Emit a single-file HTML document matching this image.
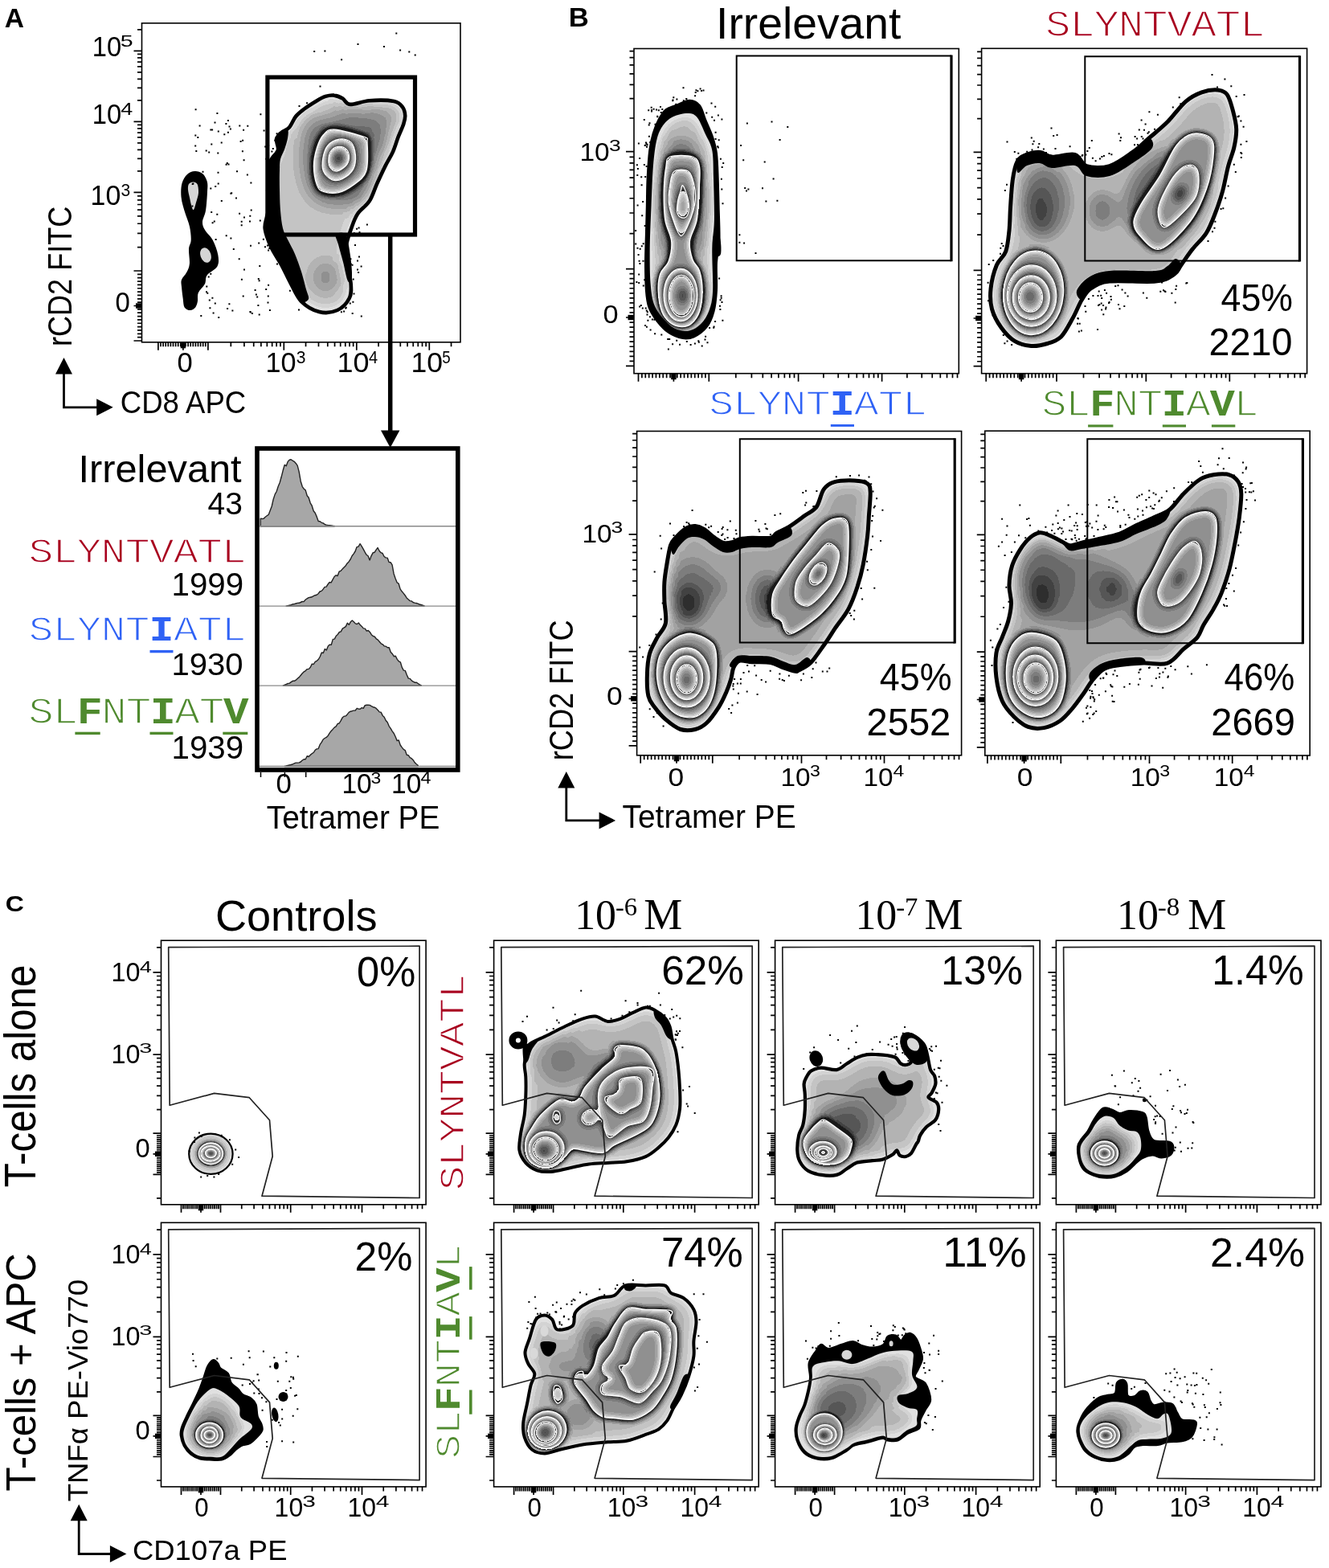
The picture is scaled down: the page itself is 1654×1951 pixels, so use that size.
<!DOCTYPE html>
<html><head><meta charset="utf-8"><title>Figure</title>
<style>html,body{margin:0;padding:0;background:#fff}svg{display:block}</style></head>
<body><svg width="1654" height="1951" viewBox="0 0 1654 1951">
<rect width="1654" height="1951" fill="#fff"/>
<clipPath id="cA1"><rect x="176.5" y="28.8" width="396.5" height="397"/></clipPath>
<filter id="fA1" filterUnits="userSpaceOnUse" x="176.5" y="28.8" width="396.5" height="397" color-interpolation-filters="sRGB">
<feGaussianBlur in="SourceGraphic" stdDeviation="1.0" result="br"/>
<feGaussianBlur in="SourceGraphic" stdDeviation="4.5" result="bg"/>
<feGaussianBlur in="SourceGraphic" stdDeviation="10.0" result="bb"/>
<feGaussianBlur in="SourceGraphic" stdDeviation="9.0" result="bl"/>
<feColorMatrix in="bg" type="matrix" values="0 1 0 0 0 0 0 0 0 0 0 0 0 0 0 0 0 0 0 1" result="g"/>
<feComponentTransfer in="g" result="tg"><feFuncR type="table" tableValues="0 0.06 0.121 0.181 0.241 0.302 0.362 0.422 0.483 0.543 0.603 0.664 0.724 0.784 0.845 0.905 0.965 0.013 0.043 0.073 0.103 0.133 0.164 0.194 0.224 0.254 0.284 0.314 0.345 0.375 0.405 0.435 0.465 0.495 0.526 0.556 0.586 0.616 0.646 0.676 0.707 0.737 0.767 0.797 0.827 0.857 0.888 0.918 0.948 0.978 0.008 0.038 0.069 0.099 0.129 0.159 0.189 0.219 0.25 0.28 0.31 0.34 0.37 0.4 0.431 0.461 0.491 0.521 0.551 0.581 0.612 0.642 0.672 0.702 0.732 0.762 0.793 0.823 0.853 0.883 0.913 0.943 0.974 0.004 0.034 0.064 0.094 0.124 0.155 0.185 0.215 0.245 0.275 0.305 0.336 0.366 0.396 0.426 0.456 0.486 0.517 0.547 0.577 0.607 0.637 0.667 0.698 0.728 0.758 0.788 0.818 0.848 0.879 0.909 0.939 0.969 0.999 0.029 0.06 0.09 0.12 0.15 0.18 0.21 0.241 0.271 0.301 0.331 0.361 0.391 0.422 0.452 0.482 0.512 0.542 0.572 0.603 0.633 0.663 0.693 0.723 0.753 0.784 0.814 0.844 0.874 0.904 0.934 0.965 0.995 0.025 0.055 0.085 0.115 0.146 0.176 0.206 0.236 0.266 0.296 0.327 0.357 0.387 0.417 0.447 0.477 0.508 0.538 0.568 0.598 0.628 0.658 0.689 0.719 0.749 0.779 0.809 0.839 0.87 0.9 0.93 0.96 0.99 0.02 0.051 0.081 0.111 0.141 0.171 0.201 0.232 0.262 0.292 0.322 0.352 0.382 0.413 0.443 0.473 0.503 0.533 0.563 0.594 0.624 0.654 0.684 0.714 0.744 0.775 0.805 0.835 0.865 0.895 0.925 0.956 0.986 0.016 0.046 0.076 0.106 0.137 0.167 0.197 0.227 0.257 0.287 0.317 0.348 0.378 0.408 0.438 0.468 0.498 0.529 0.559 0.589 0.619 0.649 0.679 0.71 0.74 0.77 0.8 0.83 0.86 0.891 0.921 0.951 0.981 0.011 0.041 0.072 0.102 0.132 0.162 0.192"/></feComponentTransfer>
<feColorMatrix in="bb" type="matrix" values="0 0 8.0 0 0 0 0 0 0 0 0 0 0 0 0 0 0 0 0 1" result="b"/>
<feColorMatrix in="bl" type="matrix" values="0.4400 0 0 0 -0.2200 0 0 0 0 0 0 0 0 0 0 0 0 0 0 1" result="l"/>
<feComposite in="b" in2="l" operator="arithmetic" k2="1" k3="1" result="bl2"/>
<feComponentTransfer in="g" result="ib"><feFuncR type="table" tableValues="1 1 1 1 1 1 1 1 1 1 1 1 1 1 1 1 1 0 0 0 0 0 0 0 0 0 0 0 0 0 0 0 0 0 0 0 0 0 0 0 0 0 0 0 0 0 0 0 0 0 0 0 0 0 0 0 0 0 0 0 0 0 0 0 0 0 0 0 0 0 0 0 0 0 0 0 0 0 0 0 0 0 0 0 0 0 0 0 0 0 0 0 0 0 0 0 0 0 0 0 0 0 0 0 0 0 0 0 0 0 0 0 0 0 0 0 0 0 0 0 0 0 0 0 0 0 0 0 0 0 0 0 0 0 0 0 0 0 0 0 0 0 0 0 0 0 0 0 0 0 0 0 0 0 0 0 0 0 0 0 0 0 0 0 0 0 0 0 0 0 0 0 0 0 0 0 0 0 0 0 0 0 0 0 0 0 0 0 0 0 0 0 0 0 0 0 0 0 0 0 0 0 0 0 0 0 0 0 0 0 0 0 0 0 0 0 0 0 0 0 0 0 0 0 0 0 0 0 0 0 0 0 0 0 0 0 0 0 0 0 0 0 0 0 0 0 0 0 0 0 0 0 0 0 0 0"/></feComponentTransfer>
<feComposite in="bl2" in2="ib" operator="arithmetic" k1="1" result="hb"/>
<feComposite in="tg" in2="hb" operator="arithmetic" k2="1" k3="1" result="t"/>
<feComponentTransfer in="t" result="z1"><feFuncR type="table" tableValues="0.88 0.88 0.88 0.88 0.88 0.88 0.88 0.88 0.88 0.88 0.88 0.88 0.88 0.88 0.88 0.88 0.88 0.88 0.88 0.88 0.88 0.88 0.88 0.88 0.831 0.831 0.831 0.831 0.831 0.831 0.831 0.831 0.831 0.831 0.831 0.831 0.831 0.831 0.831 0.831 0.831 0.831 0.831 0.831 0.831 0.831 0.831 0.77 0.77 0.77 0.77 0.77 0.77 0.77 0.77 0.77 0.77 0.77 0.77 0.77 0.77 0.77 0.77 0.77 0.77 0.77 0.77 0.77 0.77 0.77 0.705 0.705 0.705 0.705 0.705 0.705 0.705 0.705 0.705 0.705 0.705 0.705 0.705 0.705 0.705 0.705 0.705 0.705 0.705 0.705 0.705 0.705 0.705 0.636 0.636 0.636 0.636 0.636 0.636 0.636 0.636 0.636 0.636 0.636 0.636 0.636 0.636 0.636 0.636 0.636 0.636 0.636 0.636 0.636 0.636 0.636 0.565 0.565 0.565 0.565 0.565 0.565 0.565 0.565 0.565 0.565 0.565 0.565 0.565 0.565 0.565 0.565 0.565 0.565 0.565 0.565 0.565 0.565 0.565 0.565 0.492 0.492 0.492 0.492 0.492 0.492 0.492 0.492 0.492 0.492 0.492 0.492 0.492 0.492 0.492 0.492 0.492 0.492 0.492 0.492 0.492 0.492 0.492 0.416 0.416 0.416 0.416 0.416 0.416 0.416 0.416 0.416 0.416 0.416 0.416 0.416 0.416 0.416 0.416 0.416 0.416 0.416 0.416 0.416 0.416 0.416 0.339 0.339 0.339 0.339 0.339 0.339 0.339 0.339 0.339 0.339 0.339 0.339 0.339 0.339 0.339 0.339 0.339 0.339 0.339 0.339 0.339 0.339 0.339 0.261 0.261 0.261 0.261 0.261 0.261 0.261 0.261 0.261 0.261 0.261 0.261 0.261 0.261 0.261 0.261 0.261 0.261 0.261 0.261 0.261 0.261 0.261 0.181 0.181 0.181 0.181 0.181 0.181 0.181 0.181 0.181 0.181 0.181 0.181 0.181 0.181 0.181 0.181 0.181 0.181 0.181 0.181 0.181 0.181 0.181 0.1"/></feComponentTransfer>
<feColorMatrix in="z1" type="matrix" values="1 0 0 0 0 1 0 0 0 0 1 0 0 0 0 0 0 0 0 1" result="z"/>
<feColorMatrix in="br" type="matrix" values="0 0 0 0 0 0 0 0 0 0 0 0 0 0 0 3 0 0 0 -1" result="m"/>
<feComposite in="z" in2="m" operator="in"/>
</filter>
<defs><path id="s1" d="M415.8 118.6C419.4 119 423.1 120.7 426.4 122.6C429.7 124.5 430.1 129.5 435.7 129.9C441.2 130.3 450.6 125.9 459.7 125.2C468.8 124.5 483.4 124.6 490.3 125.9C497.2 127.2 498.6 130.2 500.9 133.2C503.2 136.2 504 140.2 504.2 143.8C504.4 147.4 503.6 150.1 502.2 154.5C500.8 158.9 497.8 164.6 495.6 170.4C493.4 176.2 491.6 183.1 488.9 189.1C486.2 195.1 482.9 199.8 479.6 206.4C476.3 213.1 472.3 221.7 469 229C465.7 236.3 463.7 244.1 459.7 250.3C455.7 256.5 448.8 260.4 445 266.2C441.2 271.9 439.3 278.3 437 284.8C434.7 291.3 432 298.1 431 305C430 311.9 430.1 318.1 431 326C431.9 333.9 436 344.8 436.6 352.3C437.2 359.8 437.6 365.4 434.8 371C432 376.6 426.1 383.2 419.8 386C413.6 388.8 404.8 389.9 397.3 388C389.8 386.1 380.7 380.8 374.8 374.8C368.9 368.9 365.8 359.8 361.7 352.3C357.6 344.8 354.5 337.3 350.4 329.8C346.3 322.3 340.7 314.8 337.3 307.3C333.9 299.8 330.7 291.1 329.8 284.9C328.9 278.7 331 275.3 332 270C333 264.7 335.3 260.2 336 252.9C336.7 245.6 336.2 234.1 336 226.3C335.8 218.6 334.2 211.3 334.6 206.4C335 201.5 336.7 200.3 338.6 197C340.5 193.7 345.1 190.4 346 186.4C346.9 182.4 343.3 176.7 344 173.1C344.7 169.5 347.3 167.5 350 165.1C352.7 162.7 357 161.8 360 158.5C363 155.2 365 148.8 368 145C371 141.2 373.6 139.3 378 136C382.4 132.7 390 127.9 394.5 125.2C399 122.5 401.6 121 405.1 119.9C408.7 118.8 412.2 118.1 415.8 118.6Z"/><path id="s2" d="M415.8 161.1C424.2 161.5 446.1 167.7 453 170.4C459.9 173.1 456.6 170 457 177.1C457.4 184.2 458.6 204.1 455.7 213C452.8 221.9 445.5 225.9 439.7 230.3C433.9 234.7 427.3 238.3 421.1 239.6C414.9 240.9 406.9 239.9 402.5 238.3C398.1 236.8 396.5 235.6 394.5 230.3C392.5 225 390.5 214.2 390.5 206.4C390.5 198.7 392.5 190.2 394.5 183.8C396.5 177.4 398.9 171.6 402.5 167.8C406.1 164 407.4 160.7 415.8 161.1Z"/><path id="s3" d="M422.4 173.1C427.3 172.4 433.7 173.8 437 177.1C440.3 180.4 441.9 187.5 442.4 193.1C442.8 198.7 442.4 205.5 439.7 210.4C437 215.3 430.8 220.1 426.4 222.3C422 224.5 417.1 225.2 413.1 223.7C409.1 222.1 404.4 217.4 402.5 213C400.6 208.6 400.9 202.3 401.8 197C402.7 191.7 404.4 185.1 407.8 181.1C411.2 177.1 417.5 173.8 422.4 173.1Z"/><path id="s4" d="M422.4 182.4C425.5 182.4 429.7 184 431.7 186.4C433.7 188.8 434.6 193.7 434.4 197C434.2 200.3 432.9 203.7 430.4 206.4C427.8 209.1 422.4 212.8 419.1 213C415.8 213.2 412.2 210.6 410.5 207.7C408.8 204.8 408.7 199.2 409.1 195.7C409.5 192.1 410.9 188.6 413.1 186.4C415.3 184.2 419.3 182.4 422.4 182.4Z"/><ellipse id="s5" cx="421.1" cy="197" rx="8" ry="9"/><path id="s6" d="M392 150C405.7 145 445.3 148.3 460 150C474.7 151.7 478.3 151.7 480 160C481.7 168.3 474.2 185.8 470 200C465.8 214.2 462.5 235.8 455 245C447.5 254.2 435 254.2 425 255C415 255.8 402.5 255 395 250C387.5 245 382.8 236.7 380 225C377.2 213.3 376 192.5 378 180C380 167.5 378.3 155 392 150Z"/><path id="s7" d="M420 130C430 127.5 477.5 131.7 490 135C502.5 138.3 498.3 145.8 495 150C491.7 154.2 480.8 160 470 160C459.2 160 438.3 155 430 150C421.7 145 410 132.5 420 130Z"/><ellipse id="s8" cx="405" cy="345" rx="16" ry="20"/><path id="s9" d="M329.8 284.9C328.9 278.7 331 275.3 332 270C333 264.7 335.3 260.2 336 252.9C336.7 245.6 336.2 234.1 336 226.3C335.8 218.6 334.2 211.3 334.6 206.4C335 201.5 336.7 200.3 338.6 197C340.5 193.7 345.1 190.4 346 186.4C346.9 182.4 343.3 176.7 344 173.1C344.7 169.5 347.7 167.1 350 165.1C352.3 163.1 356.7 159.8 358 161C359.3 162.2 358.7 167.8 358 172C357.3 176.2 355.5 181.7 354 186C352.5 190.3 350 193.7 349 198C348 202.3 348.2 205.7 348 212C347.8 218.3 347.8 227.7 348 236C348.2 244.3 348.3 254 349 262C349.7 270 350.5 278 352 284C353.5 290 355.5 292.7 358 298C360.5 303.3 364.2 309.3 367 316C369.8 322.7 372.7 330.7 375 338C377.3 345.3 379.5 354.3 381 360C382.5 365.7 385 369.5 384 372C383 374.5 378.5 378.1 374.8 374.8C371.1 371.5 365.8 359.8 361.7 352.3C357.6 344.8 354.5 337.3 350.4 329.8C346.3 322.3 340.7 314.8 337.3 307.3C333.9 299.8 330.7 291.1 329.8 284.9Z"/><path id="s10" d="M418 292C419.5 290 427 287.7 430 292C433 296.3 434.7 309.2 436 318C437.3 326.8 438.5 339.7 438 345C437.5 350.3 434.8 353.2 433 350C431.2 346.8 429 333.7 427 326C425 318.3 422.5 309.7 421 304C419.5 298.3 416.5 294 418 292Z"/><path id="s11" d="M242.4 213.1C245.6 212.9 249.4 213.8 252 216C254.6 218.2 256.8 222.2 257.8 226C258.8 229.8 258.3 233 258 239C257.7 245 257 255.8 256 262C255 268.2 252.2 272 252 276C251.8 280 252.8 282.2 255 286C257.1 289.8 262.2 293.7 264.9 298.9C267.6 304.1 270.4 311.7 271.3 317.1C272.2 322.6 272.7 327.4 270.4 331.6C268.1 335.8 260.3 338.9 257.7 342.5C255.1 346.1 256.8 349.7 255 353.3C253.2 356.9 248.3 360.6 246.8 364.2C245.3 367.8 246.5 372.1 245.9 375.1C245.3 378.1 244.7 380.6 243.2 382.4C241.7 384.2 239.1 386 236.8 386C234.5 386 231.1 384.8 229.6 382.4C228.1 380 228.3 375.7 227.7 371.5C227.1 367.3 226.3 360.9 226 357C225.7 353.1 224.9 350.9 226 347.9C227.1 344.9 230.7 342.1 232.3 338.8C234 335.5 235.5 332.8 235.9 328C236.3 323.2 234.7 314.7 235 309.8C235.3 304.9 237.5 303.5 237.7 298.9C237.9 294.3 237.3 288.1 236 282C234.7 275.9 231.3 268.8 229.6 262.6C227.8 256.4 226 250.8 225.5 245C225 239.2 225.2 232.7 226.5 228C227.8 223.3 230.3 219.5 233 217C235.7 214.5 239.2 213.3 242.4 213.1Z"/><path id="s12" d="M235 229C236 227.4 238.2 226.5 240 226.5C241.8 226.5 244.3 226.8 245.5 229C246.7 231.2 247.2 236.2 247 240C246.8 243.8 245 248.5 244 252C243 255.5 241.9 260.2 241 261C240.1 261.8 239.3 259.5 238.5 257C237.7 254.5 236.8 249.5 236 246C235.2 242.5 234.2 238.8 234 236C233.8 233.2 234 230.6 235 229Z"/><ellipse id="s13" cx="256" cy="317.5" rx="6.5" ry="9.5" transform="rotate(-20 256 317.5)"/></defs>
<g clip-path="url(#cA1)">
<use href="#s1" fill="#000"/>
<g filter="url(#fA1)">
<rect x="136.5" y="-11.2" width="476.5" height="477" fill="#000"/>
<use href="#s1" fill="#f00" style="mix-blend-mode:lighten"/>
<use href="#s2" fill="rgb(0,33,0)" style="mix-blend-mode:lighten"/>
<use href="#s3" fill="rgb(0,66,0)" style="mix-blend-mode:lighten"/>
<use href="#s4" fill="rgb(0,99,0)" style="mix-blend-mode:lighten"/>
<use href="#s5" fill="rgb(0,113,0)" style="mix-blend-mode:lighten"/>
<use href="#s6" fill="rgb(0,0,15)" style="mix-blend-mode:lighten"/>
<use href="#s7" fill="rgb(0,0,8)" style="mix-blend-mode:lighten"/>
<use href="#s8" fill="rgb(0,0,10)" style="mix-blend-mode:lighten"/>
</g>
<use href="#s2" fill="none" stroke="#fff" stroke-width="1.3"/>
<use href="#s3" fill="none" stroke="#fff" stroke-width="1.3"/>
<use href="#s4" fill="none" stroke="#fff" stroke-width="1.3"/>
<use href="#s1" fill="none" stroke="#000" stroke-width="4.6" stroke-linejoin="round"/>
<use href="#s9" fill="#000"/>
<use href="#s10" fill="#000"/>
<use href="#s11" fill="#000"/>
<use href="#s12" fill="#d5d5d5"/>
<use href="#s13" fill="#d5d5d5"/>
<path d="M261.4 160.5h2v2h-2zM302.6 198.3h2v2h-2zM298.6 174.9h2v2h-2zM333.1 310.4h2v2h-2zM266.5 151.5h2v2h-2zM319.2 368.4h2v2h-2zM270.8 162.6h2v2h-2zM332.8 367.5h2v2h-2zM282.9 163.7h2v2h-2zM310.9 387.4h2v2h-2zM267.2 231.1h2v2h-2zM322.3 330.0h2v2h-2zM326.9 296.7h2v2h-2zM260.4 382.2h2v2h-2zM316.6 359.9h2v2h-2zM270.5 213.8h2v2h-2zM332.5 375.5h2v2h-2zM247.6 155.6h2v2h-2zM250.9 306.9h2v2h-2zM262.3 178.6h2v2h-2zM288.4 385.4h2v2h-2zM284.5 156.4h2v2h-2zM251.5 212.8h2v2h-2zM270.3 189.4h2v2h-2zM246.0 223.4h2v2h-2zM259.2 188.6h2v2h-2zM246.2 282.3h2v2h-2zM311.4 226.5h2v2h-2zM248.6 245.0h2v2h-2zM245.3 170.0h2v2h-2zM263.4 369.8h2v2h-2zM243.5 261.6h2v2h-2zM239.4 227.4h2v2h-2zM333.1 353.8h2v2h-2zM283.5 203.6h2v2h-2zM263.6 276.3h2v2h-2zM280.6 203.7h2v2h-2zM241.4 338.2h2v2h-2zM334.9 385.1h2v2h-2zM287.2 239.3h2v2h-2zM249.3 392.1h2v2h-2zM280.4 153.1h2v2h-2zM332.0 304.4h2v2h-2zM310.0 274.6h2v2h-2zM258.7 343.4h2v2h-2zM310.3 267.8h2v2h-2zM329.2 181.5h2v2h-2zM248.8 352.6h2v2h-2zM321.6 348.2h2v2h-2zM280.7 292.2h2v2h-2zM296.7 321.3h2v2h-2zM278.3 166.3h2v2h-2zM270.7 227.5h2v2h-2zM242.2 180.6h2v2h-2zM303.0 269.4h2v2h-2zM256.3 355.5h2v2h-2zM242.6 135.2h2v2h-2zM301.7 367.6h2v2h-2zM321.2 301.5h2v2h-2zM281.8 201.9h2v2h-2zM329.0 306.3h2v2h-2zM257.3 363.7h2v2h-2zM310.4 387.0h2v2h-2zM274.8 248.9h2v2h-2zM294.0 212.2h2v2h-2zM266.8 376.6h2v2h-2zM317.9 365.5h2v2h-2zM311.0 304.7h2v2h-2zM241.9 348.0h2v2h-2zM257.3 299.1h2v2h-2zM300.9 187.2h2v2h-2zM307.3 155.7h2v2h-2zM248.4 333.0h2v2h-2zM269.3 265.7h2v2h-2zM299.7 274.8h2v2h-2zM320.8 346.1h2v2h-2zM263.1 160.4h2v2h-2zM284.4 377.2h2v2h-2zM261.3 339.7h2v2h-2zM282.1 382.9h2v2h-2zM243.3 187.1h2v2h-2zM313.0 389.1h2v2h-2zM330.2 358.9h2v2h-2zM265.8 274.4h2v2h-2zM238.4 255.5h2v2h-2zM285.9 159.6h2v2h-2zM256.0 362.2h2v2h-2zM289.8 309.1h2v2h-2zM320.4 378.9h2v2h-2zM330.3 196.8h2v2h-2zM297.3 155.4h2v2h-2zM261.3 233.4h2v2h-2zM242.3 167.4h2v2h-2zM299.9 346.7h2v2h-2zM274.7 176.6h2v2h-2zM301.1 173.8h2v2h-2zM323.4 141.2h2v2h-2zM259.8 372.4h2v2h-2zM306.9 216.6h2v2h-2zM244.8 302.8h2v2h-2zM283.0 149.0h2v2h-2zM327.6 161.6h2v2h-2zM311.7 260.5h2v2h-2zM302.1 160.7h2v2h-2zM321.7 390.5h2v2h-2zM238.7 228.1h2v2h-2zM299.7 279.3h2v2h-2zM322.8 273.6h2v2h-2zM271.2 394.0h2v2h-2zM267.6 297.1h2v2h-2zM269.4 139.9h2v2h-2zM293.0 245.5h2v2h-2zM239.8 350.7h2v2h-2zM303.0 334.5h2v2h-2zM286.4 295.5h2v2h-2zM262.2 262.9h2v2h-2zM297.1 264.7h2v2h-2zM286.4 239.7h2v2h-2zM255.7 186.6h2v2h-2zM264.6 388.5h2v2h-2zM403.4 62.5h2v2h-2zM390.2 62.9h2v2h-2zM477.0 57.0h2v2h-2zM515.7 67.4h2v2h-2zM397.5 106.6h2v2h-2zM424.1 73.2h2v2h-2zM497.1 61.5h2v2h-2zM492.3 40.4h2v2h-2zM444.5 53.9h2v2h-2zM508.3 63.5h2v2h-2zM444.0 323.5h2v2h-2zM455.9 278.5h2v2h-2zM435.7 327.5h2v2h-2zM438.7 346.6h2v2h-2zM437.5 328.7h2v2h-2zM438.4 374.8h2v2h-2zM445.1 337.9h2v2h-2zM423.9 387.3h2v2h-2zM444.3 290.5h2v2h-2zM446.5 288.1h2v2h-2zM441.0 304.1h2v2h-2zM429.8 381.7h2v2h-2zM435.4 321.3h2v2h-2zM448.8 392.6h2v2h-2zM437.7 388.9h2v2h-2zM444.0 334.6h2v2h-2zM445.6 282.5h2v2h-2zM439.8 288.9h2v2h-2zM448.6 330.5h2v2h-2zM439.5 364.5h2v2h-2zM446.0 318.4h2v2h-2zM443.1 283.8h2v2h-2zM434.8 376.6h2v2h-2zM429.2 382.5h2v2h-2zM427.1 386.6h2v2h-2zM343.6 165.3h2v2h-2zM337.4 187.5h2v2h-2zM332.7 247.6h2v2h-2zM371.5 130.9h2v2h-2zM359.9 360.7h2v2h-2zM333.1 222.6h2v2h-2zM333.1 179.9h2v2h-2zM334.3 307.9h2v2h-2zM338.8 183.9h2v2h-2zM371.0 384.4h2v2h-2zM330.9 236.2h2v2h-2zM346.9 164.1h2v2h-2zM381.1 127.2h2v2h-2zM344.0 327.5h2v2h-2zM341.3 173.7h2v2h-2z" fill="#000"/>
</g>
<clipPath id="cB1"><rect x="789" y="60.5" width="404.3" height="404.2"/></clipPath>
<filter id="fB1" filterUnits="userSpaceOnUse" x="789" y="60.5" width="404.3" height="404.2" color-interpolation-filters="sRGB">
<feGaussianBlur in="SourceGraphic" stdDeviation="1.0" result="br"/>
<feGaussianBlur in="SourceGraphic" stdDeviation="4.5" result="bg"/>
<feGaussianBlur in="SourceGraphic" stdDeviation="10.0" result="bb"/>
<feGaussianBlur in="SourceGraphic" stdDeviation="9.0" result="bl"/>
<feColorMatrix in="bg" type="matrix" values="0 1 0 0 0 0 0 0 0 0 0 0 0 0 0 0 0 0 0 1" result="g"/>
<feComponentTransfer in="g" result="tg"><feFuncR type="table" tableValues="0 0.06 0.121 0.181 0.241 0.302 0.362 0.422 0.483 0.543 0.603 0.664 0.724 0.784 0.845 0.905 0.965 0.013 0.043 0.073 0.103 0.133 0.164 0.194 0.224 0.254 0.284 0.314 0.345 0.375 0.405 0.435 0.465 0.495 0.526 0.556 0.586 0.616 0.646 0.676 0.707 0.737 0.767 0.797 0.827 0.857 0.888 0.918 0.948 0.978 0.008 0.038 0.069 0.099 0.129 0.159 0.189 0.219 0.25 0.28 0.31 0.34 0.37 0.4 0.431 0.461 0.491 0.521 0.551 0.581 0.612 0.642 0.672 0.702 0.732 0.762 0.793 0.823 0.853 0.883 0.913 0.943 0.974 0.004 0.034 0.064 0.094 0.124 0.155 0.185 0.215 0.245 0.275 0.305 0.336 0.366 0.396 0.426 0.456 0.486 0.517 0.547 0.577 0.607 0.637 0.667 0.698 0.728 0.758 0.788 0.818 0.848 0.879 0.909 0.939 0.969 0.999 0.029 0.06 0.09 0.12 0.15 0.18 0.21 0.241 0.271 0.301 0.331 0.361 0.391 0.422 0.452 0.482 0.512 0.542 0.572 0.603 0.633 0.663 0.693 0.723 0.753 0.784 0.814 0.844 0.874 0.904 0.934 0.965 0.995 0.025 0.055 0.085 0.115 0.146 0.176 0.206 0.236 0.266 0.296 0.327 0.357 0.387 0.417 0.447 0.477 0.508 0.538 0.568 0.598 0.628 0.658 0.689 0.719 0.749 0.779 0.809 0.839 0.87 0.9 0.93 0.96 0.99 0.02 0.051 0.081 0.111 0.141 0.171 0.201 0.232 0.262 0.292 0.322 0.352 0.382 0.413 0.443 0.473 0.503 0.533 0.563 0.594 0.624 0.654 0.684 0.714 0.744 0.775 0.805 0.835 0.865 0.895 0.925 0.956 0.986 0.016 0.046 0.076 0.106 0.137 0.167 0.197 0.227 0.257 0.287 0.317 0.348 0.378 0.408 0.438 0.468 0.498 0.529 0.559 0.589 0.619 0.649 0.679 0.71 0.74 0.77 0.8 0.83 0.86 0.891 0.921 0.951 0.981 0.011 0.041 0.072 0.102 0.132 0.162 0.192"/></feComponentTransfer>
<feColorMatrix in="bb" type="matrix" values="0 0 8.0 0 0 0 0 0 0 0 0 0 0 0 0 0 0 0 0 1" result="b"/>
<feColorMatrix in="bl" type="matrix" values="0.6000 0 0 0 -0.3000 0 0 0 0 0 0 0 0 0 0 0 0 0 0 1" result="l"/>
<feComposite in="b" in2="l" operator="arithmetic" k2="1" k3="1" result="bl2"/>
<feComponentTransfer in="g" result="ib"><feFuncR type="table" tableValues="1 1 1 1 1 1 1 1 1 1 1 1 1 1 1 1 1 0 0 0 0 0 0 0 0 0 0 0 0 0 0 0 0 0 0 0 0 0 0 0 0 0 0 0 0 0 0 0 0 0 0 0 0 0 0 0 0 0 0 0 0 0 0 0 0 0 0 0 0 0 0 0 0 0 0 0 0 0 0 0 0 0 0 0 0 0 0 0 0 0 0 0 0 0 0 0 0 0 0 0 0 0 0 0 0 0 0 0 0 0 0 0 0 0 0 0 0 0 0 0 0 0 0 0 0 0 0 0 0 0 0 0 0 0 0 0 0 0 0 0 0 0 0 0 0 0 0 0 0 0 0 0 0 0 0 0 0 0 0 0 0 0 0 0 0 0 0 0 0 0 0 0 0 0 0 0 0 0 0 0 0 0 0 0 0 0 0 0 0 0 0 0 0 0 0 0 0 0 0 0 0 0 0 0 0 0 0 0 0 0 0 0 0 0 0 0 0 0 0 0 0 0 0 0 0 0 0 0 0 0 0 0 0 0 0 0 0 0 0 0 0 0 0 0 0 0 0 0 0 0 0 0 0 0 0 0"/></feComponentTransfer>
<feComposite in="bl2" in2="ib" operator="arithmetic" k1="1" result="hb"/>
<feComposite in="tg" in2="hb" operator="arithmetic" k2="1" k3="1" result="t"/>
<feComponentTransfer in="t" result="z1"><feFuncR type="table" tableValues="0.88 0.88 0.88 0.88 0.88 0.88 0.88 0.88 0.88 0.88 0.88 0.88 0.88 0.88 0.88 0.88 0.88 0.88 0.88 0.88 0.88 0.88 0.88 0.88 0.831 0.831 0.831 0.831 0.831 0.831 0.831 0.831 0.831 0.831 0.831 0.831 0.831 0.831 0.831 0.831 0.831 0.831 0.831 0.831 0.831 0.831 0.831 0.77 0.77 0.77 0.77 0.77 0.77 0.77 0.77 0.77 0.77 0.77 0.77 0.77 0.77 0.77 0.77 0.77 0.77 0.77 0.77 0.77 0.77 0.77 0.705 0.705 0.705 0.705 0.705 0.705 0.705 0.705 0.705 0.705 0.705 0.705 0.705 0.705 0.705 0.705 0.705 0.705 0.705 0.705 0.705 0.705 0.705 0.636 0.636 0.636 0.636 0.636 0.636 0.636 0.636 0.636 0.636 0.636 0.636 0.636 0.636 0.636 0.636 0.636 0.636 0.636 0.636 0.636 0.636 0.636 0.565 0.565 0.565 0.565 0.565 0.565 0.565 0.565 0.565 0.565 0.565 0.565 0.565 0.565 0.565 0.565 0.565 0.565 0.565 0.565 0.565 0.565 0.565 0.565 0.492 0.492 0.492 0.492 0.492 0.492 0.492 0.492 0.492 0.492 0.492 0.492 0.492 0.492 0.492 0.492 0.492 0.492 0.492 0.492 0.492 0.492 0.492 0.416 0.416 0.416 0.416 0.416 0.416 0.416 0.416 0.416 0.416 0.416 0.416 0.416 0.416 0.416 0.416 0.416 0.416 0.416 0.416 0.416 0.416 0.416 0.339 0.339 0.339 0.339 0.339 0.339 0.339 0.339 0.339 0.339 0.339 0.339 0.339 0.339 0.339 0.339 0.339 0.339 0.339 0.339 0.339 0.339 0.339 0.261 0.261 0.261 0.261 0.261 0.261 0.261 0.261 0.261 0.261 0.261 0.261 0.261 0.261 0.261 0.261 0.261 0.261 0.261 0.261 0.261 0.261 0.261 0.181 0.181 0.181 0.181 0.181 0.181 0.181 0.181 0.181 0.181 0.181 0.181 0.181 0.181 0.181 0.181 0.181 0.181 0.181 0.181 0.181 0.181 0.181 0.1"/></feComponentTransfer>
<feColorMatrix in="z1" type="matrix" values="1 0 0 0 0 1 0 0 0 0 1 0 0 0 0 0 0 0 0 1" result="z"/>
<feColorMatrix in="br" type="matrix" values="0 0 0 0 0 0 0 0 0 0 0 0 0 0 0 3 0 0 0 -1" result="m"/>
<feComposite in="z" in2="m" operator="in"/>
</filter>
<defs><path id="s14" d="M858.4 125.3C863.3 125.3 867.4 127.5 870.6 131.4C873.8 135.3 875 142.4 877.6 148.8C880.2 155.2 884 162.7 886.3 169.7C888.6 176.7 890.4 181.9 891.5 190.6C892.6 199.3 892.8 211 893.2 222C893.6 233 893.8 243.8 894.1 256.8C894.4 269.9 895.4 288.7 895 300.3C894.6 311.9 892.1 316.3 891.5 326.5C890.9 336.7 892.1 351.1 891.5 361.3C890.9 371.5 890 379.9 888 387.5C886 395.1 883.4 401.4 879.3 406.6C875.2 411.8 868.5 416.5 863.6 418.8C858.7 421.1 854.9 421.5 849.7 420.6C844.5 419.7 837.5 417.1 832.3 413.6C827.1 410.1 822.4 404.9 818.3 399.7C814.2 394.5 810.2 388.6 807.9 382.2C805.6 375.8 805.1 370.6 804.4 361.3C803.7 352 803.5 338.1 803.5 326.5C803.5 314.9 804.1 303.2 804.4 291.6C804.7 280 805 268.4 805.3 256.8C805.6 245.2 805.5 233.6 806.1 222C806.7 210.4 807.5 196.4 808.7 187.1C809.9 177.8 811.2 172.6 813.1 166.2C815 159.8 817.5 153.7 820.1 148.8C822.7 143.9 825.3 139.5 828.8 136.6C832.3 133.7 836.1 133.3 841 131.4C845.9 129.5 853.5 125.3 858.4 125.3Z"/><path id="s15" d="M855 141C859.9 141 863.2 141.1 867 145.3C870.8 149.5 874.4 159.2 877.6 166.2C880.8 173.2 884.6 177.8 886.3 187.1C888 196.4 887.6 207.5 888 222C888.4 236.5 889.2 259.7 888.9 274.2C888.6 288.7 886.6 294.5 886.3 309C886 323.5 887.7 348.5 887.1 361.3C886.5 374.1 885.3 378.7 882.8 385.7C880.3 392.7 876.6 398.8 872.3 403.1C867.9 407.5 862.2 410.9 856.7 411.8C851.2 412.7 844.4 411 839.2 408.4C834 405.8 829.5 401.1 825.3 396.2C821.1 391.2 816.6 386 814 378.7C811.4 371.4 810.5 364.2 809.6 352.6C808.7 341 808.6 325 808.7 309C808.9 293 809.8 274.2 810.5 256.8C811.2 239.4 811.9 218.4 813.1 204.5C814.3 190.6 815.5 181.3 817.5 173.2C819.5 165.1 822 160.3 825.3 155.7C828.6 151 832.5 147.8 837.5 145.3C842.5 142.9 850.1 141 855 141Z"/><path id="s16" d="M834 195C839.5 192.8 855.8 192.8 861.9 195C868 197.2 869.3 200.6 870.6 208C871.9 215.4 870.3 228.4 869.7 239.4C869.1 250.4 869 264.1 867.1 274.2C865.2 284.3 859.3 292.2 858.4 300.3C857.5 308.4 859.9 316.9 861.9 323C863.9 329.1 868.6 330.5 870.6 336.9C872.6 343.3 874.1 352.9 874.1 361.3C874.1 369.7 872.9 380.5 870.6 387.5C868.3 394.5 863.9 399.9 860.1 403.1C856.3 406.3 852.2 406.9 847.9 406.6C843.5 406.3 838 404.6 834 401.4C830 398.2 826.1 394.2 823.6 387.5C821.1 380.8 819.5 369.2 819.2 361.3C818.9 353.4 819.6 346.5 821.8 340.4C824 334.3 830 331.4 832.3 324.7C834.6 318 836.4 308.7 835.7 300.3C835 291.9 829.5 284.3 827.9 274.2C826.3 264.1 826.1 250.4 826.2 239.4C826.4 228.4 827.5 215.4 828.8 208C830.1 200.6 828.5 197.2 834 195Z"/><path id="s17" d="M839.2 213.2C843 210.6 852.6 210.6 856.7 213.2C860.8 215.8 862.2 223.1 863.6 228.9C865 234.7 866 241.1 865.4 248.1C864.8 255.1 863 263.1 860.1 270.7C857.2 278.2 851.7 293.1 847.9 293.4C844.1 293.7 840.1 279.5 837.5 272.5C834.9 265.5 832.9 258.9 832.3 251.6C831.7 244.3 832.9 235.3 834 228.9C835.1 222.5 835.4 215.8 839.2 213.2Z"/><path id="s18" d="M849.7 230.7C851 231.6 853.6 238.6 854.9 242.9C856.2 247.2 857.5 252.5 857.5 256.8C857.5 261.2 856.5 266.7 854.9 269C853.3 271.3 849.9 271.6 847.9 270.7C845.9 269.8 843.4 267.3 842.7 263.8C842 260.3 842.9 254.2 843.6 249.8C844.3 245.4 846.1 240.8 847.1 237.6C848.1 234.4 848.4 229.8 849.7 230.7Z"/><ellipse id="s19" cx="847" cy="367" rx="21" ry="32.7"/><ellipse id="s20" cx="848" cy="368.3" rx="15.7" ry="26"/><ellipse id="s21" cx="849.5" cy="368" rx="7" ry="10"/><ellipse id="s22" cx="848" cy="250" rx="28" ry="75"/><ellipse id="s23" cx="848" cy="370" rx="30" ry="40"/><ellipse id="s24" cx="848" cy="300" rx="25" ry="20"/><path id="s25" d="M889 292C890.5 290.7 894.7 292 896 296C897.3 300 898 312.3 897 316C896 319.7 891.7 320 890 318C888.3 316 887.2 308.3 887 304C886.8 299.7 887.5 293.3 889 292Z"/></defs>
<g clip-path="url(#cB1)">
<use href="#s14" fill="#000"/>
<g filter="url(#fB1)">
<rect x="749" y="20.5" width="484.3" height="484.2" fill="#000"/>
<use href="#s15" fill="#f00" style="mix-blend-mode:lighten"/>
<use href="#s16" fill="rgb(0,33,0)" style="mix-blend-mode:lighten"/>
<use href="#s17" fill="rgb(0,66,0)" style="mix-blend-mode:lighten"/>
<use href="#s18" fill="rgb(0,99,0)" style="mix-blend-mode:lighten"/>
<use href="#s19" fill="rgb(0,66,0)" style="mix-blend-mode:lighten"/>
<use href="#s20" fill="rgb(0,99,0)" style="mix-blend-mode:lighten"/>
<use href="#s21" fill="rgb(0,113,0)" style="mix-blend-mode:lighten"/>
<use href="#s22" fill="rgb(0,0,15)" style="mix-blend-mode:lighten"/>
<use href="#s23" fill="rgb(0,0,13)" style="mix-blend-mode:lighten"/>
<use href="#s24" fill="rgb(0,0,10)" style="mix-blend-mode:lighten"/>
</g>
<use href="#s16" fill="none" stroke="#fff" stroke-width="1.3"/>
<use href="#s17" fill="none" stroke="#fff" stroke-width="1.3"/>
<use href="#s18" fill="none" stroke="#fff" stroke-width="1.3"/>
<use href="#s19" fill="none" stroke="#fff" stroke-width="1.3"/>
<use href="#s20" fill="none" stroke="#fff" stroke-width="1.3"/>
<use href="#s14" fill="none" stroke="#000" stroke-width="3.0" stroke-linejoin="round"/>
<use href="#s25" fill="#000"/>
<path d="M896.6 367.2h2v2h-2zM823.3 135.0h2v2h-2zM795.4 327.0h2v2h-2zM792.9 209.1h2v2h-2zM878.3 139.4h2v2h-2zM853.4 122.2h2v2h-2zM804.5 390.4h2v2h-2zM897.7 206.9h2v2h-2zM806.2 136.3h2v2h-2zM803.0 176.5h2v2h-2zM804.0 181.7h2v2h-2zM836.3 124.2h2v2h-2zM802.2 179.7h2v2h-2zM832.2 420.9h2v2h-2zM898.5 252.3h2v2h-2zM790.2 302.5h2v2h-2zM806.7 154.6h2v2h-2zM801.7 280.0h2v2h-2zM802.2 218.9h2v2h-2zM896.9 221.7h2v2h-2zM885.2 144.8h2v2h-2zM803.6 177.8h2v2h-2zM836.5 123.4h2v2h-2zM797.2 219.2h2v2h-2zM840.3 128.7h2v2h-2zM895.4 384.1h2v2h-2zM795.1 380.4h2v2h-2zM836.1 427.3h2v2h-2zM797.6 229.2h2v2h-2zM889.6 172.0h2v2h-2zM792.6 254.4h2v2h-2zM807.9 393.2h2v2h-2zM853.2 121.9h2v2h-2zM813.4 396.7h2v2h-2zM845.0 427.8h2v2h-2zM803.7 206.0h2v2h-2zM797.8 305.2h2v2h-2zM799.1 249.9h2v2h-2zM807.5 152.3h2v2h-2zM853.8 423.9h2v2h-2zM810.0 137.4h2v2h-2zM898.4 397.8h2v2h-2zM841.4 122.4h2v2h-2zM868.8 424.7h2v2h-2zM877.1 417.7h2v2h-2zM803.8 385.5h2v2h-2zM800.8 148.1h2v2h-2zM841.2 422.7h2v2h-2zM794.2 340.4h2v2h-2zM895.6 372.3h2v2h-2zM899.2 202.1h2v2h-2zM805.4 397.7h2v2h-2zM896.7 369.8h2v2h-2zM802.1 403.9h2v2h-2zM814.1 414.3h2v2h-2zM864.1 118.2h2v2h-2zM806.9 168.8h2v2h-2zM810.0 135.9h2v2h-2zM821.0 131.9h2v2h-2zM798.2 267.2h2v2h-2zM874.5 111.6h2v2h-2zM793.6 315.9h2v2h-2zM892.8 182.6h2v2h-2zM872.0 112.1h2v2h-2zM887.6 405.4h2v2h-2zM798.8 382.6h2v2h-2zM889.1 399.1h2v2h-2zM894.1 345.6h2v2h-2zM817.2 143.7h2v2h-2zM876.5 421.6h2v2h-2zM818.8 136.3h2v2h-2zM796.8 379.0h2v2h-2zM812.6 134.8h2v2h-2zM808.6 409.5h2v2h-2zM817.3 144.3h2v2h-2zM794.2 351.1h2v2h-2zM887.2 406.7h2v2h-2zM893.7 173.2h2v2h-2zM794.6 323.7h2v2h-2zM790.1 285.9h2v2h-2zM868.3 423.3h2v2h-2zM863.9 426.6h2v2h-2zM801.2 347.2h2v2h-2zM889.2 131.8h2v2h-2zM895.0 379.8h2v2h-2zM795.1 196.0h2v2h-2zM801.7 180.1h2v2h-2zM879.5 425.3h2v2h-2zM864.7 114.0h2v2h-2zM867.4 112.2h2v2h-2zM816.0 135.4h2v2h-2zM865.4 111.3h2v2h-2zM897.4 147.6h2v2h-2zM821.8 139.0h2v2h-2zM849.8 124.2h2v2h-2zM792.3 217.0h2v2h-2zM814.5 153.7h2v2h-2zM809.7 132.8h2v2h-2zM822.3 415.5h2v2h-2zM892.9 142.4h2v2h-2zM872.7 429.5h2v2h-2zM793.9 177.6h2v2h-2zM830.2 421.0h2v2h-2zM792.5 307.7h2v2h-2zM884.5 127.6h2v2h-2zM882.1 407.0h2v2h-2zM830.9 433.5h2v2h-2zM804.8 387.2h2v2h-2zM802.7 382.6h2v2h-2zM870.6 109.4h2v2h-2zM892.2 181.3h2v2h-2zM803.9 405.8h2v2h-2zM791.9 204.3h2v2h-2zM808.2 175.9h2v2h-2zM804.6 179.2h2v2h-2zM858.6 428.1h2v2h-2zM791.4 350.0h2v2h-2zM895.9 196.8h2v2h-2zM800.9 203.9h2v2h-2zM795.7 308.7h2v2h-2zM837.3 120.2h2v2h-2zM810.9 396.4h2v2h-2zM897.3 234.5h2v2h-2zM897.5 374.9h2v2h-2zM888.0 148.7h2v2h-2zM889.6 163.7h2v2h-2zM799.8 354.6h2v2h-2zM849.5 108.3h2v2h-2zM799.7 302.2h2v2h-2zM799.5 323.8h2v2h-2zM979.3 157.1h2v2h-2zM924.2 198.3h2v2h-2zM950.7 200.6h2v2h-2zM930.4 234.6h2v2h-2zM921.0 180.0h2v2h-2zM925.1 301.6h2v2h-2zM959.5 150.6h2v2h-2zM961.6 221.6h2v2h-2zM952.4 249.5h2v2h-2zM928.9 152.6h2v2h-2zM969.6 172.9h2v2h-2zM919.4 291.2h2v2h-2zM939.5 313.9h2v2h-2zM948.0 233.3h2v2h-2zM966.4 248.7h2v2h-2zM926.2 233.1h2v2h-2zM928.0 236.4h2v2h-2zM919.4 300.7h2v2h-2z" fill="#000"/>
</g>
<clipPath id="cB2"><rect x="1221.6" y="60.3" width="405" height="404.4"/></clipPath>
<filter id="fB2" filterUnits="userSpaceOnUse" x="1221.6" y="60.3" width="405" height="404.4" color-interpolation-filters="sRGB">
<feGaussianBlur in="SourceGraphic" stdDeviation="1.0" result="br"/>
<feGaussianBlur in="SourceGraphic" stdDeviation="4.5" result="bg"/>
<feGaussianBlur in="SourceGraphic" stdDeviation="10.0" result="bb"/>
<feGaussianBlur in="SourceGraphic" stdDeviation="9.0" result="bl"/>
<feColorMatrix in="bg" type="matrix" values="0 1 0 0 0 0 0 0 0 0 0 0 0 0 0 0 0 0 0 1" result="g"/>
<feComponentTransfer in="g" result="tg"><feFuncR type="table" tableValues="0 0.06 0.121 0.181 0.241 0.302 0.362 0.422 0.483 0.543 0.603 0.664 0.724 0.784 0.845 0.905 0.965 0.013 0.043 0.073 0.103 0.133 0.164 0.194 0.224 0.254 0.284 0.314 0.345 0.375 0.405 0.435 0.465 0.495 0.526 0.556 0.586 0.616 0.646 0.676 0.707 0.737 0.767 0.797 0.827 0.857 0.888 0.918 0.948 0.978 0.008 0.038 0.069 0.099 0.129 0.159 0.189 0.219 0.25 0.28 0.31 0.34 0.37 0.4 0.431 0.461 0.491 0.521 0.551 0.581 0.612 0.642 0.672 0.702 0.732 0.762 0.793 0.823 0.853 0.883 0.913 0.943 0.974 0.004 0.034 0.064 0.094 0.124 0.155 0.185 0.215 0.245 0.275 0.305 0.336 0.366 0.396 0.426 0.456 0.486 0.517 0.547 0.577 0.607 0.637 0.667 0.698 0.728 0.758 0.788 0.818 0.848 0.879 0.909 0.939 0.969 0.999 0.029 0.06 0.09 0.12 0.15 0.18 0.21 0.241 0.271 0.301 0.331 0.361 0.391 0.422 0.452 0.482 0.512 0.542 0.572 0.603 0.633 0.663 0.693 0.723 0.753 0.784 0.814 0.844 0.874 0.904 0.934 0.965 0.995 0.025 0.055 0.085 0.115 0.146 0.176 0.206 0.236 0.266 0.296 0.327 0.357 0.387 0.417 0.447 0.477 0.508 0.538 0.568 0.598 0.628 0.658 0.689 0.719 0.749 0.779 0.809 0.839 0.87 0.9 0.93 0.96 0.99 0.02 0.051 0.081 0.111 0.141 0.171 0.201 0.232 0.262 0.292 0.322 0.352 0.382 0.413 0.443 0.473 0.503 0.533 0.563 0.594 0.624 0.654 0.684 0.714 0.744 0.775 0.805 0.835 0.865 0.895 0.925 0.956 0.986 0.016 0.046 0.076 0.106 0.137 0.167 0.197 0.227 0.257 0.287 0.317 0.348 0.378 0.408 0.438 0.468 0.498 0.529 0.559 0.589 0.619 0.649 0.679 0.71 0.74 0.77 0.8 0.83 0.86 0.891 0.921 0.951 0.981 0.011 0.041 0.072 0.102 0.132 0.162 0.192"/></feComponentTransfer>
<feColorMatrix in="bb" type="matrix" values="0 0 8.0 0 0 0 0 0 0 0 0 0 0 0 0 0 0 0 0 1" result="b"/>
<feColorMatrix in="bl" type="matrix" values="0.6000 0 0 0 -0.3000 0 0 0 0 0 0 0 0 0 0 0 0 0 0 1" result="l"/>
<feComposite in="b" in2="l" operator="arithmetic" k2="1" k3="1" result="bl2"/>
<feComponentTransfer in="g" result="ib"><feFuncR type="table" tableValues="1 1 1 1 1 1 1 1 1 1 1 1 1 1 1 1 1 0 0 0 0 0 0 0 0 0 0 0 0 0 0 0 0 0 0 0 0 0 0 0 0 0 0 0 0 0 0 0 0 0 0 0 0 0 0 0 0 0 0 0 0 0 0 0 0 0 0 0 0 0 0 0 0 0 0 0 0 0 0 0 0 0 0 0 0 0 0 0 0 0 0 0 0 0 0 0 0 0 0 0 0 0 0 0 0 0 0 0 0 0 0 0 0 0 0 0 0 0 0 0 0 0 0 0 0 0 0 0 0 0 0 0 0 0 0 0 0 0 0 0 0 0 0 0 0 0 0 0 0 0 0 0 0 0 0 0 0 0 0 0 0 0 0 0 0 0 0 0 0 0 0 0 0 0 0 0 0 0 0 0 0 0 0 0 0 0 0 0 0 0 0 0 0 0 0 0 0 0 0 0 0 0 0 0 0 0 0 0 0 0 0 0 0 0 0 0 0 0 0 0 0 0 0 0 0 0 0 0 0 0 0 0 0 0 0 0 0 0 0 0 0 0 0 0 0 0 0 0 0 0 0 0 0 0 0 0"/></feComponentTransfer>
<feComposite in="bl2" in2="ib" operator="arithmetic" k1="1" result="hb"/>
<feComposite in="tg" in2="hb" operator="arithmetic" k2="1" k3="1" result="t"/>
<feComponentTransfer in="t" result="z1"><feFuncR type="table" tableValues="0.88 0.88 0.88 0.88 0.88 0.88 0.88 0.88 0.88 0.88 0.88 0.88 0.88 0.88 0.88 0.88 0.88 0.88 0.88 0.88 0.88 0.88 0.88 0.88 0.831 0.831 0.831 0.831 0.831 0.831 0.831 0.831 0.831 0.831 0.831 0.831 0.831 0.831 0.831 0.831 0.831 0.831 0.831 0.831 0.831 0.831 0.831 0.77 0.77 0.77 0.77 0.77 0.77 0.77 0.77 0.77 0.77 0.77 0.77 0.77 0.77 0.77 0.77 0.77 0.77 0.77 0.77 0.77 0.77 0.77 0.705 0.705 0.705 0.705 0.705 0.705 0.705 0.705 0.705 0.705 0.705 0.705 0.705 0.705 0.705 0.705 0.705 0.705 0.705 0.705 0.705 0.705 0.705 0.636 0.636 0.636 0.636 0.636 0.636 0.636 0.636 0.636 0.636 0.636 0.636 0.636 0.636 0.636 0.636 0.636 0.636 0.636 0.636 0.636 0.636 0.636 0.565 0.565 0.565 0.565 0.565 0.565 0.565 0.565 0.565 0.565 0.565 0.565 0.565 0.565 0.565 0.565 0.565 0.565 0.565 0.565 0.565 0.565 0.565 0.565 0.492 0.492 0.492 0.492 0.492 0.492 0.492 0.492 0.492 0.492 0.492 0.492 0.492 0.492 0.492 0.492 0.492 0.492 0.492 0.492 0.492 0.492 0.492 0.416 0.416 0.416 0.416 0.416 0.416 0.416 0.416 0.416 0.416 0.416 0.416 0.416 0.416 0.416 0.416 0.416 0.416 0.416 0.416 0.416 0.416 0.416 0.339 0.339 0.339 0.339 0.339 0.339 0.339 0.339 0.339 0.339 0.339 0.339 0.339 0.339 0.339 0.339 0.339 0.339 0.339 0.339 0.339 0.339 0.339 0.261 0.261 0.261 0.261 0.261 0.261 0.261 0.261 0.261 0.261 0.261 0.261 0.261 0.261 0.261 0.261 0.261 0.261 0.261 0.261 0.261 0.261 0.261 0.181 0.181 0.181 0.181 0.181 0.181 0.181 0.181 0.181 0.181 0.181 0.181 0.181 0.181 0.181 0.181 0.181 0.181 0.181 0.181 0.181 0.181 0.181 0.1"/></feComponentTransfer>
<feColorMatrix in="z1" type="matrix" values="1 0 0 0 0 1 0 0 0 0 1 0 0 0 0 0 0 0 0 1" result="z"/>
<feColorMatrix in="br" type="matrix" values="0 0 0 0 0 0 0 0 0 0 0 0 0 0 0 3 0 0 0 -1" result="m"/>
<feComposite in="z" in2="m" operator="in"/>
</filter>
<defs><path id="s26" d="M1515.7 111.9C1521 112.4 1524.1 113.3 1527.2 117.6C1530.3 121.9 1532.5 130.5 1534.4 137.7C1536.3 144.9 1538.5 153 1538.7 160.7C1538.9 168.3 1537.5 175.9 1535.8 183.6C1534.1 191.2 1531 197.5 1528.6 206.6C1526.2 215.7 1524.1 228.6 1521.5 238.2C1518.9 247.8 1516.2 255.4 1512.9 264C1509.6 272.6 1506.2 282.2 1501.4 289.8C1496.6 297.4 1489.5 303.2 1484.2 309.9C1478.9 316.6 1473.6 324.7 1469.8 330C1466 335.3 1466.5 338.1 1461.2 341.5C1455.9 344.9 1451.6 348.7 1438.2 350.1C1424.8 351.5 1394.3 348.7 1380.9 350.1C1367.5 351.5 1363.7 354.9 1357.9 358.7C1352.2 362.5 1350.2 366.8 1346.4 373C1342.6 379.2 1339.3 388.4 1335 396C1330.7 403.6 1325.9 413.6 1320.6 418.9C1315.3 424.1 1309.6 425.6 1303.4 427.5C1297.2 429.4 1290 430.9 1283.3 430.4C1276.6 429.9 1269.4 428.5 1263.2 424.7C1257 420.9 1250.8 414.2 1246 407.5C1241.2 400.8 1236.7 392.6 1234.5 384.5C1232.3 376.4 1232.1 367.8 1233.1 358.7C1234.1 349.6 1237.2 337.6 1240.3 330C1243.4 322.4 1249.1 320 1251.7 312.8C1254.3 305.6 1255 296 1256 286.9C1257 277.8 1256.8 268.7 1257.5 258.2C1258.2 247.7 1258.9 233.4 1260.3 223.8C1261.7 214.2 1263.2 206.2 1266.1 200.9C1269 195.7 1272.8 194.2 1277.6 192.3C1282.4 190.4 1289.5 188.9 1294.8 189.4C1300 189.9 1301.9 194.6 1309.1 195.1C1316.3 195.6 1330.6 190.4 1337.8 192.3C1345 194.2 1345 204.2 1352.2 206.6C1359.4 209 1371.3 209.5 1380.9 206.6C1390.5 203.7 1401.5 195.1 1409.6 189.4C1417.7 183.7 1422.4 178.4 1429.6 172.2C1436.8 166 1444.9 159.8 1452.6 152.1C1460.3 144.4 1468.4 132.5 1475.6 126.3C1482.8 120.1 1488.9 117.2 1495.6 114.8C1502.3 112.4 1510.4 111.4 1515.7 111.9Z"/><path id="s27" d="M1484.2 166.4C1491.4 165 1502.8 167.4 1507.1 172.2C1511.4 177 1511 184.6 1510 195.1C1509 205.6 1506.2 221.9 1501.4 235.3C1496.6 248.7 1490.9 263.1 1481.3 275.5C1471.7 287.9 1454.5 307 1444 309.9C1433.5 312.8 1423.7 298.4 1418.2 292.7C1412.7 287 1410.5 282.2 1411 275.5C1411.5 268.8 1415.5 262.1 1421 252.5C1426.5 242.9 1436.8 229.9 1444 218C1451.2 206.1 1457.4 189.4 1464.1 180.8C1470.8 172.2 1477 167.8 1484.2 166.4Z"/><path id="s28" d="M1481.3 205.2C1485.8 205.2 1490.1 208.8 1491.3 215.2C1492.5 221.6 1492.6 234.8 1488.5 243.9C1484.4 253 1473.6 263.2 1466.9 269.7C1460.2 276.1 1452.6 283.6 1448.3 282.6C1444 281.7 1441.3 270.4 1441.1 264C1440.9 257.6 1443.1 252 1446.9 243.9C1450.7 235.8 1458.4 221.6 1464.1 215.2C1469.8 208.8 1476.8 205.2 1481.3 205.2Z"/><ellipse id="s29" cx="1468.4" cy="241" rx="7" ry="11" transform="rotate(30 1468.4 241)"/><ellipse id="s30" cx="1286.2" cy="364.4" rx="37.3" ry="52.4" transform="rotate(5 1286.2 364.4)"/><ellipse id="s31" cx="1284" cy="368" rx="30.8" ry="38"/><ellipse id="s32" cx="1283.3" cy="370.2" rx="23" ry="27.3"/><ellipse id="s33" cx="1282.5" cy="370" rx="15" ry="18"/><ellipse id="s34" cx="1281.9" cy="368.7" rx="5" ry="6"/><ellipse id="s35" cx="1294.8" cy="262" rx="12" ry="30"/><ellipse id="s36" cx="1300" cy="250" rx="30" ry="45"/><ellipse id="s37" cx="1372" cy="262" rx="16" ry="22"/><ellipse id="s38" cx="1450" cy="245" rx="45" ry="60" transform="rotate(30 1450 245)"/><path id="s39" d="M1266.1 200.9C1267.9 197.1 1272.8 194.2 1277.6 192.3C1282.4 190.4 1289.5 188.9 1294.8 189.4C1300 189.9 1301.9 194.6 1309.1 195.1C1316.3 195.6 1330.6 190.4 1337.8 192.3C1345 194.2 1345 204.2 1352.2 206.6C1359.4 209 1371.3 209.5 1380.9 206.6C1390.5 203.7 1401.5 195.1 1409.6 189.4C1417.7 183.7 1425.5 173.1 1429.6 172.2C1433.7 171.3 1437.1 179 1434 184C1430.9 189 1419.8 196.2 1411 202C1402.2 207.8 1390.8 216.2 1381 219C1371.2 221.8 1359.2 221.2 1352 219C1344.8 216.8 1345.2 207.7 1338 206C1330.8 204.3 1316.3 209.5 1309 209C1301.7 208.5 1299.2 203.5 1294 203C1288.8 202.5 1282.5 204 1278 206C1273.5 208 1269 215.8 1267 215C1265 214.2 1264.3 204.7 1266.1 200.9Z"/><path id="s40" d="M1346.4 373C1349.4 372.4 1352.2 362.5 1357.9 358.7C1363.7 354.9 1367.5 351.5 1380.9 350.1C1394.3 348.7 1424.8 351.5 1438.2 350.1C1451.6 348.7 1455.9 344.9 1461.2 341.5C1466.5 338.1 1469.5 333.2 1469.8 330C1470.1 326.8 1465.8 321.8 1463 322C1460.2 322.2 1457.2 328.5 1453 331C1448.8 333.5 1450 336 1438 337C1426 338 1394.8 335.7 1381 337C1367.2 338.3 1361.8 340.8 1355 345C1348.2 349.2 1341.4 357.3 1340 362C1338.6 366.7 1343.4 373.6 1346.4 373Z"/></defs>
<g clip-path="url(#cB2)">
<use href="#s26" fill="#000"/>
<g filter="url(#fB2)">
<rect x="1181.6" y="20.3" width="485" height="484.4" fill="#000"/>
<use href="#s26" fill="#f00" style="mix-blend-mode:lighten"/>
<use href="#s27" fill="rgb(0,33,0)" style="mix-blend-mode:lighten"/>
<use href="#s28" fill="rgb(0,66,0)" style="mix-blend-mode:lighten"/>
<use href="#s29" fill="rgb(0,80,0)" style="mix-blend-mode:lighten"/>
<use href="#s30" fill="rgb(0,33,0)" style="mix-blend-mode:lighten"/>
<use href="#s31" fill="rgb(0,66,0)" style="mix-blend-mode:lighten"/>
<use href="#s32" fill="rgb(0,99,0)" style="mix-blend-mode:lighten"/>
<use href="#s33" fill="rgb(0,133,0)" style="mix-blend-mode:lighten"/>
<use href="#s34" fill="rgb(0,147,0)" style="mix-blend-mode:lighten"/>
<use href="#s35" fill="rgb(0,0,20)" style="mix-blend-mode:lighten"/>
<use href="#s36" fill="rgb(0,0,11)" style="mix-blend-mode:lighten"/>
<use href="#s37" fill="rgb(0,0,11)" style="mix-blend-mode:lighten"/>
<use href="#s38" fill="rgb(0,0,13)" style="mix-blend-mode:lighten"/>
</g>
<use href="#s27" fill="none" stroke="#fff" stroke-width="1.3"/>
<use href="#s28" fill="none" stroke="#fff" stroke-width="1.3"/>
<use href="#s30" fill="none" stroke="#fff" stroke-width="1.3"/>
<use href="#s31" fill="none" stroke="#fff" stroke-width="1.3"/>
<use href="#s32" fill="none" stroke="#fff" stroke-width="1.3"/>
<use href="#s33" fill="none" stroke="#fff" stroke-width="1.3"/>
<use href="#s26" fill="none" stroke="#000" stroke-width="5.0" stroke-linejoin="round"/>
<use href="#s39" fill="#000"/>
<use href="#s40" fill="#000"/>
<path d="M1458.8 132.4h2v2h-2zM1292.3 177.9h2v2h-2zM1436.0 159.8h2v2h-2zM1391.6 165.5h2v2h-2zM1352.4 186.9h2v2h-2zM1362.6 199.2h2v2h-2zM1271.6 193.3h2v2h-2zM1414.9 179.1h2v2h-2zM1416.8 160.5h2v2h-2zM1310.2 168.1h2v2h-2zM1419.8 168.9h2v2h-2zM1368.0 196.5h2v2h-2zM1393.3 174.1h2v2h-2zM1301.0 189.0h2v2h-2zM1427.5 164.7h2v2h-2zM1252.5 175.6h2v2h-2zM1346.2 191.9h2v2h-2zM1314.6 167.0h2v2h-2zM1421.5 171.5h2v2h-2zM1285.7 174.7h2v2h-2zM1264.3 196.8h2v2h-2zM1411.6 168.9h2v2h-2zM1466.7 120.2h2v2h-2zM1428.8 163.3h2v2h-2zM1277.2 187.7h2v2h-2zM1411.0 179.3h2v2h-2zM1354.8 183.1h2v2h-2zM1419.6 148.6h2v2h-2zM1357.8 174.1h2v2h-2zM1358.9 195.8h2v2h-2zM1291.1 182.2h2v2h-2zM1345.8 192.8h2v2h-2zM1312.5 183.9h2v2h-2zM1266.4 189.8h2v2h-2zM1350.3 191.5h2v2h-2zM1439.9 141.8h2v2h-2zM1282.8 170.4h2v2h-2zM1330.6 181.3h2v2h-2zM1297.9 184.4h2v2h-2zM1307.5 158.4h2v2h-2zM1394.0 170.3h2v2h-2zM1414.1 171.5h2v2h-2zM1379.5 190.1h2v2h-2zM1468.3 128.2h2v2h-2zM1343.2 193.9h2v2h-2zM1424.6 153.5h2v2h-2zM1261.8 188.0h2v2h-2zM1382.4 191.3h2v2h-2zM1429.4 138.2h2v2h-2zM1372.9 193.0h2v2h-2zM1370.4 194.0h2v2h-2zM1423.0 160.7h2v2h-2zM1284.4 178.3h2v2h-2zM1283.5 185.5h2v2h-2zM1265.5 196.8h2v2h-2zM1510.5 282.7h2v2h-2zM1524.1 245.5h2v2h-2zM1521.3 258.2h2v2h-2zM1523.4 97.5h2v2h-2zM1544.2 189.9h2v2h-2zM1546.6 156.8h2v2h-2zM1508.0 287.3h2v2h-2zM1550.4 174.9h2v2h-2zM1537.7 119.1h2v2h-2zM1534.8 203.7h2v2h-2zM1543.8 195.1h2v2h-2zM1518.6 259.0h2v2h-2zM1543.4 178.8h2v2h-2zM1531.3 106.3h2v2h-2zM1543.4 149.4h2v2h-2zM1543.4 188.9h2v2h-2zM1536.8 213.0h2v2h-2zM1527.6 230.4h2v2h-2zM1502.5 298.9h2v2h-2zM1507.5 92.1h2v2h-2zM1514.0 107.6h2v2h-2zM1547.5 117.1h2v2h-2zM1539.6 144.3h2v2h-2zM1511.4 274.8h2v2h-2zM1540.8 143.4h2v2h-2zM1398.3 380.1h2v2h-2zM1370.2 369.9h2v2h-2zM1370.1 384.6h2v2h-2zM1445.1 350.6h2v2h-2zM1421.9 363.6h2v2h-2zM1340.4 395.1h2v2h-2zM1392.5 383.3h2v2h-2zM1349.5 380.1h2v2h-2zM1395.6 359.4h2v2h-2zM1461.7 375.5h2v2h-2zM1342.7 401.7h2v2h-2zM1373.9 360.1h2v2h-2zM1366.7 361.5h2v2h-2zM1375.1 383.5h2v2h-2zM1359.4 367.0h2v2h-2zM1379.1 376.1h2v2h-2zM1353.9 370.9h2v2h-2zM1399.4 363.5h2v2h-2zM1387.2 354.9h2v2h-2zM1372.1 379.0h2v2h-2zM1376.1 363.8h2v2h-2zM1375.5 381.4h2v2h-2zM1366.1 379.0h2v2h-2zM1340.9 395.6h2v2h-2zM1443.3 361.8h2v2h-2zM1340.0 401.8h2v2h-2zM1379.6 375.1h2v2h-2zM1457.4 363.8h2v2h-2zM1344.9 410.4h2v2h-2zM1448.5 361.2h2v2h-2zM1350.3 386.8h2v2h-2zM1367.3 378.0h2v2h-2zM1390.5 354.3h2v2h-2zM1391.0 378.1h2v2h-2zM1462.3 358.9h2v2h-2zM1449.4 362.0h2v2h-2zM1447.0 360.3h2v2h-2zM1365.0 409.0h2v2h-2zM1365.5 366.9h2v2h-2zM1426.3 369.7h2v2h-2zM1402.6 367.6h2v2h-2zM1369.7 376.4h2v2h-2zM1381.5 368.0h2v2h-2zM1475.3 351.4h2v2h-2zM1476.3 351.0h2v2h-2zM1463.1 354.8h2v2h-2zM1381.9 371.8h2v2h-2zM1341.9 411.5h2v2h-2zM1369.2 366.7h2v2h-2zM1372.3 390.3h2v2h-2zM1258.1 428.0h2v2h-2zM1247.8 415.9h2v2h-2zM1252.0 228.7h2v2h-2zM1235.2 322.9h2v2h-2zM1244.3 307.8h2v2h-2zM1229.0 373.3h2v2h-2zM1249.9 236.1h2v2h-2zM1245.7 302.1h2v2h-2zM1244.0 314.8h2v2h-2zM1229.7 327.9h2v2h-2zM1234.6 391.6h2v2h-2zM1252.6 423.5h2v2h-2zM1247.5 305.0h2v2h-2zM1228.6 350.7h2v2h-2zM1249.4 426.3h2v2h-2z" fill="#000"/>
</g>
<clipPath id="cB3"><rect x="792.6" y="536.5" width="404" height="403.3"/></clipPath>
<filter id="fB3" filterUnits="userSpaceOnUse" x="792.6" y="536.5" width="404" height="403.3" color-interpolation-filters="sRGB">
<feGaussianBlur in="SourceGraphic" stdDeviation="1.0" result="br"/>
<feGaussianBlur in="SourceGraphic" stdDeviation="4.5" result="bg"/>
<feGaussianBlur in="SourceGraphic" stdDeviation="10.0" result="bb"/>
<feGaussianBlur in="SourceGraphic" stdDeviation="9.0" result="bl"/>
<feColorMatrix in="bg" type="matrix" values="0 1 0 0 0 0 0 0 0 0 0 0 0 0 0 0 0 0 0 1" result="g"/>
<feComponentTransfer in="g" result="tg"><feFuncR type="table" tableValues="0 0.06 0.121 0.181 0.241 0.302 0.362 0.422 0.483 0.543 0.603 0.664 0.724 0.784 0.845 0.905 0.965 0.013 0.043 0.073 0.103 0.133 0.164 0.194 0.224 0.254 0.284 0.314 0.345 0.375 0.405 0.435 0.465 0.495 0.526 0.556 0.586 0.616 0.646 0.676 0.707 0.737 0.767 0.797 0.827 0.857 0.888 0.918 0.948 0.978 0.008 0.038 0.069 0.099 0.129 0.159 0.189 0.219 0.25 0.28 0.31 0.34 0.37 0.4 0.431 0.461 0.491 0.521 0.551 0.581 0.612 0.642 0.672 0.702 0.732 0.762 0.793 0.823 0.853 0.883 0.913 0.943 0.974 0.004 0.034 0.064 0.094 0.124 0.155 0.185 0.215 0.245 0.275 0.305 0.336 0.366 0.396 0.426 0.456 0.486 0.517 0.547 0.577 0.607 0.637 0.667 0.698 0.728 0.758 0.788 0.818 0.848 0.879 0.909 0.939 0.969 0.999 0.029 0.06 0.09 0.12 0.15 0.18 0.21 0.241 0.271 0.301 0.331 0.361 0.391 0.422 0.452 0.482 0.512 0.542 0.572 0.603 0.633 0.663 0.693 0.723 0.753 0.784 0.814 0.844 0.874 0.904 0.934 0.965 0.995 0.025 0.055 0.085 0.115 0.146 0.176 0.206 0.236 0.266 0.296 0.327 0.357 0.387 0.417 0.447 0.477 0.508 0.538 0.568 0.598 0.628 0.658 0.689 0.719 0.749 0.779 0.809 0.839 0.87 0.9 0.93 0.96 0.99 0.02 0.051 0.081 0.111 0.141 0.171 0.201 0.232 0.262 0.292 0.322 0.352 0.382 0.413 0.443 0.473 0.503 0.533 0.563 0.594 0.624 0.654 0.684 0.714 0.744 0.775 0.805 0.835 0.865 0.895 0.925 0.956 0.986 0.016 0.046 0.076 0.106 0.137 0.167 0.197 0.227 0.257 0.287 0.317 0.348 0.378 0.408 0.438 0.468 0.498 0.529 0.559 0.589 0.619 0.649 0.679 0.71 0.74 0.77 0.8 0.83 0.86 0.891 0.921 0.951 0.981 0.011 0.041 0.072 0.102 0.132 0.162 0.192"/></feComponentTransfer>
<feColorMatrix in="bb" type="matrix" values="0 0 8.0 0 0 0 0 0 0 0 0 0 0 0 0 0 0 0 0 1" result="b"/>
<feColorMatrix in="bl" type="matrix" values="0.7600 0 0 0 -0.3800 0 0 0 0 0 0 0 0 0 0 0 0 0 0 1" result="l"/>
<feComposite in="b" in2="l" operator="arithmetic" k2="1" k3="1" result="bl2"/>
<feComponentTransfer in="g" result="ib"><feFuncR type="table" tableValues="1 1 1 1 1 1 1 1 1 1 1 1 1 1 1 1 1 0 0 0 0 0 0 0 0 0 0 0 0 0 0 0 0 0 0 0 0 0 0 0 0 0 0 0 0 0 0 0 0 0 0 0 0 0 0 0 0 0 0 0 0 0 0 0 0 0 0 0 0 0 0 0 0 0 0 0 0 0 0 0 0 0 0 0 0 0 0 0 0 0 0 0 0 0 0 0 0 0 0 0 0 0 0 0 0 0 0 0 0 0 0 0 0 0 0 0 0 0 0 0 0 0 0 0 0 0 0 0 0 0 0 0 0 0 0 0 0 0 0 0 0 0 0 0 0 0 0 0 0 0 0 0 0 0 0 0 0 0 0 0 0 0 0 0 0 0 0 0 0 0 0 0 0 0 0 0 0 0 0 0 0 0 0 0 0 0 0 0 0 0 0 0 0 0 0 0 0 0 0 0 0 0 0 0 0 0 0 0 0 0 0 0 0 0 0 0 0 0 0 0 0 0 0 0 0 0 0 0 0 0 0 0 0 0 0 0 0 0 0 0 0 0 0 0 0 0 0 0 0 0 0 0 0 0 0 0"/></feComponentTransfer>
<feComposite in="bl2" in2="ib" operator="arithmetic" k1="1" result="hb"/>
<feComposite in="tg" in2="hb" operator="arithmetic" k2="1" k3="1" result="t"/>
<feComponentTransfer in="t" result="z1"><feFuncR type="table" tableValues="0.88 0.88 0.88 0.88 0.88 0.88 0.88 0.88 0.88 0.88 0.88 0.88 0.88 0.88 0.88 0.88 0.88 0.88 0.88 0.88 0.88 0.88 0.88 0.88 0.831 0.831 0.831 0.831 0.831 0.831 0.831 0.831 0.831 0.831 0.831 0.831 0.831 0.831 0.831 0.831 0.831 0.831 0.831 0.831 0.831 0.831 0.831 0.77 0.77 0.77 0.77 0.77 0.77 0.77 0.77 0.77 0.77 0.77 0.77 0.77 0.77 0.77 0.77 0.77 0.77 0.77 0.77 0.77 0.77 0.77 0.705 0.705 0.705 0.705 0.705 0.705 0.705 0.705 0.705 0.705 0.705 0.705 0.705 0.705 0.705 0.705 0.705 0.705 0.705 0.705 0.705 0.705 0.705 0.636 0.636 0.636 0.636 0.636 0.636 0.636 0.636 0.636 0.636 0.636 0.636 0.636 0.636 0.636 0.636 0.636 0.636 0.636 0.636 0.636 0.636 0.636 0.565 0.565 0.565 0.565 0.565 0.565 0.565 0.565 0.565 0.565 0.565 0.565 0.565 0.565 0.565 0.565 0.565 0.565 0.565 0.565 0.565 0.565 0.565 0.565 0.492 0.492 0.492 0.492 0.492 0.492 0.492 0.492 0.492 0.492 0.492 0.492 0.492 0.492 0.492 0.492 0.492 0.492 0.492 0.492 0.492 0.492 0.492 0.416 0.416 0.416 0.416 0.416 0.416 0.416 0.416 0.416 0.416 0.416 0.416 0.416 0.416 0.416 0.416 0.416 0.416 0.416 0.416 0.416 0.416 0.416 0.339 0.339 0.339 0.339 0.339 0.339 0.339 0.339 0.339 0.339 0.339 0.339 0.339 0.339 0.339 0.339 0.339 0.339 0.339 0.339 0.339 0.339 0.339 0.261 0.261 0.261 0.261 0.261 0.261 0.261 0.261 0.261 0.261 0.261 0.261 0.261 0.261 0.261 0.261 0.261 0.261 0.261 0.261 0.261 0.261 0.261 0.181 0.181 0.181 0.181 0.181 0.181 0.181 0.181 0.181 0.181 0.181 0.181 0.181 0.181 0.181 0.181 0.181 0.181 0.181 0.181 0.181 0.181 0.181 0.1"/></feComponentTransfer>
<feColorMatrix in="z1" type="matrix" values="1 0 0 0 0 1 0 0 0 0 1 0 0 0 0 0 0 0 0 1" result="z"/>
<feColorMatrix in="br" type="matrix" values="0 0 0 0 0 0 0 0 0 0 0 0 0 0 0 3 0 0 0 -1" result="m"/>
<feComposite in="z" in2="m" operator="in"/>
</filter>
<defs><path id="s41" d="M854.6 656.9C858.7 654.5 861.7 654.4 865.3 654.6C868.9 654.9 872.2 656.1 876.1 658.4C880 660.7 884.3 665.6 888.4 668.4C892.5 671.2 896.9 674.4 900.7 675.4C904.5 676.4 908.1 675.4 911.4 674.6C914.7 673.8 916.6 671.6 920.7 670.7C924.8 669.8 929.6 669.5 936 669.2C942.4 669 954 670.2 959.1 669.2C964.2 668.2 962.9 665.4 966.8 663.1C970.6 660.8 976.4 659 982.2 655.4C988 651.8 996 645.7 1001.6 641.6C1007.2 637.5 1012.2 636.2 1016.1 630.7C1020 625.2 1021.6 614 1025.2 608.9C1028.8 603.8 1031.6 601.7 1037.9 599.9C1044.2 598.1 1056.3 597.7 1063.3 598C1070.2 598.3 1076.3 599.3 1079.6 601.7C1082.9 604.1 1082.9 606 1083.2 612.6C1083.5 619.2 1082 632.5 1081.4 641.6C1080.8 650.7 1080.8 656.7 1079.6 667C1078.4 677.3 1076.2 692.7 1074.1 703.3C1072 713.9 1069.9 721.4 1066.9 730.5C1063.9 739.6 1060.5 749.2 1056 757.7C1051.5 766.2 1044.8 773.7 1039.7 781.2C1034.6 788.8 1030.4 795.7 1025.2 803C1020.1 810.3 1013.9 819.6 1008.8 824.8C1003.6 829.9 997.5 832.2 994.3 833.9C991.1 835.6 993.1 835.8 989.8 835.2C986.5 834.7 979.6 832.4 974.5 830.6C969.4 828.8 965.5 825.6 959.1 824.5C952.7 823.4 942.4 824.1 936 823.7C929.6 823.3 924.5 821.1 920.7 822.2C916.9 823.4 914.8 826.9 913 830.6C911.2 834.3 911.4 839.4 909.9 844.5C908.4 849.6 906.4 855.5 903.8 861.4C901.2 867.3 898.6 873.4 894.5 879.8C890.4 886.2 884.1 895.2 879.2 899.8C874.3 904.4 870.7 906.2 865.3 907.5C859.9 908.8 853 909.5 846.9 907.5C840.8 905.5 833.8 899.8 828.4 895.2C823 890.6 818.2 884.7 814.6 879.8C811 874.9 808.4 872.7 806.9 866C805.4 859.3 805.1 848.5 805.4 839.8C805.6 831.1 806.3 821.4 808.4 813.7C810.5 806 814.4 800.1 817.7 793.7C821 787.3 826.9 783 828.4 775.3C829.9 767.6 827.1 756.1 826.9 747.6C826.6 739.1 826.4 732.2 826.9 724.5C827.4 716.8 828.7 709.2 830 701.5C831.3 693.8 832.8 683.8 834.6 678.4C836.4 673 837.4 672.8 840.7 669.2C844 665.6 850.5 659.3 854.6 656.9Z"/><path id="s42" d="M1039.7 645.2C1044.9 644.3 1051.5 643.3 1054.2 648.8C1056.9 654.2 1056.3 666.4 1056 677.9C1055.7 689.4 1055.4 706.6 1052.4 717.8C1049.4 729 1044 736.5 1037.9 745C1031.9 753.5 1024.9 761.2 1016.1 768.5C1007.3 775.8 991.9 786.1 985.3 788.5C978.6 790.9 978.3 785.8 976.2 783.1C974.1 780.4 975 775.2 972.6 772.2C970.2 769.2 963.5 770.4 961.7 764.9C959.9 759.4 959.9 747 961.7 739.5C963.5 732 968.1 726.9 972.6 719.6C977.1 712.4 983.8 703 988.9 696C994 689 997.7 684.9 1003.4 677.9C1009.1 670.9 1017.2 659.8 1023.3 654.3C1029.3 648.8 1034.5 646.1 1039.7 645.2Z"/><path id="s43" d="M1030.6 676C1035.1 675.1 1041.2 681.2 1043.3 685.1C1045.4 689 1044.8 693 1043.3 699.6C1041.8 706.2 1038.1 717.7 1034.2 725C1030.3 732.3 1024.5 738.4 1019.7 743.2C1014.9 748 1010 753.4 1005.2 754C1000.4 754.6 993.1 751.6 990.7 746.8C988.3 742 988.9 731.6 990.7 725C992.5 718.4 997.4 712.6 1001.6 706.9C1005.8 701.2 1011.3 695.8 1016.1 690.6C1020.9 685.5 1026.1 676.9 1030.6 676Z"/><ellipse id="s44" cx="1018" cy="714" rx="9" ry="15" transform="rotate(30 1018 714)"/><ellipse id="s45" cx="1018.8" cy="714.1" rx="5" ry="8" transform="rotate(30 1018.8 714.1)"/><path id="s46" d="M860.7 788.3C867.6 788.8 877.2 793.3 882.2 796.8C887.2 800.3 889.2 802.4 890.7 809.1C892.2 815.8 891.9 828.1 891.5 836.8C891.1 845.5 890.2 854.2 888.4 861.4C886.6 868.6 884.3 874.8 880.7 879.8C877.1 884.8 871.8 889.2 866.9 891.3C862 893.3 856.6 893.2 851.5 892.1C846.4 891 840.7 888.5 836.1 884.4C831.5 880.3 826.9 874.1 823.8 867.5C820.7 860.9 818.5 852.2 817.7 844.5C816.9 836.8 817.7 827.8 819.2 821.4C820.7 815 823.3 810.6 826.9 806C830.5 801.4 835.1 796.7 840.7 793.7C846.3 790.8 853.8 787.8 860.7 788.3Z"/><ellipse id="s47" cx="854.6" cy="842.9" rx="28.5" ry="36.9"/><ellipse id="s48" cx="854.6" cy="843.3" rx="20" ry="27.3"/><ellipse id="s49" cx="854.6" cy="845" rx="13" ry="18"/><ellipse id="s50" cx="854.6" cy="846" rx="4" ry="6"/><ellipse id="s51" cx="856" cy="752" rx="16" ry="24"/><ellipse id="s52" cx="862" cy="735" rx="28" ry="38"/><ellipse id="s53" cx="891.5" cy="730.7" rx="10" ry="10"/><ellipse id="s54" cx="955" cy="745" rx="18" ry="30"/><path id="s55" d="M834.6 678.4C835.1 674.9 837.4 672.8 840.7 669.2C844 665.6 850.5 659.3 854.6 656.9C858.7 654.5 861.7 654.4 865.3 654.6C868.9 654.9 872.2 656.1 876.1 658.4C880 660.7 884.3 665.6 888.4 668.4C892.5 671.2 896.9 674.4 900.7 675.4C904.5 676.4 908.1 675.4 911.4 674.6C914.7 673.8 916.6 671.6 920.7 670.7C924.8 669.8 929.6 669.5 936 669.2C942.4 669 954 670.2 959.1 669.2C964.2 668.2 962.9 665.4 966.8 663.1C970.6 660.8 979.2 654.9 982.2 655.4C985.2 655.9 987.4 662.7 985 666C982.6 669.3 972.3 672.5 968 675C963.7 677.5 964.3 680 959 681C953.7 682 942.3 680.7 936 681C929.7 681.3 925.2 682 921 683C916.8 684 914.5 686.3 911 687C907.5 687.7 903.8 688.2 900 687C896.2 685.8 892 682.7 888 680C884 677.3 879.8 673 876 671C872.2 669 868.5 668.2 865 668C861.5 667.8 858.3 668 855 670C851.7 672 847.8 676.7 845 680C842.2 683.3 839.7 690.3 838 690C836.3 689.7 834.1 681.9 834.6 678.4Z"/><path id="s56" d="M913 830.6C915.1 829.8 916.9 823.4 920.7 822.2C924.5 821.1 929.6 823.3 936 823.7C942.4 824.1 952.7 823.4 959.1 824.5C965.5 825.6 969.4 828.8 974.5 830.6C979.6 832.4 986.5 834.7 989.8 835.2C993.1 835.8 991.1 835.6 994.3 833.9C997.5 832.2 1007.2 827.4 1008.8 824.8C1010.4 822.1 1007.1 817.6 1004 818C1000.9 818.4 994.8 826.2 990 827C985.2 827.8 980.2 824.7 975 823C969.8 821.3 965.5 818.2 959 817C952.5 815.8 942.8 816.2 936 816C929.2 815.8 922.7 814.2 918 816C913.3 817.8 908.8 824.6 908 827C907.2 829.4 910.9 831.4 913 830.6Z"/></defs>
<g clip-path="url(#cB3)">
<use href="#s41" fill="#000"/>
<g filter="url(#fB3)">
<rect x="752.6" y="496.5" width="484" height="483.3" fill="#000"/>
<use href="#s41" fill="#f00" style="mix-blend-mode:lighten"/>
<use href="#s42" fill="rgb(0,33,0)" style="mix-blend-mode:lighten"/>
<use href="#s43" fill="rgb(0,66,0)" style="mix-blend-mode:lighten"/>
<use href="#s44" fill="rgb(0,99,0)" style="mix-blend-mode:lighten"/>
<use href="#s45" fill="rgb(0,113,0)" style="mix-blend-mode:lighten"/>
<use href="#s46" fill="rgb(0,33,0)" style="mix-blend-mode:lighten"/>
<use href="#s47" fill="rgb(0,66,0)" style="mix-blend-mode:lighten"/>
<use href="#s48" fill="rgb(0,99,0)" style="mix-blend-mode:lighten"/>
<use href="#s49" fill="rgb(0,133,0)" style="mix-blend-mode:lighten"/>
<use href="#s50" fill="rgb(0,147,0)" style="mix-blend-mode:lighten"/>
<use href="#s51" fill="rgb(0,0,20)" style="mix-blend-mode:lighten"/>
<use href="#s52" fill="rgb(0,0,9)" style="mix-blend-mode:lighten"/>
<use href="#s53" fill="rgb(0,0,13)" style="mix-blend-mode:lighten"/>
<use href="#s54" fill="rgb(0,0,15)" style="mix-blend-mode:lighten"/>
</g>
<use href="#s42" fill="none" stroke="#fff" stroke-width="1.3"/>
<use href="#s43" fill="none" stroke="#fff" stroke-width="1.3"/>
<use href="#s44" fill="none" stroke="#fff" stroke-width="1.3"/>
<use href="#s46" fill="none" stroke="#fff" stroke-width="1.3"/>
<use href="#s47" fill="none" stroke="#fff" stroke-width="1.3"/>
<use href="#s48" fill="none" stroke="#fff" stroke-width="1.3"/>
<use href="#s49" fill="none" stroke="#fff" stroke-width="1.3"/>
<use href="#s41" fill="none" stroke="#000" stroke-width="5.0" stroke-linejoin="round"/>
<use href="#s55" fill="#000"/>
<use href="#s56" fill="#000"/>
<path d="M1068.1 590.6h2v2h-2zM952.5 656.5h2v2h-2zM881.2 655.3h2v2h-2zM1002.3 624.6h2v2h-2zM884.1 653.8h2v2h-2zM856.1 650.3h2v2h-2zM897.6 657.0h2v2h-2zM898.5 663.4h2v2h-2zM1085.0 666.5h2v2h-2zM1084.2 647.0h2v2h-2zM944.2 660.3h2v2h-2zM970.2 638.3h2v2h-2zM957.9 663.9h2v2h-2zM914.8 658.8h2v2h-2zM1086.7 630.6h2v2h-2zM904.4 658.3h2v2h-2zM892.7 661.1h2v2h-2zM1083.2 601.2h2v2h-2zM850.0 654.0h2v2h-2zM898.7 654.9h2v2h-2zM837.5 665.1h2v2h-2zM998.3 612.0h2v2h-2zM833.0 650.4h2v2h-2zM904.6 667.9h2v2h-2zM1074.8 596.8h2v2h-2zM907.8 647.4h2v2h-2zM1039.8 592.2h2v2h-2zM939.4 646.9h2v2h-2zM1012.3 628.9h2v2h-2zM1057.0 591.0h2v2h-2zM951.4 650.9h2v2h-2zM1087.8 628.8h2v2h-2zM877.3 651.8h2v2h-2zM1001.1 627.6h2v2h-2zM1080.5 592.5h2v2h-2zM853.6 649.0h2v2h-2zM1002.0 609.8h2v2h-2zM953.8 657.2h2v2h-2zM857.0 651.7h2v2h-2zM943.4 657.7h2v2h-2zM820.7 665.7h2v2h-2zM915.5 663.3h2v2h-2zM901.1 670.0h2v2h-2zM1011.2 629.3h2v2h-2zM963.4 639.9h2v2h-2zM1015.4 610.1h2v2h-2zM897.3 665.0h2v2h-2zM860.6 633.9h2v2h-2zM1076.5 597.6h2v2h-2zM912.5 668.9h2v2h-2zM1070.7 731.1h2v2h-2zM1072.1 744.6h2v2h-2zM1078.1 697.7h2v2h-2zM1056.7 761.9h2v2h-2zM1090.1 619.3h2v2h-2zM1097.4 633.7h2v2h-2zM1087.3 730.8h2v2h-2zM1085.5 610.5h2v2h-2zM1062.3 758.8h2v2h-2zM1061.9 769.4h2v2h-2zM1095.0 672.1h2v2h-2zM1085.1 640.9h2v2h-2zM1078.8 708.2h2v2h-2zM1058.2 765.0h2v2h-2zM1083.3 683.0h2v2h-2zM920.8 849.4h2v2h-2zM929.2 827.1h2v2h-2zM952.1 847.4h2v2h-2zM911.7 850.0h2v2h-2zM946.7 844.9h2v2h-2zM910.4 876.4h2v2h-2zM916.9 849.5h2v2h-2zM911.8 856.4h2v2h-2zM920.9 843.9h2v2h-2zM918.0 861.7h2v2h-2zM996.1 845.2h2v2h-2zM980.9 839.8h2v2h-2zM931.0 834.4h2v2h-2zM969.1 843.8h2v2h-2zM1009.3 842.1h2v2h-2zM938.2 827.3h2v2h-2zM928.7 859.4h2v2h-2zM913.1 844.0h2v2h-2zM941.6 863.1h2v2h-2zM916.9 873.4h2v2h-2zM975.0 845.9h2v2h-2zM1014.5 823.4h2v2h-2zM1010.7 831.3h2v2h-2zM924.5 836.0h2v2h-2zM1031.2 830.5h2v2h-2zM911.3 852.4h2v2h-2zM972.8 844.9h2v2h-2zM940.1 839.5h2v2h-2zM906.2 880.9h2v2h-2zM969.4 837.5h2v2h-2zM1022.8 834.4h2v2h-2zM1028.5 834.5h2v2h-2zM957.7 833.8h2v2h-2zM909.1 885.9h2v2h-2zM998.9 837.4h2v2h-2zM821.7 769.4h2v2h-2zM822.1 681.5h2v2h-2zM795.2 804.5h2v2h-2zM816.8 886.3h2v2h-2zM799.1 816.4h2v2h-2zM813.7 710.6h2v2h-2zM807.3 802.0h2v2h-2zM807.7 881.2h2v2h-2zM824.6 902.6h2v2h-2zM815.5 788.6h2v2h-2zM812.5 890.9h2v2h-2zM823.7 749.6h2v2h-2z" fill="#000"/>
</g>
<clipPath id="cB4"><rect x="1225.8" y="536.2" width="404.4" height="403.8"/></clipPath>
<filter id="fB4" filterUnits="userSpaceOnUse" x="1225.8" y="536.2" width="404.4" height="403.8" color-interpolation-filters="sRGB">
<feGaussianBlur in="SourceGraphic" stdDeviation="1.0" result="br"/>
<feGaussianBlur in="SourceGraphic" stdDeviation="4.5" result="bg"/>
<feGaussianBlur in="SourceGraphic" stdDeviation="10.0" result="bb"/>
<feGaussianBlur in="SourceGraphic" stdDeviation="9.0" result="bl"/>
<feColorMatrix in="bg" type="matrix" values="0 1 0 0 0 0 0 0 0 0 0 0 0 0 0 0 0 0 0 1" result="g"/>
<feComponentTransfer in="g" result="tg"><feFuncR type="table" tableValues="0 0.06 0.121 0.181 0.241 0.302 0.362 0.422 0.483 0.543 0.603 0.664 0.724 0.784 0.845 0.905 0.965 0.013 0.043 0.073 0.103 0.133 0.164 0.194 0.224 0.254 0.284 0.314 0.345 0.375 0.405 0.435 0.465 0.495 0.526 0.556 0.586 0.616 0.646 0.676 0.707 0.737 0.767 0.797 0.827 0.857 0.888 0.918 0.948 0.978 0.008 0.038 0.069 0.099 0.129 0.159 0.189 0.219 0.25 0.28 0.31 0.34 0.37 0.4 0.431 0.461 0.491 0.521 0.551 0.581 0.612 0.642 0.672 0.702 0.732 0.762 0.793 0.823 0.853 0.883 0.913 0.943 0.974 0.004 0.034 0.064 0.094 0.124 0.155 0.185 0.215 0.245 0.275 0.305 0.336 0.366 0.396 0.426 0.456 0.486 0.517 0.547 0.577 0.607 0.637 0.667 0.698 0.728 0.758 0.788 0.818 0.848 0.879 0.909 0.939 0.969 0.999 0.029 0.06 0.09 0.12 0.15 0.18 0.21 0.241 0.271 0.301 0.331 0.361 0.391 0.422 0.452 0.482 0.512 0.542 0.572 0.603 0.633 0.663 0.693 0.723 0.753 0.784 0.814 0.844 0.874 0.904 0.934 0.965 0.995 0.025 0.055 0.085 0.115 0.146 0.176 0.206 0.236 0.266 0.296 0.327 0.357 0.387 0.417 0.447 0.477 0.508 0.538 0.568 0.598 0.628 0.658 0.689 0.719 0.749 0.779 0.809 0.839 0.87 0.9 0.93 0.96 0.99 0.02 0.051 0.081 0.111 0.141 0.171 0.201 0.232 0.262 0.292 0.322 0.352 0.382 0.413 0.443 0.473 0.503 0.533 0.563 0.594 0.624 0.654 0.684 0.714 0.744 0.775 0.805 0.835 0.865 0.895 0.925 0.956 0.986 0.016 0.046 0.076 0.106 0.137 0.167 0.197 0.227 0.257 0.287 0.317 0.348 0.378 0.408 0.438 0.468 0.498 0.529 0.559 0.589 0.619 0.649 0.679 0.71 0.74 0.77 0.8 0.83 0.86 0.891 0.921 0.951 0.981 0.011 0.041 0.072 0.102 0.132 0.162 0.192"/></feComponentTransfer>
<feColorMatrix in="bb" type="matrix" values="0 0 8.0 0 0 0 0 0 0 0 0 0 0 0 0 0 0 0 0 1" result="b"/>
<feColorMatrix in="bl" type="matrix" values="0.7600 0 0 0 -0.3800 0 0 0 0 0 0 0 0 0 0 0 0 0 0 1" result="l"/>
<feComposite in="b" in2="l" operator="arithmetic" k2="1" k3="1" result="bl2"/>
<feComponentTransfer in="g" result="ib"><feFuncR type="table" tableValues="1 1 1 1 1 1 1 1 1 1 1 1 1 1 1 1 1 0 0 0 0 0 0 0 0 0 0 0 0 0 0 0 0 0 0 0 0 0 0 0 0 0 0 0 0 0 0 0 0 0 0 0 0 0 0 0 0 0 0 0 0 0 0 0 0 0 0 0 0 0 0 0 0 0 0 0 0 0 0 0 0 0 0 0 0 0 0 0 0 0 0 0 0 0 0 0 0 0 0 0 0 0 0 0 0 0 0 0 0 0 0 0 0 0 0 0 0 0 0 0 0 0 0 0 0 0 0 0 0 0 0 0 0 0 0 0 0 0 0 0 0 0 0 0 0 0 0 0 0 0 0 0 0 0 0 0 0 0 0 0 0 0 0 0 0 0 0 0 0 0 0 0 0 0 0 0 0 0 0 0 0 0 0 0 0 0 0 0 0 0 0 0 0 0 0 0 0 0 0 0 0 0 0 0 0 0 0 0 0 0 0 0 0 0 0 0 0 0 0 0 0 0 0 0 0 0 0 0 0 0 0 0 0 0 0 0 0 0 0 0 0 0 0 0 0 0 0 0 0 0 0 0 0 0 0 0"/></feComponentTransfer>
<feComposite in="bl2" in2="ib" operator="arithmetic" k1="1" result="hb"/>
<feComposite in="tg" in2="hb" operator="arithmetic" k2="1" k3="1" result="t"/>
<feComponentTransfer in="t" result="z1"><feFuncR type="table" tableValues="0.88 0.88 0.88 0.88 0.88 0.88 0.88 0.88 0.88 0.88 0.88 0.88 0.88 0.88 0.88 0.88 0.88 0.88 0.88 0.88 0.88 0.88 0.88 0.88 0.831 0.831 0.831 0.831 0.831 0.831 0.831 0.831 0.831 0.831 0.831 0.831 0.831 0.831 0.831 0.831 0.831 0.831 0.831 0.831 0.831 0.831 0.831 0.77 0.77 0.77 0.77 0.77 0.77 0.77 0.77 0.77 0.77 0.77 0.77 0.77 0.77 0.77 0.77 0.77 0.77 0.77 0.77 0.77 0.77 0.77 0.705 0.705 0.705 0.705 0.705 0.705 0.705 0.705 0.705 0.705 0.705 0.705 0.705 0.705 0.705 0.705 0.705 0.705 0.705 0.705 0.705 0.705 0.705 0.636 0.636 0.636 0.636 0.636 0.636 0.636 0.636 0.636 0.636 0.636 0.636 0.636 0.636 0.636 0.636 0.636 0.636 0.636 0.636 0.636 0.636 0.636 0.565 0.565 0.565 0.565 0.565 0.565 0.565 0.565 0.565 0.565 0.565 0.565 0.565 0.565 0.565 0.565 0.565 0.565 0.565 0.565 0.565 0.565 0.565 0.565 0.492 0.492 0.492 0.492 0.492 0.492 0.492 0.492 0.492 0.492 0.492 0.492 0.492 0.492 0.492 0.492 0.492 0.492 0.492 0.492 0.492 0.492 0.492 0.416 0.416 0.416 0.416 0.416 0.416 0.416 0.416 0.416 0.416 0.416 0.416 0.416 0.416 0.416 0.416 0.416 0.416 0.416 0.416 0.416 0.416 0.416 0.339 0.339 0.339 0.339 0.339 0.339 0.339 0.339 0.339 0.339 0.339 0.339 0.339 0.339 0.339 0.339 0.339 0.339 0.339 0.339 0.339 0.339 0.339 0.261 0.261 0.261 0.261 0.261 0.261 0.261 0.261 0.261 0.261 0.261 0.261 0.261 0.261 0.261 0.261 0.261 0.261 0.261 0.261 0.261 0.261 0.261 0.181 0.181 0.181 0.181 0.181 0.181 0.181 0.181 0.181 0.181 0.181 0.181 0.181 0.181 0.181 0.181 0.181 0.181 0.181 0.181 0.181 0.181 0.181 0.1"/></feComponentTransfer>
<feColorMatrix in="z1" type="matrix" values="1 0 0 0 0 1 0 0 0 0 1 0 0 0 0 0 0 0 0 1" result="z"/>
<feColorMatrix in="br" type="matrix" values="0 0 0 0 0 0 0 0 0 0 0 0 0 0 0 3 0 0 0 -1" result="m"/>
<feComposite in="z" in2="m" operator="in"/>
</filter>
<defs><path id="s57" d="M1294.4 662.7C1298.5 662.3 1302.2 664.5 1306.8 666.4C1311.3 668.3 1317.6 671.8 1321.7 673.9C1325.8 676 1327.5 678.6 1331.6 678.8C1335.7 679 1341.1 676.3 1346.5 675.1C1351.9 673.9 1356 673.2 1363.8 671.4C1371.6 669.5 1385.3 666.9 1393.6 664C1401.9 661.1 1406.4 657.3 1413.4 654C1420.4 650.7 1428.7 647.4 1435.7 644.1C1442.7 640.8 1449.3 639.2 1455.5 634.2C1461.7 629.2 1466.7 620.6 1472.9 614.4C1479.1 608.2 1486.5 600.9 1492.7 597C1498.9 593.1 1503.9 591.8 1510.1 590.8C1516.3 589.8 1524.7 589.3 1529.9 590.8C1535.1 592.2 1538.6 595.6 1541.1 599.5C1543.6 603.4 1544.6 607 1544.8 614.4C1545 621.8 1543.5 634.2 1542.3 644.1C1541 654 1539.4 663.1 1537.3 673.9C1535.2 684.6 1532.8 697.9 1529.9 708.6C1527 719.3 1523.3 730 1520 738.3C1516.7 746.5 1513.8 751.5 1510.1 758.1C1506.4 764.7 1501 772.2 1497.7 778C1494.4 783.8 1494.3 787.8 1490.2 792.8C1486.1 797.8 1479.1 802.3 1472.9 807.7C1466.7 813.1 1461.4 822.2 1453.1 825.1C1444.8 828 1433.2 824.7 1423.3 825.1C1413.4 825.5 1401.9 826.4 1393.6 827.6C1385.3 828.8 1379.5 829.2 1373.7 832.5C1367.9 835.8 1363 842.4 1358.9 847.4C1354.8 852.4 1353.1 856.5 1349 862.3C1344.9 868.1 1339.1 876.3 1334.1 882.1C1329.1 887.9 1325 893.1 1319.2 897C1313.4 900.9 1306 904.4 1299.4 905.6C1292.8 906.8 1285.7 906.7 1279.5 904.4C1273.3 902.1 1267.6 897.4 1262.2 892C1256.8 886.6 1251 880.5 1247.3 872.2C1243.6 863.9 1241.1 852.3 1239.9 842.4C1238.7 832.5 1238.7 821 1239.9 812.7C1241.1 804.4 1244.8 799.4 1247.3 792.8C1249.8 786.2 1252.8 780 1254.7 773C1256.6 766 1258.3 758.1 1258.5 750.7C1258.7 743.3 1255.8 736.2 1256 728.4C1256.2 720.5 1257.4 711 1259.7 703.6C1262 696.2 1265.9 689.6 1269.6 683.8C1273.3 678 1277.9 672.4 1282 668.9C1286.1 665.4 1290.3 663.1 1294.4 662.7Z"/><path id="s58" d="M1500.2 636.7C1506.4 636.7 1510.3 638.7 1512.6 644.1C1514.9 649.5 1514.6 659 1513.8 668.9C1513 678.8 1510.7 692 1507.6 703.6C1504.5 715.2 1500.2 727.1 1495.2 738.3C1490.2 749.4 1484.4 762.6 1477.8 770.5C1471.2 778.4 1462.9 782.9 1455.5 785.4C1448.1 787.9 1439.4 787 1433.2 785.4C1427 783.8 1421.3 780 1418.4 775.5C1415.5 771 1415.5 764.7 1415.9 758.1C1416.3 751.5 1417.9 743.2 1420.8 735.8C1423.7 728.4 1429.1 721.4 1433.2 713.5C1437.3 705.6 1441.5 697 1445.6 688.7C1449.7 680.4 1453 671.3 1458 663.9C1463 656.5 1468.4 648.6 1475.4 644.1C1482.4 639.6 1494 636.7 1500.2 636.7Z"/><path id="s59" d="M1487.8 673.9C1491.5 675.1 1494.4 682.1 1495.2 688.7C1496 695.3 1495.2 705.6 1492.7 713.5C1490.2 721.4 1484.8 729.6 1480.3 735.8C1475.8 742 1470.8 747.8 1465.4 750.7C1460 753.6 1452.2 755.3 1448.1 753.2C1444 751.1 1441.1 743.3 1440.7 738.3C1440.3 733.3 1442.7 729.6 1445.6 723.4C1448.5 717.2 1453.5 708.1 1458 701.1C1462.5 694.1 1467.9 685.8 1472.9 681.3C1477.9 676.8 1484.1 672.7 1487.8 673.9Z"/><ellipse id="s60" cx="1467" cy="720" rx="5" ry="11" transform="rotate(25 1467 720)"/><path id="s61" d="M1289.5 787.9C1296.5 789.1 1308.4 792 1314.2 797.8C1320 803.6 1322.3 813.5 1324.2 822.6C1326.1 831.7 1326.7 842.8 1325.4 852.3C1324.2 861.8 1321.5 873 1316.7 879.6C1312 886.2 1303.9 890.8 1296.9 892C1289.9 893.2 1281.2 891.1 1274.6 887C1268 882.9 1260.9 875.5 1257.2 867.2C1253.5 859 1252.3 847.4 1252.3 837.5C1252.3 827.6 1253.9 815.6 1257.2 807.7C1260.5 799.9 1266.7 793.7 1272.1 790.4C1277.5 787.1 1282.5 786.7 1289.5 787.9Z"/><ellipse id="s62" cx="1288.8" cy="841.8" rx="27.9" ry="36.6"/><ellipse id="s63" cx="1288.2" cy="843" rx="22.3" ry="27.9"/><ellipse id="s64" cx="1289" cy="844" rx="15" ry="19"/><ellipse id="s65" cx="1289.5" cy="844.9" rx="4" ry="6"/><ellipse id="s66" cx="1296" cy="742" rx="14" ry="26"/><ellipse id="s67" cx="1300" cy="720" rx="30" ry="40"/><ellipse id="s68" cx="1386" cy="733" rx="20" ry="22"/><ellipse id="s69" cx="1420" cy="760" rx="15" ry="20"/><ellipse id="s70" cx="1340" cy="735" rx="60" ry="45"/><path id="s71" d="M1321.7 673.9C1321.8 672.9 1327.5 678.6 1331.6 678.8C1335.7 679 1341.1 676.3 1346.5 675.1C1351.9 673.9 1356 673.2 1363.8 671.4C1371.6 669.5 1385.3 666.9 1393.6 664C1401.9 661.1 1406.4 657.3 1413.4 654C1420.4 650.7 1428.7 647.4 1435.7 644.1C1442.7 640.8 1452.8 633.9 1455.5 634.2C1458.2 634.5 1454.6 642.7 1452 646C1449.4 649.3 1446.2 651 1440 654C1433.8 657 1422.7 660.7 1415 664C1407.3 667.3 1402.5 671.3 1394 674C1385.5 676.7 1372 678.5 1364 680C1356 681.5 1351.5 682.2 1346 683C1340.5 683.8 1335 686.5 1331 685C1327 683.5 1321.6 674.9 1321.7 673.9Z"/><path id="s72" d="M1358.9 847.4C1361.9 846.5 1367.9 835.8 1373.7 832.5C1379.5 829.2 1385.3 828.8 1393.6 827.6C1401.9 826.4 1418.9 826.7 1423.3 825.1C1427.7 823.5 1425.2 818.9 1420 818C1414.8 817.1 1400.3 818.7 1392 820C1383.7 821.3 1376 823 1370 826C1364 829 1357.8 834.4 1356 838C1354.2 841.6 1356 848.3 1358.9 847.4Z"/></defs>
<g clip-path="url(#cB4)">
<use href="#s57" fill="#000"/>
<g filter="url(#fB4)">
<rect x="1185.8" y="496.2" width="484.4" height="483.8" fill="#000"/>
<use href="#s57" fill="#f00" style="mix-blend-mode:lighten"/>
<use href="#s58" fill="rgb(0,33,0)" style="mix-blend-mode:lighten"/>
<use href="#s59" fill="rgb(0,66,0)" style="mix-blend-mode:lighten"/>
<use href="#s60" fill="rgb(0,80,0)" style="mix-blend-mode:lighten"/>
<use href="#s61" fill="rgb(0,33,0)" style="mix-blend-mode:lighten"/>
<use href="#s62" fill="rgb(0,66,0)" style="mix-blend-mode:lighten"/>
<use href="#s63" fill="rgb(0,99,0)" style="mix-blend-mode:lighten"/>
<use href="#s64" fill="rgb(0,133,0)" style="mix-blend-mode:lighten"/>
<use href="#s65" fill="rgb(0,147,0)" style="mix-blend-mode:lighten"/>
<use href="#s66" fill="rgb(0,0,20)" style="mix-blend-mode:lighten"/>
<use href="#s67" fill="rgb(0,0,11)" style="mix-blend-mode:lighten"/>
<use href="#s68" fill="rgb(0,0,15)" style="mix-blend-mode:lighten"/>
<use href="#s69" fill="rgb(0,0,13)" style="mix-blend-mode:lighten"/>
<use href="#s70" fill="rgb(0,0,8)" style="mix-blend-mode:lighten"/>
</g>
<use href="#s58" fill="none" stroke="#fff" stroke-width="1.3"/>
<use href="#s59" fill="none" stroke="#fff" stroke-width="1.3"/>
<use href="#s61" fill="none" stroke="#fff" stroke-width="1.3"/>
<use href="#s62" fill="none" stroke="#fff" stroke-width="1.3"/>
<use href="#s63" fill="none" stroke="#fff" stroke-width="1.3"/>
<use href="#s64" fill="none" stroke="#fff" stroke-width="1.3"/>
<use href="#s57" fill="none" stroke="#000" stroke-width="5.0" stroke-linejoin="round"/>
<use href="#s71" fill="#000"/>
<use href="#s72" fill="#000"/>
<path d="M1317.9 655.6h2v2h-2zM1330.5 641.9h2v2h-2zM1313.4 640.4h2v2h-2zM1352.0 648.0h2v2h-2zM1241.9 678.7h2v2h-2zM1397.9 633.6h2v2h-2zM1416.8 615.8h2v2h-2zM1251.7 664.8h2v2h-2zM1325.5 669.9h2v2h-2zM1311.4 662.7h2v2h-2zM1246.1 644.8h2v2h-2zM1320.3 663.0h2v2h-2zM1351.3 669.0h2v2h-2zM1350.6 670.0h2v2h-2zM1372.6 657.2h2v2h-2zM1279.4 644.0h2v2h-2zM1415.3 641.5h2v2h-2zM1349.9 649.1h2v2h-2zM1300.4 654.8h2v2h-2zM1421.5 639.8h2v2h-2zM1337.2 668.3h2v2h-2zM1425.9 630.3h2v2h-2zM1360.5 666.1h2v2h-2zM1338.7 671.8h2v2h-2zM1330.1 659.1h2v2h-2zM1268.3 627.4h2v2h-2zM1363.7 627.4h2v2h-2zM1291.3 659.6h2v2h-2zM1352.8 627.0h2v2h-2zM1384.0 631.1h2v2h-2zM1425.4 621.1h2v2h-2zM1414.2 617.8h2v2h-2zM1315.6 634.4h2v2h-2zM1393.3 654.9h2v2h-2zM1363.5 647.7h2v2h-2zM1414.9 632.5h2v2h-2zM1339.7 653.2h2v2h-2zM1388.0 623.2h2v2h-2zM1275.3 668.2h2v2h-2zM1267.0 665.2h2v2h-2zM1349.2 665.9h2v2h-2zM1332.7 659.5h2v2h-2zM1346.0 639.0h2v2h-2zM1302.1 661.5h2v2h-2zM1323.3 646.0h2v2h-2zM1341.9 669.7h2v2h-2zM1379.1 629.9h2v2h-2zM1339.7 658.0h2v2h-2zM1358.2 655.4h2v2h-2zM1390.0 635.6h2v2h-2zM1375.3 655.1h2v2h-2zM1353.5 653.5h2v2h-2zM1332.5 669.7h2v2h-2zM1336.2 653.1h2v2h-2zM1328.6 627.4h2v2h-2zM1308.0 659.1h2v2h-2zM1333.3 670.3h2v2h-2zM1280.9 652.7h2v2h-2zM1404.5 642.9h2v2h-2zM1338.1 649.4h2v2h-2zM1384.2 631.1h2v2h-2zM1421.0 634.6h2v2h-2zM1386.1 617.5h2v2h-2zM1336.8 665.1h2v2h-2zM1403.4 639.8h2v2h-2zM1322.0 660.6h2v2h-2zM1309.3 651.6h2v2h-2zM1339.3 638.0h2v2h-2zM1320.4 656.4h2v2h-2zM1393.3 652.9h2v2h-2zM1365.4 658.1h2v2h-2zM1389.4 623.3h2v2h-2zM1379.4 621.0h2v2h-2zM1277.1 644.9h2v2h-2zM1252.5 653.4h2v2h-2zM1351.0 653.7h2v2h-2zM1399.7 651.7h2v2h-2zM1373.8 652.7h2v2h-2zM1365.6 640.4h2v2h-2zM1315.7 649.9h2v2h-2zM1315.9 657.3h2v2h-2zM1261.9 673.5h2v2h-2zM1246.1 673.6h2v2h-2zM1355.4 650.6h2v2h-2zM1411.3 644.8h2v2h-2zM1558.9 610.2h2v2h-2zM1431.0 629.0h2v2h-2zM1550.5 620.9h2v2h-2zM1549.2 611.5h2v2h-2zM1521.8 582.2h2v2h-2zM1491.1 572.9h2v2h-2zM1545.7 587.2h2v2h-2zM1482.2 598.9h2v2h-2zM1556.3 611.5h2v2h-2zM1442.0 621.7h2v2h-2zM1535.0 590.6h2v2h-2zM1516.0 569.2h2v2h-2zM1549.6 582.4h2v2h-2zM1420.2 614.3h2v2h-2zM1556.9 600.0h2v2h-2zM1550.1 580.6h2v2h-2zM1437.5 614.2h2v2h-2zM1434.6 612.5h2v2h-2zM1478.1 599.1h2v2h-2zM1561.0 621.5h2v2h-2zM1514.6 577.2h2v2h-2zM1546.0 574.4h2v2h-2zM1433.1 631.6h2v2h-2zM1555.3 600.3h2v2h-2zM1429.2 618.1h2v2h-2zM1553.9 611.3h2v2h-2zM1492.1 594.5h2v2h-2zM1450.9 610.2h2v2h-2zM1460.0 622.9h2v2h-2zM1436.3 627.3h2v2h-2zM1444.8 618.3h2v2h-2zM1520.5 557.3h2v2h-2zM1528.7 569.0h2v2h-2zM1460.2 606.3h2v2h-2zM1549.4 632.1h2v2h-2zM1493.3 579.0h2v2h-2zM1495.9 586.7h2v2h-2zM1434.9 632.1h2v2h-2zM1441.3 622.8h2v2h-2zM1429.3 609.6h2v2h-2zM1383.7 871.8h2v2h-2zM1356.4 878.8h2v2h-2zM1449.3 830.8h2v2h-2zM1461.6 832.3h2v2h-2zM1417.7 843.8h2v2h-2zM1351.8 887.2h2v2h-2zM1352.6 886.5h2v2h-2zM1481.9 837.6h2v2h-2zM1442.3 837.3h2v2h-2zM1404.9 849.9h2v2h-2zM1416.4 835.7h2v2h-2zM1372.3 842.5h2v2h-2zM1356.1 867.8h2v2h-2zM1358.5 861.9h2v2h-2zM1363.2 884.0h2v2h-2zM1418.5 831.8h2v2h-2zM1446.2 854.7h2v2h-2zM1432.5 852.6h2v2h-2zM1358.0 859.0h2v2h-2zM1372.0 842.8h2v2h-2zM1386.5 833.6h2v2h-2zM1368.7 843.3h2v2h-2zM1355.1 892.7h2v2h-2zM1452.4 841.8h2v2h-2zM1429.0 830.0h2v2h-2zM1398.3 853.7h2v2h-2zM1384.5 838.2h2v2h-2zM1359.4 866.3h2v2h-2zM1385.5 872.0h2v2h-2zM1381.2 851.3h2v2h-2zM1389.3 839.9h2v2h-2zM1429.8 829.6h2v2h-2zM1355.3 857.9h2v2h-2zM1382.1 853.1h2v2h-2zM1477.3 828.3h2v2h-2zM1417.5 832.4h2v2h-2zM1356.4 865.8h2v2h-2zM1362.1 851.1h2v2h-2zM1437.9 843.1h2v2h-2zM1359.8 867.2h2v2h-2zM1440.4 830.0h2v2h-2zM1361.2 869.2h2v2h-2zM1366.8 863.7h2v2h-2zM1415.9 850.8h2v2h-2zM1360.8 871.5h2v2h-2zM1456.3 827.9h2v2h-2zM1374.9 859.2h2v2h-2zM1359.3 888.0h2v2h-2zM1351.0 879.8h2v2h-2zM1452.9 840.6h2v2h-2zM1360.6 886.4h2v2h-2zM1383.1 864.7h2v2h-2zM1500.9 826.2h2v2h-2zM1346.8 896.7h2v2h-2zM1376.2 838.1h2v2h-2zM1441.9 841.6h2v2h-2zM1352.4 877.6h2v2h-2zM1446.4 835.4h2v2h-2zM1375.6 836.8h2v2h-2zM1383.4 853.6h2v2h-2zM1546.0 604.9h2v2h-2zM1526.0 753.0h2v2h-2zM1525.0 744.0h2v2h-2zM1523.2 752.8h2v2h-2zM1533.0 714.8h2v2h-2zM1537.0 706.0h2v2h-2zM1549.0 607.1h2v2h-2zM1522.0 751.5h2v2h-2zM1525.3 731.0h2v2h-2zM1543.1 661.6h2v2h-2zM1544.6 601.0h2v2h-2zM1528.4 724.9h2v2h-2zM1546.9 648.3h2v2h-2zM1540.2 677.5h2v2h-2zM1534.8 734.6h2v2h-2zM1238.3 807.1h2v2h-2zM1257.9 685.9h2v2h-2zM1231.9 795.7h2v2h-2zM1249.6 689.9h2v2h-2zM1233.5 827.0h2v2h-2zM1234.3 804.6h2v2h-2zM1251.4 729.7h2v2h-2zM1254.5 747.7h2v2h-2zM1243.9 775.9h2v2h-2zM1248.0 755.0h2v2h-2zM1259.5 897.9h2v2h-2zM1240.4 781.5h2v2h-2z" fill="#000"/>
</g>
<clipPath id="cC11"><rect x="200.5" y="1170.2" width="329.6" height="328.6"/></clipPath>
<filter id="fC11" filterUnits="userSpaceOnUse" x="200.5" y="1170.2" width="329.6" height="328.6" color-interpolation-filters="sRGB">
<feGaussianBlur in="SourceGraphic" stdDeviation="1.0" result="br"/>
<feGaussianBlur in="SourceGraphic" stdDeviation="2.2" result="bg"/>
<feGaussianBlur in="SourceGraphic" stdDeviation="10.0" result="bb"/>
<feGaussianBlur in="SourceGraphic" stdDeviation="9.0" result="bl"/>
<feColorMatrix in="bg" type="matrix" values="0 1 0 0 0 0 0 0 0 0 0 0 0 0 0 0 0 0 0 1" result="g"/>
<feComponentTransfer in="g" result="tg"><feFuncR type="table" tableValues="0 0.06 0.121 0.181 0.241 0.302 0.362 0.422 0.483 0.543 0.603 0.664 0.724 0.784 0.845 0.905 0.965 0.013 0.043 0.073 0.103 0.133 0.164 0.194 0.224 0.254 0.284 0.314 0.345 0.375 0.405 0.435 0.465 0.495 0.526 0.556 0.586 0.616 0.646 0.676 0.707 0.737 0.767 0.797 0.827 0.857 0.888 0.918 0.948 0.978 0.008 0.038 0.069 0.099 0.129 0.159 0.189 0.219 0.25 0.28 0.31 0.34 0.37 0.4 0.431 0.461 0.491 0.521 0.551 0.581 0.612 0.642 0.672 0.702 0.732 0.762 0.793 0.823 0.853 0.883 0.913 0.943 0.974 0.004 0.034 0.064 0.094 0.124 0.155 0.185 0.215 0.245 0.275 0.305 0.336 0.366 0.396 0.426 0.456 0.486 0.517 0.547 0.577 0.607 0.637 0.667 0.698 0.728 0.758 0.788 0.818 0.848 0.879 0.909 0.939 0.969 0.999 0.029 0.06 0.09 0.12 0.15 0.18 0.21 0.241 0.271 0.301 0.331 0.361 0.391 0.422 0.452 0.482 0.512 0.542 0.572 0.603 0.633 0.663 0.693 0.723 0.753 0.784 0.814 0.844 0.874 0.904 0.934 0.965 0.995 0.025 0.055 0.085 0.115 0.146 0.176 0.206 0.236 0.266 0.296 0.327 0.357 0.387 0.417 0.447 0.477 0.508 0.538 0.568 0.598 0.628 0.658 0.689 0.719 0.749 0.779 0.809 0.839 0.87 0.9 0.93 0.96 0.99 0.02 0.051 0.081 0.111 0.141 0.171 0.201 0.232 0.262 0.292 0.322 0.352 0.382 0.413 0.443 0.473 0.503 0.533 0.563 0.594 0.624 0.654 0.684 0.714 0.744 0.775 0.805 0.835 0.865 0.895 0.925 0.956 0.986 0.016 0.046 0.076 0.106 0.137 0.167 0.197 0.227 0.257 0.287 0.317 0.348 0.378 0.408 0.438 0.468 0.498 0.529 0.559 0.589 0.619 0.649 0.679 0.71 0.74 0.77 0.8 0.83 0.86 0.891 0.921 0.951 0.981 0.011 0.041 0.072 0.102 0.132 0.162 0.192"/></feComponentTransfer>
<feColorMatrix in="bb" type="matrix" values="0 0 8.0 0 0 0 0 0 0 0 0 0 0 0 0 0 0 0 0 1" result="b"/>
<feColorMatrix in="bl" type="matrix" values="0.6000 0 0 0 -0.3000 0 0 0 0 0 0 0 0 0 0 0 0 0 0 1" result="l"/>
<feComposite in="b" in2="l" operator="arithmetic" k2="1" k3="1" result="bl2"/>
<feComponentTransfer in="g" result="ib"><feFuncR type="table" tableValues="1 1 1 1 1 1 1 1 1 1 1 1 1 1 1 1 1 0 0 0 0 0 0 0 0 0 0 0 0 0 0 0 0 0 0 0 0 0 0 0 0 0 0 0 0 0 0 0 0 0 0 0 0 0 0 0 0 0 0 0 0 0 0 0 0 0 0 0 0 0 0 0 0 0 0 0 0 0 0 0 0 0 0 0 0 0 0 0 0 0 0 0 0 0 0 0 0 0 0 0 0 0 0 0 0 0 0 0 0 0 0 0 0 0 0 0 0 0 0 0 0 0 0 0 0 0 0 0 0 0 0 0 0 0 0 0 0 0 0 0 0 0 0 0 0 0 0 0 0 0 0 0 0 0 0 0 0 0 0 0 0 0 0 0 0 0 0 0 0 0 0 0 0 0 0 0 0 0 0 0 0 0 0 0 0 0 0 0 0 0 0 0 0 0 0 0 0 0 0 0 0 0 0 0 0 0 0 0 0 0 0 0 0 0 0 0 0 0 0 0 0 0 0 0 0 0 0 0 0 0 0 0 0 0 0 0 0 0 0 0 0 0 0 0 0 0 0 0 0 0 0 0 0 0 0 0"/></feComponentTransfer>
<feComposite in="bl2" in2="ib" operator="arithmetic" k1="1" result="hb"/>
<feComposite in="tg" in2="hb" operator="arithmetic" k2="1" k3="1" result="t"/>
<feComponentTransfer in="t" result="z1"><feFuncR type="table" tableValues="0.88 0.88 0.88 0.88 0.88 0.88 0.88 0.88 0.88 0.88 0.88 0.88 0.88 0.88 0.88 0.88 0.88 0.88 0.88 0.88 0.88 0.88 0.88 0.88 0.831 0.831 0.831 0.831 0.831 0.831 0.831 0.831 0.831 0.831 0.831 0.831 0.831 0.831 0.831 0.831 0.831 0.831 0.831 0.831 0.831 0.831 0.831 0.77 0.77 0.77 0.77 0.77 0.77 0.77 0.77 0.77 0.77 0.77 0.77 0.77 0.77 0.77 0.77 0.77 0.77 0.77 0.77 0.77 0.77 0.77 0.705 0.705 0.705 0.705 0.705 0.705 0.705 0.705 0.705 0.705 0.705 0.705 0.705 0.705 0.705 0.705 0.705 0.705 0.705 0.705 0.705 0.705 0.705 0.636 0.636 0.636 0.636 0.636 0.636 0.636 0.636 0.636 0.636 0.636 0.636 0.636 0.636 0.636 0.636 0.636 0.636 0.636 0.636 0.636 0.636 0.636 0.565 0.565 0.565 0.565 0.565 0.565 0.565 0.565 0.565 0.565 0.565 0.565 0.565 0.565 0.565 0.565 0.565 0.565 0.565 0.565 0.565 0.565 0.565 0.565 0.492 0.492 0.492 0.492 0.492 0.492 0.492 0.492 0.492 0.492 0.492 0.492 0.492 0.492 0.492 0.492 0.492 0.492 0.492 0.492 0.492 0.492 0.492 0.416 0.416 0.416 0.416 0.416 0.416 0.416 0.416 0.416 0.416 0.416 0.416 0.416 0.416 0.416 0.416 0.416 0.416 0.416 0.416 0.416 0.416 0.416 0.339 0.339 0.339 0.339 0.339 0.339 0.339 0.339 0.339 0.339 0.339 0.339 0.339 0.339 0.339 0.339 0.339 0.339 0.339 0.339 0.339 0.339 0.339 0.261 0.261 0.261 0.261 0.261 0.261 0.261 0.261 0.261 0.261 0.261 0.261 0.261 0.261 0.261 0.261 0.261 0.261 0.261 0.261 0.261 0.261 0.261 0.181 0.181 0.181 0.181 0.181 0.181 0.181 0.181 0.181 0.181 0.181 0.181 0.181 0.181 0.181 0.181 0.181 0.181 0.181 0.181 0.181 0.181 0.181 0.1"/></feComponentTransfer>
<feColorMatrix in="z1" type="matrix" values="1 0 0 0 0 1 0 0 0 0 1 0 0 0 0 0 0 0 0 1" result="z"/>
<feColorMatrix in="br" type="matrix" values="0 0 0 0 0 0 0 0 0 0 0 0 0 0 0 3 0 0 0 -1" result="m"/>
<feComposite in="z" in2="m" operator="in"/>
</filter>
<defs><ellipse id="s73" cx="262.4" cy="1435.7" rx="27.2" ry="25.1"/><ellipse id="s74" cx="262.4" cy="1435.4" rx="15.2" ry="13.4"/><ellipse id="s75" cx="262" cy="1435.4" rx="12" ry="9.7"/><ellipse id="s76" cx="262.4" cy="1435" rx="6.9" ry="5.5"/><ellipse id="s77" cx="262.5" cy="1435.5" rx="5" ry="4"/><ellipse id="s78" cx="262" cy="1435" rx="19" ry="17"/></defs>
<g clip-path="url(#cC11)">
<use href="#s73" fill="#000"/>
<g filter="url(#fC11)">
<rect x="160.5" y="1130.2" width="409.6" height="408.6" fill="#000"/>
<use href="#s73" fill="#f00" style="mix-blend-mode:lighten"/>
<use href="#s74" fill="rgb(0,33,0)" style="mix-blend-mode:lighten"/>
<use href="#s75" fill="rgb(0,66,0)" style="mix-blend-mode:lighten"/>
<use href="#s76" fill="rgb(0,99,0)" style="mix-blend-mode:lighten"/>
<use href="#s77" fill="rgb(0,113,0)" style="mix-blend-mode:lighten"/>
<use href="#s78" fill="rgb(0,0,13)" style="mix-blend-mode:lighten"/>
</g>
<use href="#s74" fill="none" stroke="#fff" stroke-width="1.3"/>
<use href="#s75" fill="none" stroke="#fff" stroke-width="1.3"/>
<use href="#s76" fill="none" stroke="#fff" stroke-width="1.3"/>
<use href="#s73" fill="none" stroke="#000" stroke-width="2.2" stroke-linejoin="round"/>
<path d="M296.1 1439.0h2v2h-2zM288.2 1447.7h2v2h-2zM265.4 1463.5h2v2h-2zM246.9 1408.4h2v2h-2zM249.2 1463.5h2v2h-2zM271.2 1460.0h2v2h-2zM249.7 1413.0h2v2h-2zM274.7 1411.7h2v2h-2zM292.2 1429.6h2v2h-2zM234.5 1431.5h2v2h-2zM241.4 1414.6h2v2h-2zM284.9 1417.2h2v2h-2zM240.9 1420.1h2v2h-2zM257.2 1462.1h2v2h-2z" fill="#000"/>
</g>
<clipPath id="cC21"><rect x="200.5" y="1521.3" width="329.6" height="328.6"/></clipPath>
<filter id="fC21" filterUnits="userSpaceOnUse" x="200.5" y="1521.3" width="329.6" height="328.6" color-interpolation-filters="sRGB">
<feGaussianBlur in="SourceGraphic" stdDeviation="1.0" result="br"/>
<feGaussianBlur in="SourceGraphic" stdDeviation="2.2" result="bg"/>
<feGaussianBlur in="SourceGraphic" stdDeviation="10.0" result="bb"/>
<feGaussianBlur in="SourceGraphic" stdDeviation="9.0" result="bl"/>
<feColorMatrix in="bg" type="matrix" values="0 1 0 0 0 0 0 0 0 0 0 0 0 0 0 0 0 0 0 1" result="g"/>
<feComponentTransfer in="g" result="tg"><feFuncR type="table" tableValues="0 0.06 0.121 0.181 0.241 0.302 0.362 0.422 0.483 0.543 0.603 0.664 0.724 0.784 0.845 0.905 0.965 0.013 0.043 0.073 0.103 0.133 0.164 0.194 0.224 0.254 0.284 0.314 0.345 0.375 0.405 0.435 0.465 0.495 0.526 0.556 0.586 0.616 0.646 0.676 0.707 0.737 0.767 0.797 0.827 0.857 0.888 0.918 0.948 0.978 0.008 0.038 0.069 0.099 0.129 0.159 0.189 0.219 0.25 0.28 0.31 0.34 0.37 0.4 0.431 0.461 0.491 0.521 0.551 0.581 0.612 0.642 0.672 0.702 0.732 0.762 0.793 0.823 0.853 0.883 0.913 0.943 0.974 0.004 0.034 0.064 0.094 0.124 0.155 0.185 0.215 0.245 0.275 0.305 0.336 0.366 0.396 0.426 0.456 0.486 0.517 0.547 0.577 0.607 0.637 0.667 0.698 0.728 0.758 0.788 0.818 0.848 0.879 0.909 0.939 0.969 0.999 0.029 0.06 0.09 0.12 0.15 0.18 0.21 0.241 0.271 0.301 0.331 0.361 0.391 0.422 0.452 0.482 0.512 0.542 0.572 0.603 0.633 0.663 0.693 0.723 0.753 0.784 0.814 0.844 0.874 0.904 0.934 0.965 0.995 0.025 0.055 0.085 0.115 0.146 0.176 0.206 0.236 0.266 0.296 0.327 0.357 0.387 0.417 0.447 0.477 0.508 0.538 0.568 0.598 0.628 0.658 0.689 0.719 0.749 0.779 0.809 0.839 0.87 0.9 0.93 0.96 0.99 0.02 0.051 0.081 0.111 0.141 0.171 0.201 0.232 0.262 0.292 0.322 0.352 0.382 0.413 0.443 0.473 0.503 0.533 0.563 0.594 0.624 0.654 0.684 0.714 0.744 0.775 0.805 0.835 0.865 0.895 0.925 0.956 0.986 0.016 0.046 0.076 0.106 0.137 0.167 0.197 0.227 0.257 0.287 0.317 0.348 0.378 0.408 0.438 0.468 0.498 0.529 0.559 0.589 0.619 0.649 0.679 0.71 0.74 0.77 0.8 0.83 0.86 0.891 0.921 0.951 0.981 0.011 0.041 0.072 0.102 0.132 0.162 0.192"/></feComponentTransfer>
<feColorMatrix in="bb" type="matrix" values="0 0 8.0 0 0 0 0 0 0 0 0 0 0 0 0 0 0 0 0 1" result="b"/>
<feColorMatrix in="bl" type="matrix" values="0.6000 0 0 0 -0.3000 0 0 0 0 0 0 0 0 0 0 0 0 0 0 1" result="l"/>
<feComposite in="b" in2="l" operator="arithmetic" k2="1" k3="1" result="bl2"/>
<feComponentTransfer in="g" result="ib"><feFuncR type="table" tableValues="1 1 1 1 1 1 1 1 1 1 1 1 1 1 1 1 1 0 0 0 0 0 0 0 0 0 0 0 0 0 0 0 0 0 0 0 0 0 0 0 0 0 0 0 0 0 0 0 0 0 0 0 0 0 0 0 0 0 0 0 0 0 0 0 0 0 0 0 0 0 0 0 0 0 0 0 0 0 0 0 0 0 0 0 0 0 0 0 0 0 0 0 0 0 0 0 0 0 0 0 0 0 0 0 0 0 0 0 0 0 0 0 0 0 0 0 0 0 0 0 0 0 0 0 0 0 0 0 0 0 0 0 0 0 0 0 0 0 0 0 0 0 0 0 0 0 0 0 0 0 0 0 0 0 0 0 0 0 0 0 0 0 0 0 0 0 0 0 0 0 0 0 0 0 0 0 0 0 0 0 0 0 0 0 0 0 0 0 0 0 0 0 0 0 0 0 0 0 0 0 0 0 0 0 0 0 0 0 0 0 0 0 0 0 0 0 0 0 0 0 0 0 0 0 0 0 0 0 0 0 0 0 0 0 0 0 0 0 0 0 0 0 0 0 0 0 0 0 0 0 0 0 0 0 0 0"/></feComponentTransfer>
<feComposite in="bl2" in2="ib" operator="arithmetic" k1="1" result="hb"/>
<feComposite in="tg" in2="hb" operator="arithmetic" k2="1" k3="1" result="t"/>
<feComponentTransfer in="t" result="z1"><feFuncR type="table" tableValues="0.88 0.88 0.88 0.88 0.88 0.88 0.88 0.88 0.88 0.88 0.88 0.88 0.88 0.88 0.88 0.88 0.88 0.88 0.88 0.88 0.88 0.88 0.88 0.88 0.831 0.831 0.831 0.831 0.831 0.831 0.831 0.831 0.831 0.831 0.831 0.831 0.831 0.831 0.831 0.831 0.831 0.831 0.831 0.831 0.831 0.831 0.831 0.77 0.77 0.77 0.77 0.77 0.77 0.77 0.77 0.77 0.77 0.77 0.77 0.77 0.77 0.77 0.77 0.77 0.77 0.77 0.77 0.77 0.77 0.77 0.705 0.705 0.705 0.705 0.705 0.705 0.705 0.705 0.705 0.705 0.705 0.705 0.705 0.705 0.705 0.705 0.705 0.705 0.705 0.705 0.705 0.705 0.705 0.636 0.636 0.636 0.636 0.636 0.636 0.636 0.636 0.636 0.636 0.636 0.636 0.636 0.636 0.636 0.636 0.636 0.636 0.636 0.636 0.636 0.636 0.636 0.565 0.565 0.565 0.565 0.565 0.565 0.565 0.565 0.565 0.565 0.565 0.565 0.565 0.565 0.565 0.565 0.565 0.565 0.565 0.565 0.565 0.565 0.565 0.565 0.492 0.492 0.492 0.492 0.492 0.492 0.492 0.492 0.492 0.492 0.492 0.492 0.492 0.492 0.492 0.492 0.492 0.492 0.492 0.492 0.492 0.492 0.492 0.416 0.416 0.416 0.416 0.416 0.416 0.416 0.416 0.416 0.416 0.416 0.416 0.416 0.416 0.416 0.416 0.416 0.416 0.416 0.416 0.416 0.416 0.416 0.339 0.339 0.339 0.339 0.339 0.339 0.339 0.339 0.339 0.339 0.339 0.339 0.339 0.339 0.339 0.339 0.339 0.339 0.339 0.339 0.339 0.339 0.339 0.261 0.261 0.261 0.261 0.261 0.261 0.261 0.261 0.261 0.261 0.261 0.261 0.261 0.261 0.261 0.261 0.261 0.261 0.261 0.261 0.261 0.261 0.261 0.181 0.181 0.181 0.181 0.181 0.181 0.181 0.181 0.181 0.181 0.181 0.181 0.181 0.181 0.181 0.181 0.181 0.181 0.181 0.181 0.181 0.181 0.181 0.1"/></feComponentTransfer>
<feColorMatrix in="z1" type="matrix" values="1 0 0 0 0 1 0 0 0 0 1 0 0 0 0 0 0 0 0 1" result="z"/>
<feColorMatrix in="br" type="matrix" values="0 0 0 0 0 0 0 0 0 0 0 0 0 0 0 3 0 0 0 -1" result="m"/>
<feComposite in="z" in2="m" operator="in"/>
</filter>
<defs><path id="s79" d="M265.5 1692.1C267.6 1691.6 269.9 1694.7 271.3 1696.4C272.8 1698.1 272.1 1700.1 274.2 1702.2C276.3 1704.3 281.6 1705.9 283.8 1709C286.1 1712.1 285.6 1717.4 287.7 1720.6C289.8 1723.8 294 1726 296.4 1728.4C298.8 1730.8 299.5 1733.2 302.2 1735.1C304.9 1737 310.1 1737.9 312.8 1740C315.5 1742.1 317.3 1744 318.6 1747.7C319.9 1751.4 319.5 1758.2 320.6 1762.2C321.7 1766.2 324.4 1769 325.4 1771.9C326.4 1774.8 327.2 1777 326.4 1779.6C325.6 1782.2 323.2 1784.7 320.6 1787.4C318 1790.2 314.3 1794.2 310.9 1796.1C307.5 1798 303.4 1797.5 300.3 1799C297.2 1800.5 294.8 1802.9 292.5 1804.8C290.2 1806.7 289.4 1808.7 286.7 1810.6C284 1812.5 280.5 1815.4 276.1 1816.4C271.8 1817.4 265.1 1816.6 260.6 1816.4C256.1 1816.2 252.9 1816.5 249 1815.4C245.1 1814.3 240.8 1812.3 237.4 1809.6C234 1806.9 230.8 1802.9 228.7 1799C226.6 1795.1 225.3 1790.1 224.8 1786.4C224.3 1782.7 224.7 1780.6 225.8 1776.7C226.9 1772.8 229.3 1768 231.6 1763.2C233.8 1758.4 236.7 1753 239.3 1747.7C241.9 1742.4 245 1736.1 247.1 1731.3C249.2 1726.5 250.6 1722.2 251.9 1718.7C253.2 1715.2 253.7 1713.2 254.8 1710C255.9 1706.8 256.9 1702.3 258.7 1699.3C260.5 1696.3 263.4 1692.6 265.5 1692.1Z"/><path id="s80" d="M251.9 1737.1C255.3 1733.5 260.1 1728.7 263.5 1727.4C266.9 1726.1 269 1727.8 272.2 1729.3C275.4 1730.8 278.7 1732.7 282.9 1736.1C287.1 1739.5 294.7 1745.1 297.4 1749.6C300.1 1754.1 296.9 1759.7 299.3 1763.2C301.7 1766.8 309.5 1768.7 311.9 1770.9C314.3 1773.2 314.6 1774.6 313.8 1776.7C313 1778.8 309.7 1781.1 307 1783.5C304.3 1785.9 300.6 1788.1 297.4 1791.2C294.2 1794.3 291.2 1798.4 287.7 1801.9C284.1 1805.5 280.6 1810.7 276.1 1812.5C271.6 1814.3 265.1 1812.9 260.6 1812.8C256.1 1812.7 252.6 1812.8 249 1811.8C245.4 1810.8 241.9 1808.9 239 1806.5C236.1 1804.1 233.3 1800.8 231.5 1797.5C229.7 1794.2 228.7 1789.7 228.3 1786.4C227.9 1783.1 228.2 1781.4 229.3 1777.7C230.4 1774 232.7 1769.3 235 1764.5C237.3 1759.7 240.2 1753.6 243 1749C245.8 1744.4 248.5 1740.7 251.9 1737.1Z"/><ellipse id="s81" cx="260.6" cy="1785.4" rx="16.9" ry="15.2"/><ellipse id="s82" cx="260.6" cy="1785.4" rx="10.6" ry="10.2"/><ellipse id="s83" cx="260.8" cy="1785.4" rx="6.8" ry="5.8"/><ellipse id="s84" cx="260.6" cy="1785.4" rx="5" ry="4"/><ellipse id="s85" cx="262" cy="1782" rx="24" ry="24"/><ellipse id="s86" cx="343.8" cy="1699.3" rx="3" ry="4.5"/><ellipse id="s87" cx="352.5" cy="1738" rx="6" ry="6"/><ellipse id="s88" cx="342.3" cy="1760.3" rx="4" ry="9" transform="rotate(-10 342.3 1760.3)"/></defs>
<g clip-path="url(#cC21)">
<use href="#s79" fill="#000"/>
<g filter="url(#fC21)">
<rect x="160.5" y="1481.3" width="409.6" height="408.6" fill="#000"/>
<use href="#s80" fill="#f00" style="mix-blend-mode:lighten"/>
<use href="#s81" fill="rgb(0,33,0)" style="mix-blend-mode:lighten"/>
<use href="#s82" fill="rgb(0,66,0)" style="mix-blend-mode:lighten"/>
<use href="#s83" fill="rgb(0,99,0)" style="mix-blend-mode:lighten"/>
<use href="#s84" fill="rgb(0,113,0)" style="mix-blend-mode:lighten"/>
<use href="#s85" fill="rgb(0,0,13)" style="mix-blend-mode:lighten"/>
</g>
<use href="#s81" fill="none" stroke="#fff" stroke-width="1.3"/>
<use href="#s82" fill="none" stroke="#fff" stroke-width="1.3"/>
<use href="#s83" fill="none" stroke="#fff" stroke-width="1.3"/>
<use href="#s79" fill="none" stroke="#000" stroke-width="2.2" stroke-linejoin="round"/>
<use href="#s86" fill="#000"/>
<use href="#s87" fill="#000"/>
<use href="#s88" fill="#000"/>
<path d="M312.8 1719.2h2v2h-2zM364.2 1714.8h2v2h-2zM350.1 1792.2h2v2h-2zM343.5 1739.9h2v2h-2zM308.6 1680.2h2v2h-2zM364.2 1793.5h2v2h-2zM335.3 1699.4h2v2h-2zM350.2 1764.4h2v2h-2zM331.2 1798.9h2v2h-2zM355.2 1692.7h2v2h-2zM319.5 1709.3h2v2h-2zM326.9 1680.5h2v2h-2zM359.3 1717.7h2v2h-2zM363.7 1760.8h2v2h-2zM320.9 1727.4h2v2h-2zM361.3 1712.3h2v2h-2zM369.3 1752.3h2v2h-2zM321.5 1733.1h2v2h-2zM350.1 1752.7h2v2h-2zM310.0 1720.9h2v2h-2zM330.4 1743.3h2v2h-2zM346.0 1768.9h2v2h-2zM355.3 1733.6h2v2h-2zM309.7 1688.2h2v2h-2zM286.7 1688.8h2v2h-2zM301.9 1696.7h2v2h-2zM325.0 1738.3h2v2h-2zM367.8 1735.1h2v2h-2zM355.5 1682.1h2v2h-2zM325.6 1753.8h2v2h-2zM344.8 1717.7h2v2h-2zM355.2 1729.0h2v2h-2zM360.8 1726.1h2v2h-2zM337.8 1765.7h2v2h-2zM319.8 1709.2h2v2h-2zM314.6 1717.3h2v2h-2zM347.8 1772.6h2v2h-2zM363.9 1712.7h2v2h-2zM366.1 1735.8h2v2h-2zM300.7 1722.6h2v2h-2zM340.3 1688.2h2v2h-2zM321.2 1716.5h2v2h-2zM369.8 1686.7h2v2h-2zM331.0 1793.1h2v2h-2zM315.3 1732.5h2v2h-2zM269.3 1689.5h2v2h-2zM239.0 1683.8h2v2h-2zM242.7 1699.2h2v2h-2zM239.6 1692.1h2v2h-2z" fill="#000"/>
</g>
<clipPath id="cC12"><rect x="614.6" y="1170.2" width="329.6" height="328.6"/></clipPath>
<filter id="fC12" filterUnits="userSpaceOnUse" x="614.6" y="1170.2" width="329.6" height="328.6" color-interpolation-filters="sRGB">
<feGaussianBlur in="SourceGraphic" stdDeviation="1.0" result="br"/>
<feGaussianBlur in="SourceGraphic" stdDeviation="4.5" result="bg"/>
<feGaussianBlur in="SourceGraphic" stdDeviation="10.0" result="bb"/>
<feGaussianBlur in="SourceGraphic" stdDeviation="9.0" result="bl"/>
<feColorMatrix in="bg" type="matrix" values="0 1 0 0 0 0 0 0 0 0 0 0 0 0 0 0 0 0 0 1" result="g"/>
<feComponentTransfer in="g" result="tg"><feFuncR type="table" tableValues="0 0.06 0.121 0.181 0.241 0.302 0.362 0.422 0.483 0.543 0.603 0.664 0.724 0.784 0.845 0.905 0.965 0.013 0.043 0.073 0.103 0.133 0.164 0.194 0.224 0.254 0.284 0.314 0.345 0.375 0.405 0.435 0.465 0.495 0.526 0.556 0.586 0.616 0.646 0.676 0.707 0.737 0.767 0.797 0.827 0.857 0.888 0.918 0.948 0.978 0.008 0.038 0.069 0.099 0.129 0.159 0.189 0.219 0.25 0.28 0.31 0.34 0.37 0.4 0.431 0.461 0.491 0.521 0.551 0.581 0.612 0.642 0.672 0.702 0.732 0.762 0.793 0.823 0.853 0.883 0.913 0.943 0.974 0.004 0.034 0.064 0.094 0.124 0.155 0.185 0.215 0.245 0.275 0.305 0.336 0.366 0.396 0.426 0.456 0.486 0.517 0.547 0.577 0.607 0.637 0.667 0.698 0.728 0.758 0.788 0.818 0.848 0.879 0.909 0.939 0.969 0.999 0.029 0.06 0.09 0.12 0.15 0.18 0.21 0.241 0.271 0.301 0.331 0.361 0.391 0.422 0.452 0.482 0.512 0.542 0.572 0.603 0.633 0.663 0.693 0.723 0.753 0.784 0.814 0.844 0.874 0.904 0.934 0.965 0.995 0.025 0.055 0.085 0.115 0.146 0.176 0.206 0.236 0.266 0.296 0.327 0.357 0.387 0.417 0.447 0.477 0.508 0.538 0.568 0.598 0.628 0.658 0.689 0.719 0.749 0.779 0.809 0.839 0.87 0.9 0.93 0.96 0.99 0.02 0.051 0.081 0.111 0.141 0.171 0.201 0.232 0.262 0.292 0.322 0.352 0.382 0.413 0.443 0.473 0.503 0.533 0.563 0.594 0.624 0.654 0.684 0.714 0.744 0.775 0.805 0.835 0.865 0.895 0.925 0.956 0.986 0.016 0.046 0.076 0.106 0.137 0.167 0.197 0.227 0.257 0.287 0.317 0.348 0.378 0.408 0.438 0.468 0.498 0.529 0.559 0.589 0.619 0.649 0.679 0.71 0.74 0.77 0.8 0.83 0.86 0.891 0.921 0.951 0.981 0.011 0.041 0.072 0.102 0.132 0.162 0.192"/></feComponentTransfer>
<feColorMatrix in="bb" type="matrix" values="0 0 8.0 0 0 0 0 0 0 0 0 0 0 0 0 0 0 0 0 1" result="b"/>
<feColorMatrix in="bl" type="matrix" values="0.6000 0 0 0 -0.3000 0 0 0 0 0 0 0 0 0 0 0 0 0 0 1" result="l"/>
<feComposite in="b" in2="l" operator="arithmetic" k2="1" k3="1" result="bl2"/>
<feComponentTransfer in="g" result="ib"><feFuncR type="table" tableValues="1 1 1 1 1 1 1 1 1 1 1 1 1 1 1 1 1 0 0 0 0 0 0 0 0 0 0 0 0 0 0 0 0 0 0 0 0 0 0 0 0 0 0 0 0 0 0 0 0 0 0 0 0 0 0 0 0 0 0 0 0 0 0 0 0 0 0 0 0 0 0 0 0 0 0 0 0 0 0 0 0 0 0 0 0 0 0 0 0 0 0 0 0 0 0 0 0 0 0 0 0 0 0 0 0 0 0 0 0 0 0 0 0 0 0 0 0 0 0 0 0 0 0 0 0 0 0 0 0 0 0 0 0 0 0 0 0 0 0 0 0 0 0 0 0 0 0 0 0 0 0 0 0 0 0 0 0 0 0 0 0 0 0 0 0 0 0 0 0 0 0 0 0 0 0 0 0 0 0 0 0 0 0 0 0 0 0 0 0 0 0 0 0 0 0 0 0 0 0 0 0 0 0 0 0 0 0 0 0 0 0 0 0 0 0 0 0 0 0 0 0 0 0 0 0 0 0 0 0 0 0 0 0 0 0 0 0 0 0 0 0 0 0 0 0 0 0 0 0 0 0 0 0 0 0 0"/></feComponentTransfer>
<feComposite in="bl2" in2="ib" operator="arithmetic" k1="1" result="hb"/>
<feComposite in="tg" in2="hb" operator="arithmetic" k2="1" k3="1" result="t"/>
<feComponentTransfer in="t" result="z1"><feFuncR type="table" tableValues="0.88 0.88 0.88 0.88 0.88 0.88 0.88 0.88 0.88 0.88 0.88 0.88 0.88 0.88 0.88 0.88 0.88 0.88 0.88 0.88 0.88 0.88 0.88 0.88 0.831 0.831 0.831 0.831 0.831 0.831 0.831 0.831 0.831 0.831 0.831 0.831 0.831 0.831 0.831 0.831 0.831 0.831 0.831 0.831 0.831 0.831 0.831 0.77 0.77 0.77 0.77 0.77 0.77 0.77 0.77 0.77 0.77 0.77 0.77 0.77 0.77 0.77 0.77 0.77 0.77 0.77 0.77 0.77 0.77 0.77 0.705 0.705 0.705 0.705 0.705 0.705 0.705 0.705 0.705 0.705 0.705 0.705 0.705 0.705 0.705 0.705 0.705 0.705 0.705 0.705 0.705 0.705 0.705 0.636 0.636 0.636 0.636 0.636 0.636 0.636 0.636 0.636 0.636 0.636 0.636 0.636 0.636 0.636 0.636 0.636 0.636 0.636 0.636 0.636 0.636 0.636 0.565 0.565 0.565 0.565 0.565 0.565 0.565 0.565 0.565 0.565 0.565 0.565 0.565 0.565 0.565 0.565 0.565 0.565 0.565 0.565 0.565 0.565 0.565 0.565 0.492 0.492 0.492 0.492 0.492 0.492 0.492 0.492 0.492 0.492 0.492 0.492 0.492 0.492 0.492 0.492 0.492 0.492 0.492 0.492 0.492 0.492 0.492 0.416 0.416 0.416 0.416 0.416 0.416 0.416 0.416 0.416 0.416 0.416 0.416 0.416 0.416 0.416 0.416 0.416 0.416 0.416 0.416 0.416 0.416 0.416 0.339 0.339 0.339 0.339 0.339 0.339 0.339 0.339 0.339 0.339 0.339 0.339 0.339 0.339 0.339 0.339 0.339 0.339 0.339 0.339 0.339 0.339 0.339 0.261 0.261 0.261 0.261 0.261 0.261 0.261 0.261 0.261 0.261 0.261 0.261 0.261 0.261 0.261 0.261 0.261 0.261 0.261 0.261 0.261 0.261 0.261 0.181 0.181 0.181 0.181 0.181 0.181 0.181 0.181 0.181 0.181 0.181 0.181 0.181 0.181 0.181 0.181 0.181 0.181 0.181 0.181 0.181 0.181 0.181 0.1"/></feComponentTransfer>
<feColorMatrix in="z1" type="matrix" values="1 0 0 0 0 1 0 0 0 0 1 0 0 0 0 0 0 0 0 1" result="z"/>
<feColorMatrix in="br" type="matrix" values="0 0 0 0 0 0 0 0 0 0 0 0 0 0 0 3 0 0 0 -1" result="m"/>
<feComposite in="z" in2="m" operator="in"/>
</filter>
<defs><path id="s89" d="M659 1299.2C663.2 1295.8 673.7 1291.9 681 1288.2C688.3 1284.5 695.7 1280.6 703 1277.2C710.3 1273.8 718.7 1269.8 725 1267.7C731.3 1265.6 735.5 1264.1 740.7 1264.6C746 1265.1 751.2 1270.4 756.5 1270.9C761.8 1271.4 767 1269.5 772.2 1267.7C777.4 1265.9 782.7 1262.2 787.9 1259.9C793.1 1257.6 799.1 1254.1 803.6 1253.6C808.1 1253.1 810.7 1254.6 814.6 1256.7C818.5 1258.8 824.1 1262.8 827.2 1266.2C830.4 1269.6 831.9 1272.8 833.5 1277.2C835.1 1281.7 835.3 1287.7 836.6 1292.9C837.9 1298.1 840 1302 841.3 1308.6C842.6 1315.1 843.7 1324.3 844.5 1332.2C845.3 1340.1 845.8 1347.9 846.1 1355.7C846.4 1363.5 846.9 1372 846.1 1379.3C845.3 1386.6 843.7 1393.8 841.3 1399.8C838.9 1405.8 835.6 1410.8 831.9 1415.5C828.2 1420.2 824 1424.2 819.3 1428.1C814.6 1432 810.1 1436.2 803.6 1439.1C797.1 1442 787.9 1444 780 1445.3C772.1 1446.6 764.4 1446.4 756.5 1446.9C748.6 1447.4 740.8 1447.5 732.9 1448.5C725 1449.5 717.2 1451.6 709.3 1453.2C701.4 1454.8 692.5 1457.4 685.7 1457.9C678.9 1458.4 673.6 1458.1 668.4 1456.3C663.2 1454.5 658 1451.1 654.3 1446.9C650.6 1442.7 647.4 1437.2 646.4 1431.2C645.4 1425.2 647 1418.1 648 1410.8C649 1403.5 651.7 1395.1 652.7 1387.2C653.8 1379.3 654 1371.5 654.3 1363.6C654.6 1355.7 654.6 1346.5 654.3 1340C654 1333.5 652.4 1329.5 652.7 1324.3C653 1319.1 654.9 1312.8 655.9 1308.6C656.9 1304.4 654.8 1302.6 659 1299.2Z"/><ellipse id="s90" cx="644.9" cy="1294.4" rx="9.5" ry="9"/><path id="s91" d="M659 1299.2C663.2 1295.8 673.7 1291.9 681 1288.2C688.3 1284.5 695.7 1280.6 703 1277.2C710.3 1273.8 718.7 1269.8 725 1267.7C731.3 1265.6 735.5 1264.1 740.7 1264.6C746 1265.1 751.2 1270.4 756.5 1270.9C761.8 1271.4 767 1269.5 772.2 1267.7C777.4 1265.9 782.7 1262.2 787.9 1259.9C793.1 1257.6 799.1 1254.1 803.6 1253.6C808.1 1253.1 810.7 1254.6 814.6 1256.7C818.5 1258.8 824.1 1262.8 827.2 1266.2C830.4 1269.6 831.9 1272.8 833.5 1277.2C835.1 1281.7 835.3 1287.7 836.6 1292.9C837.9 1298.1 840 1302 841.3 1308.6C842.6 1315.1 843.7 1324.3 844.5 1332.2C845.3 1340.1 845.8 1347.9 846.1 1355.7C846.4 1363.5 846.9 1372 846.1 1379.3C845.3 1386.6 843.7 1393.8 841.3 1399.8C838.9 1405.8 835.6 1410.8 831.9 1415.5C828.2 1420.2 824 1424.2 819.3 1428.1C814.6 1432 810.1 1436.2 803.6 1439.1C797.1 1442 787.9 1444 780 1445.3C772.1 1446.6 764.4 1446.4 756.5 1446.9C748.6 1447.4 740.8 1447.5 732.9 1448.5C725 1449.5 717.2 1451.6 709.3 1453.2C701.4 1454.8 692.5 1457.4 685.7 1457.9C678.9 1458.4 673.6 1458.1 668.4 1456.3C663.2 1454.5 658 1451.1 654.3 1446.9C650.6 1442.7 647.4 1437.2 646.4 1431.2C645.4 1425.2 647 1418.1 648 1410.8C649 1403.5 651.7 1395.1 652.7 1387.2C653.8 1379.3 654 1371.5 654.3 1363.6C654.6 1355.7 654.6 1346.5 654.3 1340C654 1333.5 652.4 1329.5 652.7 1324.3C653 1319.1 654.9 1312.8 655.9 1308.6C656.9 1304.4 654.8 1302.6 659 1299.2Z"/><path id="s92" d="M673.2 1387.2C679 1381.4 690.2 1370.9 696.7 1368.3C703.2 1365.7 708.3 1372 712.5 1371.5C716.7 1371 719.3 1368.4 721.9 1365.2C724.5 1362 723.8 1358.4 728.2 1352.6C732.7 1346.8 742.3 1336.9 748.6 1330.6C754.9 1324.3 763.3 1319.1 765.9 1314.9C768.5 1310.7 763.2 1307.8 764.3 1305.4C765.3 1303 767 1301 772.2 1300.7C777.5 1300.5 789.8 1301.5 795.8 1303.9C801.8 1306.3 804.6 1309.4 808.3 1314.9C812 1320.4 815.7 1328.8 817.8 1336.9C819.9 1345 821.2 1355.2 820.9 1363.6C820.6 1372 818.6 1380.7 816.2 1387.2C813.9 1393.8 811.5 1398.5 806.8 1402.9C802.1 1407.4 795 1410.2 787.9 1413.9C780.8 1417.6 770.6 1421.5 764.3 1424.9C758 1428.3 756.8 1433.2 750.2 1434.3C743.7 1435.3 731.3 1432 725 1431.2C718.7 1430.4 716.2 1428.3 712.5 1429.6C708.8 1430.9 707.5 1435.4 703 1439.1C698.5 1442.8 691.7 1449.8 685.7 1451.6C679.7 1453.4 671.9 1452.1 666.9 1450C661.9 1447.9 658 1444.3 655.9 1439.1C653.8 1433.9 653.2 1424.6 654.3 1418.6C655.3 1412.6 659.1 1408.1 662.2 1402.9C665.4 1397.7 667.5 1393 673.2 1387.2Z"/><path id="s93" d="M745.5 1355.7C747.3 1349.2 750.8 1344.5 756.5 1340C762.2 1335.5 770.8 1330.6 780 1329C789.2 1327.4 806.2 1326.1 811.5 1330.6C816.8 1335 812 1347.6 811.5 1355.7C811 1363.8 810.1 1372.8 808.3 1379.3C806.5 1385.8 805.2 1391.3 800.5 1395C795.8 1398.7 786.8 1397.9 780 1401.3C773.2 1404.7 764.3 1415.2 759.6 1415.5C754.9 1415.8 754.1 1408.9 751.7 1402.9C749.4 1396.9 746.5 1387.2 745.5 1379.3C744.5 1371.4 743.7 1362.2 745.5 1355.7Z"/><path id="s94" d="M772.2 1343.2C775.9 1340.6 788.2 1339.2 792.6 1340C797 1340.8 798.1 1342.7 798.9 1347.9C799.7 1353.2 799.6 1366.3 797.3 1371.5C794.9 1376.7 789 1377 784.8 1379.3C780.6 1381.6 776.9 1386.4 772.2 1385.6C767.5 1384.8 759.6 1378 756.5 1374.6C753.4 1371.2 752 1367.3 753.3 1365.2C754.6 1363.1 761.4 1363.6 764.3 1362C767.2 1360.4 769.3 1358.8 770.6 1355.7C771.9 1352.6 768.5 1345.8 772.2 1343.2Z"/><ellipse id="s95" cx="734.5" cy="1390" rx="11" ry="9" transform="rotate(-30 734.5 1390)"/><ellipse id="s96" cx="680" cy="1429" rx="22" ry="21"/><ellipse id="s97" cx="679" cy="1430" rx="16" ry="15"/><ellipse id="s98" cx="677" cy="1432" rx="8" ry="8"/><path id="s99" d="M690 1383C691.3 1381.7 694.8 1382 696 1384C697.2 1386 697.7 1392.7 697 1395C696.3 1397.3 693.5 1398.5 692 1398C690.5 1397.5 688.3 1394.5 688 1392C687.7 1389.5 688.7 1384.3 690 1383Z"/><ellipse id="s100" cx="700" cy="1320" rx="30" ry="30"/><ellipse id="s101" cx="745" cy="1395" rx="15" ry="15"/><ellipse id="s102" cx="760" cy="1330" rx="30" ry="20"/><path id="s103" d="M651 1300C652.2 1296.2 655.8 1300.2 659 1299.2C662.2 1298.2 669.5 1292.9 670 1294C670.5 1295.1 664.2 1301.7 662 1306C659.8 1310.3 658.7 1317.3 657 1320C655.3 1322.7 653 1325.3 652 1322C651 1318.7 649.8 1303.8 651 1300Z"/><path id="s104" d="M814.6 1256.7C816.6 1256.7 824.1 1262.8 827.2 1266.2C830.4 1269.6 831.9 1272.8 833.5 1277.2C835.1 1281.7 837.2 1290.8 836.6 1292.9C836 1295 832.3 1292.8 830 1290C827.7 1287.2 825.5 1280 823 1276C820.5 1272 816.4 1269.2 815 1266C813.6 1262.8 812.6 1256.7 814.6 1256.7Z"/><ellipse id="s105" cx="644.9" cy="1294.4" rx="3" ry="3"/></defs>
<g clip-path="url(#cC12)">
<use href="#s89" fill="#000"/>
<use href="#s90" fill="#000"/>
<g filter="url(#fC12)">
<rect x="574.6" y="1130.2" width="409.6" height="408.6" fill="#000"/>
<use href="#s91" fill="#f00" style="mix-blend-mode:lighten"/>
<use href="#s92" fill="rgb(0,33,0)" style="mix-blend-mode:lighten"/>
<use href="#s93" fill="rgb(0,66,0)" style="mix-blend-mode:lighten"/>
<use href="#s94" fill="rgb(0,99,0)" style="mix-blend-mode:lighten"/>
<use href="#s95" fill="rgb(0,66,0)" style="mix-blend-mode:lighten"/>
<use href="#s96" fill="rgb(0,66,0)" style="mix-blend-mode:lighten"/>
<use href="#s97" fill="rgb(0,99,0)" style="mix-blend-mode:lighten"/>
<use href="#s98" fill="rgb(0,113,0)" style="mix-blend-mode:lighten"/>
<use href="#s99" fill="rgb(0,66,0)" style="mix-blend-mode:lighten"/>
<use href="#s100" fill="rgb(0,0,8)" style="mix-blend-mode:lighten"/>
<use href="#s101" fill="rgb(0,0,13)" style="mix-blend-mode:lighten"/>
<use href="#s102" fill="rgb(0,0,10)" style="mix-blend-mode:lighten"/>
</g>
<use href="#s92" fill="none" stroke="#fff" stroke-width="1.3"/>
<use href="#s93" fill="none" stroke="#fff" stroke-width="1.3"/>
<use href="#s94" fill="none" stroke="#fff" stroke-width="1.3"/>
<use href="#s95" fill="none" stroke="#fff" stroke-width="1.3"/>
<use href="#s96" fill="none" stroke="#fff" stroke-width="1.3"/>
<use href="#s97" fill="none" stroke="#fff" stroke-width="1.3"/>
<use href="#s99" fill="none" stroke="#fff" stroke-width="1.3"/>
<use href="#s89" fill="none" stroke="#000" stroke-width="4.0" stroke-linejoin="round"/>
<use href="#s90" fill="none" stroke="#000" stroke-width="4.0" stroke-linejoin="round"/>
<use href="#s103" fill="#000"/>
<use href="#s104" fill="#000"/>
<use href="#s105" fill="#fff"/>
<path d="M839.7 1286.3h2v2h-2zM712.3 1269.2h2v2h-2zM655.0 1263.7h2v2h-2zM773.5 1262.8h2v2h-2zM837.2 1264.4h2v2h-2zM832.8 1266.5h2v2h-2zM722.2 1231.7h2v2h-2zM845.3 1266.2h2v2h-2zM782.3 1258.2h2v2h-2zM759.6 1266.5h2v2h-2zM694.6 1271.4h2v2h-2zM819.1 1234.8h2v2h-2zM792.6 1249.5h2v2h-2zM841.0 1282.3h2v2h-2zM692.2 1268.5h2v2h-2zM714.7 1261.2h2v2h-2zM654.6 1298.4h2v2h-2zM805.1 1250.8h2v2h-2zM835.2 1254.9h2v2h-2zM820.9 1249.4h2v2h-2zM687.5 1252.8h2v2h-2zM807.8 1250.8h2v2h-2zM839.7 1292.2h2v2h-2zM649.5 1269.9h2v2h-2zM792.5 1247.0h2v2h-2zM687.8 1278.9h2v2h-2zM826.2 1262.0h2v2h-2zM840.0 1292.7h2v2h-2zM777.6 1244.3h2v2h-2zM679.6 1280.6h2v2h-2zM841.2 1262.8h2v2h-2zM849.1 1355.5h2v2h-2zM845.0 1282.1h2v2h-2zM853.7 1372.5h2v2h-2zM842.5 1407.3h2v2h-2zM857.0 1351.0h2v2h-2zM841.9 1286.9h2v2h-2zM840.3 1286.7h2v2h-2zM863.7 1383.9h2v2h-2zM848.4 1302.2h2v2h-2zM855.1 1375.6h2v2h-2zM842.8 1284.8h2v2h-2z" fill="#000"/>
</g>
<clipPath id="cC13"><rect x="964.6" y="1170.2" width="329.6" height="328.6"/></clipPath>
<filter id="fC13" filterUnits="userSpaceOnUse" x="964.6" y="1170.2" width="329.6" height="328.6" color-interpolation-filters="sRGB">
<feGaussianBlur in="SourceGraphic" stdDeviation="1.0" result="br"/>
<feGaussianBlur in="SourceGraphic" stdDeviation="4.5" result="bg"/>
<feGaussianBlur in="SourceGraphic" stdDeviation="10.0" result="bb"/>
<feGaussianBlur in="SourceGraphic" stdDeviation="9.0" result="bl"/>
<feColorMatrix in="bg" type="matrix" values="0 1 0 0 0 0 0 0 0 0 0 0 0 0 0 0 0 0 0 1" result="g"/>
<feComponentTransfer in="g" result="tg"><feFuncR type="table" tableValues="0 0.06 0.121 0.181 0.241 0.302 0.362 0.422 0.483 0.543 0.603 0.664 0.724 0.784 0.845 0.905 0.965 0.013 0.043 0.073 0.103 0.133 0.164 0.194 0.224 0.254 0.284 0.314 0.345 0.375 0.405 0.435 0.465 0.495 0.526 0.556 0.586 0.616 0.646 0.676 0.707 0.737 0.767 0.797 0.827 0.857 0.888 0.918 0.948 0.978 0.008 0.038 0.069 0.099 0.129 0.159 0.189 0.219 0.25 0.28 0.31 0.34 0.37 0.4 0.431 0.461 0.491 0.521 0.551 0.581 0.612 0.642 0.672 0.702 0.732 0.762 0.793 0.823 0.853 0.883 0.913 0.943 0.974 0.004 0.034 0.064 0.094 0.124 0.155 0.185 0.215 0.245 0.275 0.305 0.336 0.366 0.396 0.426 0.456 0.486 0.517 0.547 0.577 0.607 0.637 0.667 0.698 0.728 0.758 0.788 0.818 0.848 0.879 0.909 0.939 0.969 0.999 0.029 0.06 0.09 0.12 0.15 0.18 0.21 0.241 0.271 0.301 0.331 0.361 0.391 0.422 0.452 0.482 0.512 0.542 0.572 0.603 0.633 0.663 0.693 0.723 0.753 0.784 0.814 0.844 0.874 0.904 0.934 0.965 0.995 0.025 0.055 0.085 0.115 0.146 0.176 0.206 0.236 0.266 0.296 0.327 0.357 0.387 0.417 0.447 0.477 0.508 0.538 0.568 0.598 0.628 0.658 0.689 0.719 0.749 0.779 0.809 0.839 0.87 0.9 0.93 0.96 0.99 0.02 0.051 0.081 0.111 0.141 0.171 0.201 0.232 0.262 0.292 0.322 0.352 0.382 0.413 0.443 0.473 0.503 0.533 0.563 0.594 0.624 0.654 0.684 0.714 0.744 0.775 0.805 0.835 0.865 0.895 0.925 0.956 0.986 0.016 0.046 0.076 0.106 0.137 0.167 0.197 0.227 0.257 0.287 0.317 0.348 0.378 0.408 0.438 0.468 0.498 0.529 0.559 0.589 0.619 0.649 0.679 0.71 0.74 0.77 0.8 0.83 0.86 0.891 0.921 0.951 0.981 0.011 0.041 0.072 0.102 0.132 0.162 0.192"/></feComponentTransfer>
<feColorMatrix in="bb" type="matrix" values="0 0 8.0 0 0 0 0 0 0 0 0 0 0 0 0 0 0 0 0 1" result="b"/>
<feColorMatrix in="bl" type="matrix" values="0.6000 0 0 0 -0.3000 0 0 0 0 0 0 0 0 0 0 0 0 0 0 1" result="l"/>
<feComposite in="b" in2="l" operator="arithmetic" k2="1" k3="1" result="bl2"/>
<feComponentTransfer in="g" result="ib"><feFuncR type="table" tableValues="1 1 1 1 1 1 1 1 1 1 1 1 1 1 1 1 1 0 0 0 0 0 0 0 0 0 0 0 0 0 0 0 0 0 0 0 0 0 0 0 0 0 0 0 0 0 0 0 0 0 0 0 0 0 0 0 0 0 0 0 0 0 0 0 0 0 0 0 0 0 0 0 0 0 0 0 0 0 0 0 0 0 0 0 0 0 0 0 0 0 0 0 0 0 0 0 0 0 0 0 0 0 0 0 0 0 0 0 0 0 0 0 0 0 0 0 0 0 0 0 0 0 0 0 0 0 0 0 0 0 0 0 0 0 0 0 0 0 0 0 0 0 0 0 0 0 0 0 0 0 0 0 0 0 0 0 0 0 0 0 0 0 0 0 0 0 0 0 0 0 0 0 0 0 0 0 0 0 0 0 0 0 0 0 0 0 0 0 0 0 0 0 0 0 0 0 0 0 0 0 0 0 0 0 0 0 0 0 0 0 0 0 0 0 0 0 0 0 0 0 0 0 0 0 0 0 0 0 0 0 0 0 0 0 0 0 0 0 0 0 0 0 0 0 0 0 0 0 0 0 0 0 0 0 0 0"/></feComponentTransfer>
<feComposite in="bl2" in2="ib" operator="arithmetic" k1="1" result="hb"/>
<feComposite in="tg" in2="hb" operator="arithmetic" k2="1" k3="1" result="t"/>
<feComponentTransfer in="t" result="z1"><feFuncR type="table" tableValues="0.88 0.88 0.88 0.88 0.88 0.88 0.88 0.88 0.88 0.88 0.88 0.88 0.88 0.88 0.88 0.88 0.88 0.88 0.88 0.88 0.88 0.88 0.88 0.88 0.831 0.831 0.831 0.831 0.831 0.831 0.831 0.831 0.831 0.831 0.831 0.831 0.831 0.831 0.831 0.831 0.831 0.831 0.831 0.831 0.831 0.831 0.831 0.77 0.77 0.77 0.77 0.77 0.77 0.77 0.77 0.77 0.77 0.77 0.77 0.77 0.77 0.77 0.77 0.77 0.77 0.77 0.77 0.77 0.77 0.77 0.705 0.705 0.705 0.705 0.705 0.705 0.705 0.705 0.705 0.705 0.705 0.705 0.705 0.705 0.705 0.705 0.705 0.705 0.705 0.705 0.705 0.705 0.705 0.636 0.636 0.636 0.636 0.636 0.636 0.636 0.636 0.636 0.636 0.636 0.636 0.636 0.636 0.636 0.636 0.636 0.636 0.636 0.636 0.636 0.636 0.636 0.565 0.565 0.565 0.565 0.565 0.565 0.565 0.565 0.565 0.565 0.565 0.565 0.565 0.565 0.565 0.565 0.565 0.565 0.565 0.565 0.565 0.565 0.565 0.565 0.492 0.492 0.492 0.492 0.492 0.492 0.492 0.492 0.492 0.492 0.492 0.492 0.492 0.492 0.492 0.492 0.492 0.492 0.492 0.492 0.492 0.492 0.492 0.416 0.416 0.416 0.416 0.416 0.416 0.416 0.416 0.416 0.416 0.416 0.416 0.416 0.416 0.416 0.416 0.416 0.416 0.416 0.416 0.416 0.416 0.416 0.339 0.339 0.339 0.339 0.339 0.339 0.339 0.339 0.339 0.339 0.339 0.339 0.339 0.339 0.339 0.339 0.339 0.339 0.339 0.339 0.339 0.339 0.339 0.261 0.261 0.261 0.261 0.261 0.261 0.261 0.261 0.261 0.261 0.261 0.261 0.261 0.261 0.261 0.261 0.261 0.261 0.261 0.261 0.261 0.261 0.261 0.181 0.181 0.181 0.181 0.181 0.181 0.181 0.181 0.181 0.181 0.181 0.181 0.181 0.181 0.181 0.181 0.181 0.181 0.181 0.181 0.181 0.181 0.181 0.1"/></feComponentTransfer>
<feColorMatrix in="z1" type="matrix" values="1 0 0 0 0 1 0 0 0 0 1 0 0 0 0 0 0 0 0 1" result="z"/>
<feColorMatrix in="br" type="matrix" values="0 0 0 0 0 0 0 0 0 0 0 0 0 0 0 3 0 0 0 -1" result="m"/>
<feComposite in="z" in2="m" operator="in"/>
</filter>
<defs><path id="s106" d="M1003.1 1341.3C1004.6 1338.5 1006.2 1334.5 1009.4 1332.4C1012.6 1330.3 1016.8 1328.8 1022.1 1328.6C1027.4 1328.4 1035.9 1331.9 1041.2 1331.1C1046.5 1330.2 1049.7 1326 1053.9 1323.5C1058.1 1321 1062.4 1317.8 1066.6 1315.9C1070.8 1314 1075.1 1312.7 1079.3 1312.1C1083.5 1311.5 1087.8 1311.9 1092 1312.1C1096.2 1312.3 1100.9 1312.7 1104.7 1313.3C1108.5 1313.9 1112 1314.2 1114.8 1315.9C1117.5 1317.6 1118.9 1322 1121.2 1323.5C1123.5 1325 1126.7 1325.4 1128.8 1324.8C1130.9 1324.2 1134.4 1322.8 1133.9 1319.7C1133.4 1316.6 1127.9 1309.6 1126 1306C1124.1 1302.4 1122.7 1300.9 1122.4 1298.1C1122.1 1295.3 1122.7 1290.9 1124 1289C1125.3 1287.1 1127.4 1286.5 1130.1 1286.7C1132.8 1287 1136.8 1288.2 1140.2 1290.5C1143.6 1292.8 1148.1 1296.8 1150.4 1300.6C1152.7 1304.4 1152.9 1308.2 1154.2 1313.3C1155.5 1318.4 1156.5 1326.9 1158 1331.1C1159.5 1335.3 1162 1335.7 1163.1 1338.7C1164.1 1341.7 1164.9 1345.3 1164.3 1348.9C1163.7 1352.5 1160.8 1357.5 1159.3 1360.3C1157.8 1363 1154.5 1363.5 1155.5 1365.4C1156.5 1367.3 1163.5 1369.2 1165.6 1371.7C1167.7 1374.2 1168.4 1377 1168.2 1380.6C1168 1384.2 1166.8 1389.7 1164.3 1393.3C1161.8 1396.9 1156.1 1399 1152.9 1402.2C1149.7 1405.4 1147 1409.4 1145.3 1412.4C1143.6 1415.4 1143.6 1418.1 1142.8 1420C1142 1421.9 1141.7 1421.3 1140.2 1423.8C1138.7 1426.3 1136 1432.7 1133.9 1435.2C1131.8 1437.7 1129.8 1438.6 1127.5 1439C1125.2 1439.4 1121.8 1439.1 1119.9 1437.8C1118 1436.5 1117.6 1431.6 1116.1 1431.4C1114.6 1431.2 1114 1434.6 1111 1436.5C1108 1438.4 1102.5 1441.5 1098.3 1442.8C1094.1 1444.1 1090.9 1443.5 1085.6 1444.1C1080.3 1444.7 1071.9 1444.9 1066.6 1446.6C1061.3 1448.3 1058.1 1451.8 1053.9 1454.3C1049.7 1456.8 1046.5 1460.6 1041.2 1461.9C1035.9 1463.2 1028 1462.8 1022.1 1461.9C1016.2 1461.1 1010 1459.5 1005.6 1456.8C1001.2 1454 997.7 1449.6 995.5 1445.4C993.3 1441.2 992.5 1436.9 992.3 1431.4C992.1 1425.9 993 1417.7 994.2 1412.4C995.4 1407.1 998 1405 999.3 1399.7C1000.6 1394.4 1001.4 1386.9 1001.8 1380.6C1002.2 1374.2 1002 1366.9 1001.8 1361.6C1001.6 1356.3 1000.4 1352.3 1000.6 1348.9C1000.8 1345.5 1001.6 1344 1003.1 1341.3Z"/><ellipse id="s107" cx="1015.8" cy="1317.1" rx="6" ry="8" transform="rotate(-20 1015.8 1317.1)"/><path id="s108" d="M1003.1 1341.3C1004.6 1338.5 1006.2 1334.5 1009.4 1332.4C1012.6 1330.3 1016.8 1328.8 1022.1 1328.6C1027.4 1328.4 1035.9 1331.9 1041.2 1331.1C1046.5 1330.2 1049.7 1326 1053.9 1323.5C1058.1 1321 1062.4 1317.8 1066.6 1315.9C1070.8 1314 1075.1 1312.7 1079.3 1312.1C1083.5 1311.5 1087.8 1311.9 1092 1312.1C1096.2 1312.3 1100.9 1312.7 1104.7 1313.3C1108.5 1313.9 1112 1314.2 1114.8 1315.9C1117.5 1317.6 1118.9 1322 1121.2 1323.5C1123.5 1325 1126.7 1325.4 1128.8 1324.8C1130.9 1324.2 1134.4 1322.8 1133.9 1319.7C1133.4 1316.6 1127.9 1309.6 1126 1306C1124.1 1302.4 1122.7 1300.9 1122.4 1298.1C1122.1 1295.3 1122.7 1290.9 1124 1289C1125.3 1287.1 1127.4 1286.5 1130.1 1286.7C1132.8 1287 1136.8 1288.2 1140.2 1290.5C1143.6 1292.8 1148.1 1296.8 1150.4 1300.6C1152.7 1304.4 1152.9 1308.2 1154.2 1313.3C1155.5 1318.4 1156.5 1326.9 1158 1331.1C1159.5 1335.3 1162 1335.7 1163.1 1338.7C1164.1 1341.7 1164.9 1345.3 1164.3 1348.9C1163.7 1352.5 1160.8 1357.5 1159.3 1360.3C1157.8 1363 1154.5 1363.5 1155.5 1365.4C1156.5 1367.3 1163.5 1369.2 1165.6 1371.7C1167.7 1374.2 1168.4 1377 1168.2 1380.6C1168 1384.2 1166.8 1389.7 1164.3 1393.3C1161.8 1396.9 1156.1 1399 1152.9 1402.2C1149.7 1405.4 1147 1409.4 1145.3 1412.4C1143.6 1415.4 1143.6 1418.1 1142.8 1420C1142 1421.9 1141.7 1421.3 1140.2 1423.8C1138.7 1426.3 1136 1432.7 1133.9 1435.2C1131.8 1437.7 1129.8 1438.6 1127.5 1439C1125.2 1439.4 1121.8 1439.1 1119.9 1437.8C1118 1436.5 1117.6 1431.6 1116.1 1431.4C1114.6 1431.2 1114 1434.6 1111 1436.5C1108 1438.4 1102.5 1441.5 1098.3 1442.8C1094.1 1444.1 1090.9 1443.5 1085.6 1444.1C1080.3 1444.7 1071.9 1444.9 1066.6 1446.6C1061.3 1448.3 1058.1 1451.8 1053.9 1454.3C1049.7 1456.8 1046.5 1460.6 1041.2 1461.9C1035.9 1463.2 1028 1462.8 1022.1 1461.9C1016.2 1461.1 1010 1459.5 1005.6 1456.8C1001.2 1454 997.7 1449.6 995.5 1445.4C993.3 1441.2 992.5 1436.9 992.3 1431.4C992.1 1425.9 993 1417.7 994.2 1412.4C995.4 1407.1 998 1405 999.3 1399.7C1000.6 1394.4 1001.4 1386.9 1001.8 1380.6C1002.2 1374.2 1002 1366.9 1001.8 1361.6C1001.6 1356.3 1000.4 1352.3 1000.6 1348.9C1000.8 1345.5 1001.6 1344 1003.1 1341.3Z"/><path id="s109" d="M1025.9 1393.3C1029.7 1394.4 1035.7 1399.5 1041.2 1403.5C1046.7 1407.5 1056 1413.2 1059 1417.4C1062 1421.6 1059.8 1425.1 1059 1428.9C1058.2 1432.7 1056.9 1437.1 1053.9 1440.3C1050.9 1443.5 1045.9 1446.6 1041.2 1447.9C1036.5 1449.2 1031 1448.8 1025.9 1447.9C1020.8 1447.1 1014.7 1445.5 1010.7 1442.8C1006.7 1440 1003.5 1435.4 1001.8 1431.4C1000.1 1427.4 999.5 1422.7 1000.6 1418.7C1001.7 1414.7 1005.2 1410.9 1008.2 1407.3C1011.2 1403.7 1015.3 1399.4 1018.3 1397.1C1021.2 1394.8 1022.1 1392.2 1025.9 1393.3Z"/><ellipse id="s110" cx="1024" cy="1433" rx="17" ry="12.5"/><ellipse id="s111" cx="1024.5" cy="1434" rx="11" ry="8"/><ellipse id="s112" cx="1024.7" cy="1434" rx="6.5" ry="4.8"/><ellipse id="s113" cx="1024.7" cy="1434" rx="4.5" ry="3.5"/><ellipse id="s114" cx="1045" cy="1405" rx="35" ry="30" transform="rotate(-30 1045 1405)"/><ellipse id="s115" cx="1066" cy="1400" rx="25" ry="30"/><ellipse id="s116" cx="1090" cy="1370" rx="40" ry="30"/><path id="s117" d="M1096 1334C1097.3 1332.5 1099.3 1331.3 1101 1333C1102.7 1334.7 1104.2 1341.2 1106 1344C1107.8 1346.8 1109.2 1348.8 1112 1349.5C1114.8 1350.2 1119.8 1349.4 1123 1348.5C1126.2 1347.6 1128.8 1344.4 1131 1344C1133.2 1343.6 1135.3 1344.3 1136 1346C1136.7 1347.7 1136.7 1351.3 1135 1354C1133.3 1356.7 1130 1360.5 1126 1362C1122 1363.5 1115.3 1364.2 1111 1363C1106.7 1361.8 1103 1358.5 1100 1355C1097 1351.5 1093.7 1345.5 1093 1342C1092.3 1338.5 1094.7 1335.5 1096 1334Z"/><path id="s118" d="M1121 1300C1120.8 1296.3 1121.8 1290.6 1123.5 1288C1125.2 1285.4 1128.1 1284.3 1131 1284.5C1133.9 1284.7 1137.7 1286.4 1141 1289C1144.3 1291.6 1148.7 1296 1151 1300C1153.3 1304 1154.8 1309.3 1155 1313C1155.2 1316.7 1154.3 1320 1152 1322C1149.7 1324 1144.3 1325.5 1141 1325C1137.7 1324.5 1134.7 1321.5 1132 1319C1129.3 1316.5 1126.8 1313.2 1125 1310C1123.2 1306.8 1121.2 1303.7 1121 1300Z"/><ellipse id="s119" cx="1136.5" cy="1299.5" rx="9" ry="6.5" transform="rotate(50 1136.5 1299.5)"/></defs>
<g clip-path="url(#cC13)">
<use href="#s106" fill="#000"/>
<use href="#s107" fill="#000"/>
<g filter="url(#fC13)">
<rect x="924.6" y="1130.2" width="409.6" height="408.6" fill="#000"/>
<use href="#s108" fill="#f00" style="mix-blend-mode:lighten"/>
<use href="#s109" fill="rgb(0,33,0)" style="mix-blend-mode:lighten"/>
<use href="#s110" fill="rgb(0,66,0)" style="mix-blend-mode:lighten"/>
<use href="#s111" fill="rgb(0,99,0)" style="mix-blend-mode:lighten"/>
<use href="#s112" fill="rgb(0,133,0)" style="mix-blend-mode:lighten"/>
<use href="#s113" fill="rgb(0,147,0)" style="mix-blend-mode:lighten"/>
<use href="#s114" fill="rgb(0,0,15)" style="mix-blend-mode:lighten"/>
<use href="#s115" fill="rgb(0,0,10)" style="mix-blend-mode:lighten"/>
<use href="#s116" fill="rgb(0,0,5)" style="mix-blend-mode:lighten"/>
</g>
<use href="#s109" fill="none" stroke="#fff" stroke-width="1.3"/>
<use href="#s110" fill="none" stroke="#fff" stroke-width="1.3"/>
<use href="#s111" fill="none" stroke="#fff" stroke-width="1.3"/>
<use href="#s112" fill="none" stroke="#fff" stroke-width="1.3"/>
<use href="#s106" fill="none" stroke="#000" stroke-width="4.2" stroke-linejoin="round"/>
<use href="#s107" fill="none" stroke="#000" stroke-width="4.2" stroke-linejoin="round"/>
<use href="#s117" fill="#000"/>
<use href="#s118" fill="#000"/>
<use href="#s119" fill="#d8d8d8"/>
<path d="M1114.7 1289.0h2v2h-2zM1065.8 1275.6h2v2h-2zM1122.8 1284.8h2v2h-2zM1166.8 1327.7h2v2h-2zM1062.5 1313.4h2v2h-2zM1032.1 1287.1h2v2h-2zM1077.8 1309.9h2v2h-2zM1007.2 1308.5h2v2h-2zM1011.7 1319.5h2v2h-2zM1115.7 1304.6h2v2h-2zM1059.0 1281.7h2v2h-2zM1084.8 1305.1h2v2h-2zM1115.1 1298.1h2v2h-2zM1126.6 1284.8h2v2h-2zM1129.5 1318.9h2v2h-2zM1128.1 1311.9h2v2h-2zM1122.4 1308.9h2v2h-2zM1113.6 1310.7h2v2h-2zM1042.1 1293.0h2v2h-2zM1109.6 1300.7h2v2h-2zM1014.7 1315.7h2v2h-2zM1125.0 1277.1h2v2h-2zM1158.2 1301.2h2v2h-2zM1008.8 1315.9h2v2h-2zM1012.1 1302.2h2v2h-2zM1155.9 1303.9h2v2h-2zM1094.1 1295.4h2v2h-2zM1112.1 1289.5h2v2h-2zM1164.0 1300.7h2v2h-2zM1125.2 1310.4h2v2h-2zM1104.6 1298.7h2v2h-2zM1115.2 1302.3h2v2h-2zM1108.2 1291.9h2v2h-2zM999.2 1329.1h2v2h-2zM1015.3 1308.9h2v2h-2zM1045.2 1321.4h2v2h-2zM1168.5 1328.3h2v2h-2zM1055.2 1303.8h2v2h-2zM1064.4 1296.1h2v2h-2zM1161.8 1329.7h2v2h-2zM1177.4 1349.7h2v2h-2zM1163.8 1358.4h2v2h-2zM1161.8 1366.1h2v2h-2zM1171.5 1370.8h2v2h-2zM1170.0 1318.8h2v2h-2zM1169.5 1406.1h2v2h-2zM1157.2 1305.8h2v2h-2zM1159.0 1306.8h2v2h-2zM1167.2 1398.1h2v2h-2zM1165.5 1359.3h2v2h-2zM1167.7 1338.8h2v2h-2zM1170.3 1343.7h2v2h-2z" fill="#000"/>
</g>
<clipPath id="cC14"><rect x="1314.4" y="1170.2" width="329.6" height="328.6"/></clipPath>
<filter id="fC14" filterUnits="userSpaceOnUse" x="1314.4" y="1170.2" width="329.6" height="328.6" color-interpolation-filters="sRGB">
<feGaussianBlur in="SourceGraphic" stdDeviation="1.0" result="br"/>
<feGaussianBlur in="SourceGraphic" stdDeviation="2.2" result="bg"/>
<feGaussianBlur in="SourceGraphic" stdDeviation="10.0" result="bb"/>
<feGaussianBlur in="SourceGraphic" stdDeviation="9.0" result="bl"/>
<feColorMatrix in="bg" type="matrix" values="0 1 0 0 0 0 0 0 0 0 0 0 0 0 0 0 0 0 0 1" result="g"/>
<feComponentTransfer in="g" result="tg"><feFuncR type="table" tableValues="0 0.06 0.121 0.181 0.241 0.302 0.362 0.422 0.483 0.543 0.603 0.664 0.724 0.784 0.845 0.905 0.965 0.013 0.043 0.073 0.103 0.133 0.164 0.194 0.224 0.254 0.284 0.314 0.345 0.375 0.405 0.435 0.465 0.495 0.526 0.556 0.586 0.616 0.646 0.676 0.707 0.737 0.767 0.797 0.827 0.857 0.888 0.918 0.948 0.978 0.008 0.038 0.069 0.099 0.129 0.159 0.189 0.219 0.25 0.28 0.31 0.34 0.37 0.4 0.431 0.461 0.491 0.521 0.551 0.581 0.612 0.642 0.672 0.702 0.732 0.762 0.793 0.823 0.853 0.883 0.913 0.943 0.974 0.004 0.034 0.064 0.094 0.124 0.155 0.185 0.215 0.245 0.275 0.305 0.336 0.366 0.396 0.426 0.456 0.486 0.517 0.547 0.577 0.607 0.637 0.667 0.698 0.728 0.758 0.788 0.818 0.848 0.879 0.909 0.939 0.969 0.999 0.029 0.06 0.09 0.12 0.15 0.18 0.21 0.241 0.271 0.301 0.331 0.361 0.391 0.422 0.452 0.482 0.512 0.542 0.572 0.603 0.633 0.663 0.693 0.723 0.753 0.784 0.814 0.844 0.874 0.904 0.934 0.965 0.995 0.025 0.055 0.085 0.115 0.146 0.176 0.206 0.236 0.266 0.296 0.327 0.357 0.387 0.417 0.447 0.477 0.508 0.538 0.568 0.598 0.628 0.658 0.689 0.719 0.749 0.779 0.809 0.839 0.87 0.9 0.93 0.96 0.99 0.02 0.051 0.081 0.111 0.141 0.171 0.201 0.232 0.262 0.292 0.322 0.352 0.382 0.413 0.443 0.473 0.503 0.533 0.563 0.594 0.624 0.654 0.684 0.714 0.744 0.775 0.805 0.835 0.865 0.895 0.925 0.956 0.986 0.016 0.046 0.076 0.106 0.137 0.167 0.197 0.227 0.257 0.287 0.317 0.348 0.378 0.408 0.438 0.468 0.498 0.529 0.559 0.589 0.619 0.649 0.679 0.71 0.74 0.77 0.8 0.83 0.86 0.891 0.921 0.951 0.981 0.011 0.041 0.072 0.102 0.132 0.162 0.192"/></feComponentTransfer>
<feColorMatrix in="bb" type="matrix" values="0 0 8.0 0 0 0 0 0 0 0 0 0 0 0 0 0 0 0 0 1" result="b"/>
<feColorMatrix in="bl" type="matrix" values="0.6000 0 0 0 -0.3000 0 0 0 0 0 0 0 0 0 0 0 0 0 0 1" result="l"/>
<feComposite in="b" in2="l" operator="arithmetic" k2="1" k3="1" result="bl2"/>
<feComponentTransfer in="g" result="ib"><feFuncR type="table" tableValues="1 1 1 1 1 1 1 1 1 1 1 1 1 1 1 1 1 0 0 0 0 0 0 0 0 0 0 0 0 0 0 0 0 0 0 0 0 0 0 0 0 0 0 0 0 0 0 0 0 0 0 0 0 0 0 0 0 0 0 0 0 0 0 0 0 0 0 0 0 0 0 0 0 0 0 0 0 0 0 0 0 0 0 0 0 0 0 0 0 0 0 0 0 0 0 0 0 0 0 0 0 0 0 0 0 0 0 0 0 0 0 0 0 0 0 0 0 0 0 0 0 0 0 0 0 0 0 0 0 0 0 0 0 0 0 0 0 0 0 0 0 0 0 0 0 0 0 0 0 0 0 0 0 0 0 0 0 0 0 0 0 0 0 0 0 0 0 0 0 0 0 0 0 0 0 0 0 0 0 0 0 0 0 0 0 0 0 0 0 0 0 0 0 0 0 0 0 0 0 0 0 0 0 0 0 0 0 0 0 0 0 0 0 0 0 0 0 0 0 0 0 0 0 0 0 0 0 0 0 0 0 0 0 0 0 0 0 0 0 0 0 0 0 0 0 0 0 0 0 0 0 0 0 0 0 0"/></feComponentTransfer>
<feComposite in="bl2" in2="ib" operator="arithmetic" k1="1" result="hb"/>
<feComposite in="tg" in2="hb" operator="arithmetic" k2="1" k3="1" result="t"/>
<feComponentTransfer in="t" result="z1"><feFuncR type="table" tableValues="0.88 0.88 0.88 0.88 0.88 0.88 0.88 0.88 0.88 0.88 0.88 0.88 0.88 0.88 0.88 0.88 0.88 0.88 0.88 0.88 0.88 0.88 0.88 0.88 0.831 0.831 0.831 0.831 0.831 0.831 0.831 0.831 0.831 0.831 0.831 0.831 0.831 0.831 0.831 0.831 0.831 0.831 0.831 0.831 0.831 0.831 0.831 0.77 0.77 0.77 0.77 0.77 0.77 0.77 0.77 0.77 0.77 0.77 0.77 0.77 0.77 0.77 0.77 0.77 0.77 0.77 0.77 0.77 0.77 0.77 0.705 0.705 0.705 0.705 0.705 0.705 0.705 0.705 0.705 0.705 0.705 0.705 0.705 0.705 0.705 0.705 0.705 0.705 0.705 0.705 0.705 0.705 0.705 0.636 0.636 0.636 0.636 0.636 0.636 0.636 0.636 0.636 0.636 0.636 0.636 0.636 0.636 0.636 0.636 0.636 0.636 0.636 0.636 0.636 0.636 0.636 0.565 0.565 0.565 0.565 0.565 0.565 0.565 0.565 0.565 0.565 0.565 0.565 0.565 0.565 0.565 0.565 0.565 0.565 0.565 0.565 0.565 0.565 0.565 0.565 0.492 0.492 0.492 0.492 0.492 0.492 0.492 0.492 0.492 0.492 0.492 0.492 0.492 0.492 0.492 0.492 0.492 0.492 0.492 0.492 0.492 0.492 0.492 0.416 0.416 0.416 0.416 0.416 0.416 0.416 0.416 0.416 0.416 0.416 0.416 0.416 0.416 0.416 0.416 0.416 0.416 0.416 0.416 0.416 0.416 0.416 0.339 0.339 0.339 0.339 0.339 0.339 0.339 0.339 0.339 0.339 0.339 0.339 0.339 0.339 0.339 0.339 0.339 0.339 0.339 0.339 0.339 0.339 0.339 0.261 0.261 0.261 0.261 0.261 0.261 0.261 0.261 0.261 0.261 0.261 0.261 0.261 0.261 0.261 0.261 0.261 0.261 0.261 0.261 0.261 0.261 0.261 0.181 0.181 0.181 0.181 0.181 0.181 0.181 0.181 0.181 0.181 0.181 0.181 0.181 0.181 0.181 0.181 0.181 0.181 0.181 0.181 0.181 0.181 0.181 0.1"/></feComponentTransfer>
<feColorMatrix in="z1" type="matrix" values="1 0 0 0 0 1 0 0 0 0 1 0 0 0 0 0 0 0 0 1" result="z"/>
<feColorMatrix in="br" type="matrix" values="0 0 0 0 0 0 0 0 0 0 0 0 0 0 0 3 0 0 0 -1" result="m"/>
<feComposite in="z" in2="m" operator="in"/>
</filter>
<defs><path id="s120" d="M1372.2 1379.3C1375.8 1377.2 1379.4 1379.3 1382.9 1380.3C1386.5 1381.3 1389.8 1384.8 1393.5 1385.1C1397.2 1385.4 1400.4 1382.3 1405.1 1382.2C1409.8 1382.1 1418 1382.9 1421.5 1384.2C1425 1385.5 1425.1 1386.1 1426.4 1390C1427.7 1393.9 1427.7 1402.6 1429.3 1407.4C1430.9 1412.2 1431.8 1416.8 1436.1 1419C1440.4 1421.2 1451.4 1419.6 1455.4 1420.9C1459.4 1422.2 1459.9 1424.1 1460.2 1426.7C1460.5 1429.3 1459.7 1434.1 1457.3 1436.4C1454.9 1438.7 1449.6 1440.1 1445.7 1440.3C1441.8 1440.5 1438.1 1437.2 1434.1 1437.4C1430.1 1437.6 1425.2 1439.3 1421.5 1441.2C1417.8 1443.1 1415.1 1446.2 1411.9 1449C1408.7 1451.8 1406.2 1455.1 1402.2 1457.7C1398.2 1460.3 1392.5 1463.1 1387.7 1464.4C1382.9 1465.7 1377.7 1465.7 1373.2 1465.4C1368.7 1465.1 1364.6 1464.1 1360.6 1462.5C1356.6 1460.9 1351.9 1458.8 1349 1455.7C1346.1 1452.6 1344.5 1448.9 1343.2 1444.1C1341.9 1439.3 1340.8 1431.2 1341.3 1426.7C1341.8 1422.2 1344 1420.2 1346.1 1417C1348.2 1413.8 1351.2 1411.4 1353.8 1407.4C1356.4 1403.4 1358.5 1397.6 1361.6 1392.9C1364.7 1388.2 1368.7 1381.4 1372.2 1379.3Z"/><path id="s121" d="M1374.2 1389C1377.7 1388 1382.6 1389 1385.8 1390.9C1389 1392.8 1390.5 1398 1393.5 1400.6C1396.5 1403.2 1400.5 1405.1 1404.1 1406.4C1407.6 1407.7 1412.2 1406.5 1414.8 1408.3C1417.4 1410.1 1418.8 1413.1 1419.6 1417C1420.4 1420.9 1420.7 1427.5 1419.6 1431.5C1418.5 1435.5 1415.7 1437.8 1412.8 1441.2C1409.9 1444.6 1406.4 1448.8 1402.2 1452C1398 1455.2 1392.5 1458.9 1387.7 1460.5C1382.9 1462.1 1377.7 1461.8 1373.2 1461.5C1368.7 1461.2 1364.3 1460.5 1360.6 1459C1356.9 1457.5 1353.5 1455.5 1351 1452.7C1348.5 1449.9 1346.8 1446.3 1345.7 1442.1C1344.6 1437.9 1344 1431.5 1344.6 1427.7C1345.1 1423.9 1347 1422 1349 1419C1351 1416 1354.2 1413.1 1356.8 1409.4C1359.4 1405.7 1361.7 1400.3 1364.6 1396.9C1367.5 1393.5 1370.7 1390 1374.2 1389Z"/><ellipse id="s122" cx="1374.6" cy="1435" rx="17" ry="15"/><ellipse id="s123" cx="1374.6" cy="1435" rx="12" ry="10"/><ellipse id="s124" cx="1374.6" cy="1435" rx="7.3" ry="6"/><ellipse id="s125" cx="1374.6" cy="1435" rx="5" ry="4"/><ellipse id="s126" cx="1376" cy="1432" rx="26" ry="24"/><ellipse id="s127" cx="1424.4" cy="1368.7" rx="2.5" ry="2.5"/></defs>
<g clip-path="url(#cC14)">
<use href="#s120" fill="#000"/>
<g filter="url(#fC14)">
<rect x="1274.4" y="1130.2" width="409.6" height="408.6" fill="#000"/>
<use href="#s121" fill="#f00" style="mix-blend-mode:lighten"/>
<use href="#s122" fill="rgb(0,33,0)" style="mix-blend-mode:lighten"/>
<use href="#s123" fill="rgb(0,66,0)" style="mix-blend-mode:lighten"/>
<use href="#s124" fill="rgb(0,99,0)" style="mix-blend-mode:lighten"/>
<use href="#s125" fill="rgb(0,113,0)" style="mix-blend-mode:lighten"/>
<use href="#s126" fill="rgb(0,0,14)" style="mix-blend-mode:lighten"/>
</g>
<use href="#s122" fill="none" stroke="#fff" stroke-width="1.3"/>
<use href="#s123" fill="none" stroke="#fff" stroke-width="1.3"/>
<use href="#s124" fill="none" stroke="#fff" stroke-width="1.3"/>
<use href="#s120" fill="none" stroke="#000" stroke-width="2.4" stroke-linejoin="round"/>
<use href="#s127" fill="#000"/>
<path d="M1452.0 1355.9h2v2h-2zM1411.8 1341.1h2v2h-2zM1390.9 1373.2h2v2h-2zM1426.4 1367.8h2v2h-2zM1437.0 1374.7h2v2h-2zM1443.6 1335.7h2v2h-2zM1467.1 1351.0h2v2h-2zM1407.8 1346.2h2v2h-2zM1473.9 1348.8h2v2h-2zM1477.0 1379.8h2v2h-2zM1397.9 1331.4h2v2h-2zM1393.1 1364.3h2v2h-2zM1387.1 1350.4h2v2h-2zM1455.0 1330.9h2v2h-2zM1416.4 1344.1h2v2h-2zM1386.6 1350.3h2v2h-2zM1415.5 1356.8h2v2h-2zM1430.6 1363.3h2v2h-2zM1464.9 1342.5h2v2h-2zM1418.1 1352.7h2v2h-2zM1379.2 1378.5h2v2h-2zM1409.5 1362.3h2v2h-2zM1382.9 1336.8h2v2h-2zM1457.8 1379.0h2v2h-2zM1459.4 1375.2h2v2h-2zM1436.7 1388.2h2v2h-2zM1435.1 1392.1h2v2h-2zM1445.6 1409.8h2v2h-2zM1461.8 1426.7h2v2h-2zM1475.8 1383.9h2v2h-2zM1460.7 1430.6h2v2h-2zM1462.5 1401.5h2v2h-2zM1442.7 1388.1h2v2h-2zM1437.0 1397.1h2v2h-2zM1469.0 1431.8h2v2h-2zM1437.1 1395.3h2v2h-2zM1473.5 1384.9h2v2h-2zM1467.8 1420.4h2v2h-2zM1482.3 1427.6h2v2h-2zM1458.5 1408.6h2v2h-2zM1484.3 1396.1h2v2h-2zM1468.1 1381.0h2v2h-2zM1439.1 1387.6h2v2h-2zM1483.2 1421.3h2v2h-2zM1477.5 1427.7h2v2h-2zM1469.0 1383.3h2v2h-2zM1483.6 1394.9h2v2h-2z" fill="#000"/>
</g>
<clipPath id="cC22"><rect x="614.6" y="1521.3" width="329.6" height="328.6"/></clipPath>
<filter id="fC22" filterUnits="userSpaceOnUse" x="614.6" y="1521.3" width="329.6" height="328.6" color-interpolation-filters="sRGB">
<feGaussianBlur in="SourceGraphic" stdDeviation="1.0" result="br"/>
<feGaussianBlur in="SourceGraphic" stdDeviation="4.5" result="bg"/>
<feGaussianBlur in="SourceGraphic" stdDeviation="10.0" result="bb"/>
<feGaussianBlur in="SourceGraphic" stdDeviation="9.0" result="bl"/>
<feColorMatrix in="bg" type="matrix" values="0 1 0 0 0 0 0 0 0 0 0 0 0 0 0 0 0 0 0 1" result="g"/>
<feComponentTransfer in="g" result="tg"><feFuncR type="table" tableValues="0 0.06 0.121 0.181 0.241 0.302 0.362 0.422 0.483 0.543 0.603 0.664 0.724 0.784 0.845 0.905 0.965 0.013 0.043 0.073 0.103 0.133 0.164 0.194 0.224 0.254 0.284 0.314 0.345 0.375 0.405 0.435 0.465 0.495 0.526 0.556 0.586 0.616 0.646 0.676 0.707 0.737 0.767 0.797 0.827 0.857 0.888 0.918 0.948 0.978 0.008 0.038 0.069 0.099 0.129 0.159 0.189 0.219 0.25 0.28 0.31 0.34 0.37 0.4 0.431 0.461 0.491 0.521 0.551 0.581 0.612 0.642 0.672 0.702 0.732 0.762 0.793 0.823 0.853 0.883 0.913 0.943 0.974 0.004 0.034 0.064 0.094 0.124 0.155 0.185 0.215 0.245 0.275 0.305 0.336 0.366 0.396 0.426 0.456 0.486 0.517 0.547 0.577 0.607 0.637 0.667 0.698 0.728 0.758 0.788 0.818 0.848 0.879 0.909 0.939 0.969 0.999 0.029 0.06 0.09 0.12 0.15 0.18 0.21 0.241 0.271 0.301 0.331 0.361 0.391 0.422 0.452 0.482 0.512 0.542 0.572 0.603 0.633 0.663 0.693 0.723 0.753 0.784 0.814 0.844 0.874 0.904 0.934 0.965 0.995 0.025 0.055 0.085 0.115 0.146 0.176 0.206 0.236 0.266 0.296 0.327 0.357 0.387 0.417 0.447 0.477 0.508 0.538 0.568 0.598 0.628 0.658 0.689 0.719 0.749 0.779 0.809 0.839 0.87 0.9 0.93 0.96 0.99 0.02 0.051 0.081 0.111 0.141 0.171 0.201 0.232 0.262 0.292 0.322 0.352 0.382 0.413 0.443 0.473 0.503 0.533 0.563 0.594 0.624 0.654 0.684 0.714 0.744 0.775 0.805 0.835 0.865 0.895 0.925 0.956 0.986 0.016 0.046 0.076 0.106 0.137 0.167 0.197 0.227 0.257 0.287 0.317 0.348 0.378 0.408 0.438 0.468 0.498 0.529 0.559 0.589 0.619 0.649 0.679 0.71 0.74 0.77 0.8 0.83 0.86 0.891 0.921 0.951 0.981 0.011 0.041 0.072 0.102 0.132 0.162 0.192"/></feComponentTransfer>
<feColorMatrix in="bb" type="matrix" values="0 0 8.0 0 0 0 0 0 0 0 0 0 0 0 0 0 0 0 0 1" result="b"/>
<feColorMatrix in="bl" type="matrix" values="0.6000 0 0 0 -0.3000 0 0 0 0 0 0 0 0 0 0 0 0 0 0 1" result="l"/>
<feComposite in="b" in2="l" operator="arithmetic" k2="1" k3="1" result="bl2"/>
<feComponentTransfer in="g" result="ib"><feFuncR type="table" tableValues="1 1 1 1 1 1 1 1 1 1 1 1 1 1 1 1 1 0 0 0 0 0 0 0 0 0 0 0 0 0 0 0 0 0 0 0 0 0 0 0 0 0 0 0 0 0 0 0 0 0 0 0 0 0 0 0 0 0 0 0 0 0 0 0 0 0 0 0 0 0 0 0 0 0 0 0 0 0 0 0 0 0 0 0 0 0 0 0 0 0 0 0 0 0 0 0 0 0 0 0 0 0 0 0 0 0 0 0 0 0 0 0 0 0 0 0 0 0 0 0 0 0 0 0 0 0 0 0 0 0 0 0 0 0 0 0 0 0 0 0 0 0 0 0 0 0 0 0 0 0 0 0 0 0 0 0 0 0 0 0 0 0 0 0 0 0 0 0 0 0 0 0 0 0 0 0 0 0 0 0 0 0 0 0 0 0 0 0 0 0 0 0 0 0 0 0 0 0 0 0 0 0 0 0 0 0 0 0 0 0 0 0 0 0 0 0 0 0 0 0 0 0 0 0 0 0 0 0 0 0 0 0 0 0 0 0 0 0 0 0 0 0 0 0 0 0 0 0 0 0 0 0 0 0 0 0"/></feComponentTransfer>
<feComposite in="bl2" in2="ib" operator="arithmetic" k1="1" result="hb"/>
<feComposite in="tg" in2="hb" operator="arithmetic" k2="1" k3="1" result="t"/>
<feComponentTransfer in="t" result="z1"><feFuncR type="table" tableValues="0.88 0.88 0.88 0.88 0.88 0.88 0.88 0.88 0.88 0.88 0.88 0.88 0.88 0.88 0.88 0.88 0.88 0.88 0.88 0.88 0.88 0.88 0.88 0.88 0.831 0.831 0.831 0.831 0.831 0.831 0.831 0.831 0.831 0.831 0.831 0.831 0.831 0.831 0.831 0.831 0.831 0.831 0.831 0.831 0.831 0.831 0.831 0.77 0.77 0.77 0.77 0.77 0.77 0.77 0.77 0.77 0.77 0.77 0.77 0.77 0.77 0.77 0.77 0.77 0.77 0.77 0.77 0.77 0.77 0.77 0.705 0.705 0.705 0.705 0.705 0.705 0.705 0.705 0.705 0.705 0.705 0.705 0.705 0.705 0.705 0.705 0.705 0.705 0.705 0.705 0.705 0.705 0.705 0.636 0.636 0.636 0.636 0.636 0.636 0.636 0.636 0.636 0.636 0.636 0.636 0.636 0.636 0.636 0.636 0.636 0.636 0.636 0.636 0.636 0.636 0.636 0.565 0.565 0.565 0.565 0.565 0.565 0.565 0.565 0.565 0.565 0.565 0.565 0.565 0.565 0.565 0.565 0.565 0.565 0.565 0.565 0.565 0.565 0.565 0.565 0.492 0.492 0.492 0.492 0.492 0.492 0.492 0.492 0.492 0.492 0.492 0.492 0.492 0.492 0.492 0.492 0.492 0.492 0.492 0.492 0.492 0.492 0.492 0.416 0.416 0.416 0.416 0.416 0.416 0.416 0.416 0.416 0.416 0.416 0.416 0.416 0.416 0.416 0.416 0.416 0.416 0.416 0.416 0.416 0.416 0.416 0.339 0.339 0.339 0.339 0.339 0.339 0.339 0.339 0.339 0.339 0.339 0.339 0.339 0.339 0.339 0.339 0.339 0.339 0.339 0.339 0.339 0.339 0.339 0.261 0.261 0.261 0.261 0.261 0.261 0.261 0.261 0.261 0.261 0.261 0.261 0.261 0.261 0.261 0.261 0.261 0.261 0.261 0.261 0.261 0.261 0.261 0.181 0.181 0.181 0.181 0.181 0.181 0.181 0.181 0.181 0.181 0.181 0.181 0.181 0.181 0.181 0.181 0.181 0.181 0.181 0.181 0.181 0.181 0.181 0.1"/></feComponentTransfer>
<feColorMatrix in="z1" type="matrix" values="1 0 0 0 0 1 0 0 0 0 1 0 0 0 0 0 0 0 0 1" result="z"/>
<feColorMatrix in="br" type="matrix" values="0 0 0 0 0 0 0 0 0 0 0 0 0 0 0 3 0 0 0 -1" result="m"/>
<feComposite in="z" in2="m" operator="in"/>
</filter>
<defs><path id="s128" d="M666.9 1641.9C670 1637.1 674.5 1636.4 677.9 1636.4C681.3 1636.4 684.7 1638.9 687.3 1641.9C689.9 1644.9 689.4 1653.1 693.6 1654.4C697.8 1655.7 708.8 1653.1 712.5 1649.7C716.2 1646.3 713.5 1638.2 715.6 1634C717.7 1629.8 720 1627.8 725 1624.6C730 1621.4 739 1617.2 745.5 1615.1C752 1613 758.8 1614.6 764.3 1612C769.8 1609.4 772 1601.5 778.5 1599.4C785 1597.3 795.5 1599.4 803.6 1599.4C811.7 1599.4 822 1597.8 827.2 1599.4C832.5 1601 831.2 1606.3 835.1 1608.9C839 1611.5 846.1 1611.7 850.8 1615.1C855.5 1618.5 860.8 1624.3 863.4 1629.3C866 1634.3 866.5 1638.5 866.5 1645C866.5 1651.5 863.9 1661.5 863.4 1668.6C862.9 1675.7 864.4 1680.2 863.4 1687.5C862.4 1694.8 859.7 1704.5 857.1 1712.6C854.5 1720.7 850.8 1729.7 847.6 1736.2C844.5 1742.8 841.1 1746.7 838.2 1751.9C835.3 1757.1 833.4 1763.1 830.3 1767.6C827.1 1772 823.8 1775.7 819.3 1778.6C814.8 1781.5 810.1 1782.5 803.6 1784.9C797.1 1787.3 787.9 1791.2 780 1792.8C772.1 1794.4 765.7 1793.5 756.5 1794.3C747.3 1795.1 735 1795.9 725 1797.5C715 1799.1 704.6 1802 696.7 1803.8C688.9 1805.6 683.6 1808.5 677.9 1808.5C672.1 1808.5 666.4 1807.2 662.2 1803.8C658 1800.4 654.5 1793.6 652.7 1788.1C650.9 1782.6 650.7 1777.6 651.2 1770.8C651.7 1764 654.3 1755.1 655.9 1747.2C657.5 1739.3 659 1729.9 660.6 1723.6C662.2 1717.3 665.8 1714 665.3 1709.5C664.8 1705 659.4 1701.4 657.4 1696.9C655.4 1692.4 653.2 1688 653.5 1682.7C653.8 1677.5 656.8 1672.2 659 1665.4C661.2 1658.6 663.8 1646.7 666.9 1641.9Z"/><path id="s129" d="M781.6 1627.7C787.9 1624.8 794.7 1628.8 803.6 1629.3C812.5 1629.8 830.1 1628.8 835.1 1630.9C840.1 1633 832.5 1638.2 833.5 1641.9C834.5 1645.6 840 1645.8 841.3 1652.9C842.6 1660 842.3 1673.8 841.3 1684.3C840.3 1694.8 838.2 1706.5 835.1 1715.7C832 1724.9 826.7 1732.8 822.5 1739.3C818.3 1745.8 815.7 1750.5 809.9 1755C804.1 1759.5 795.5 1764.4 787.9 1766C780.3 1767.6 770.6 1765 764.3 1764.5C758 1764 754.4 1764.5 750.2 1762.9C746 1761.3 742.6 1758.7 739.2 1755C735.8 1751.3 733.6 1746.4 729.7 1740.9C725.8 1735.4 717.7 1727.2 715.6 1722C713.5 1716.8 715.6 1712.1 717.2 1709.5C718.8 1706.9 723.2 1705.5 725 1706.3C726.8 1707.1 725.8 1715.2 728.2 1714.2C730.6 1713.2 736.3 1706 739.2 1700C742.1 1694 742.6 1684 745.5 1678C748.4 1672 753.1 1669.1 756.5 1663.9C759.9 1658.7 761.7 1652.6 765.9 1646.6C770.1 1640.6 775.3 1630.6 781.6 1627.7Z"/><path id="s130" d="M780 1645C785.5 1641.3 795 1639.2 803.6 1640.3C812.2 1641.3 826.9 1644 831.9 1651.3C836.9 1658.6 834.8 1673.6 833.5 1684.3C832.2 1695 827.8 1707.8 824.1 1715.7C820.4 1723.6 816.2 1726.5 811.5 1731.5C806.8 1736.5 802.3 1744.6 795.8 1745.6C789.2 1746.6 779.8 1739.5 772.2 1737.7C764.6 1735.9 754.1 1736.9 750.2 1734.6C746.3 1732.2 746.8 1726.8 748.6 1723.6C750.4 1720.4 760.7 1718 761.2 1715.7C761.7 1713.4 753.5 1712.4 751.7 1709.5C749.9 1706.6 748.4 1703.2 750.2 1698.5C752.1 1693.8 759.4 1687.2 762.8 1681.2C766.2 1675.2 767.7 1668.3 770.6 1662.3C773.5 1656.3 774.5 1648.7 780 1645Z"/><path id="s131" d="M803.6 1657.6C807.5 1656.6 816.1 1654.2 819.3 1659.2C822.4 1664.2 823 1678.6 822.5 1687.5C822 1696.4 819.9 1705.3 816.2 1712.6C812.5 1719.9 805.7 1728.9 800.5 1731.5C795.3 1734.1 788.5 1731.2 784.8 1728.3C781.1 1725.4 780.9 1718.9 778.5 1714.2C776.1 1709.5 770.1 1702.9 770.6 1700C771.1 1697.1 778.7 1700.6 781.6 1696.9C784.5 1693.2 785.5 1683.2 787.9 1678C790.3 1672.8 793.2 1668.8 795.8 1665.4C798.4 1662 799.7 1658.6 803.6 1657.6Z"/><ellipse id="s132" cx="681" cy="1779" rx="24" ry="23" transform="rotate(-30 681 1779)"/><ellipse id="s133" cx="680" cy="1781" rx="19" ry="18" transform="rotate(-30 680 1781)"/><ellipse id="s134" cx="679" cy="1782" rx="14" ry="13" transform="rotate(-30 679 1782)"/><ellipse id="s135" cx="678.5" cy="1782.5" rx="8" ry="8"/><path id="s136" d="M690 1725C691.3 1723 695.3 1723.5 697 1726C698.7 1728.5 700.5 1736.7 700 1740C699.5 1743.3 695.8 1746.3 694 1746C692.2 1745.7 689.7 1741.5 689 1738C688.3 1734.5 688.7 1727 690 1725Z"/><ellipse id="s137" cx="742" cy="1672" rx="18" ry="28"/><ellipse id="s138" cx="720" cy="1760" rx="18" ry="15"/><ellipse id="s139" cx="705" cy="1700" rx="25" ry="20"/><path id="s140" d="M673.2 1670.2C675.6 1668 687.4 1668.9 690.4 1670.5C693.4 1672.1 692.1 1677.2 691 1680C689.9 1682.8 686.5 1686.8 684 1687.5C681.5 1688.2 677.8 1686.9 676 1684C674.2 1681.1 670.8 1672.5 673.2 1670.2Z"/><path id="s141" d="M778.5 1599.4C780.8 1598.5 790.8 1598.3 792 1599.4C793.2 1600.5 788.3 1605.1 786 1606C783.7 1606.9 779.2 1606.1 778 1605C776.8 1603.9 776.2 1600.3 778.5 1599.4Z"/><path id="s142" d="M857.1 1712.6C856.5 1716.6 850.8 1729.7 847.6 1736.2C844.5 1742.8 840.5 1749.6 838.2 1751.9C835.9 1754.2 833.4 1753 834 1750C834.6 1747 839.2 1740.3 842 1734C844.8 1727.7 848.5 1715.6 851 1712C853.5 1708.4 857.7 1708.6 857.1 1712.6Z"/><ellipse id="s143" cx="677.5" cy="1656" rx="5" ry="7"/><ellipse id="s144" cx="664.5" cy="1684" rx="5" ry="7"/></defs>
<g clip-path="url(#cC22)">
<use href="#s128" fill="#000"/>
<g filter="url(#fC22)">
<rect x="574.6" y="1481.3" width="409.6" height="408.6" fill="#000"/>
<use href="#s128" fill="#f00" style="mix-blend-mode:lighten"/>
<use href="#s129" fill="rgb(0,33,0)" style="mix-blend-mode:lighten"/>
<use href="#s130" fill="rgb(0,66,0)" style="mix-blend-mode:lighten"/>
<use href="#s131" fill="rgb(0,99,0)" style="mix-blend-mode:lighten"/>
<use href="#s132" fill="rgb(0,33,0)" style="mix-blend-mode:lighten"/>
<use href="#s133" fill="rgb(0,66,0)" style="mix-blend-mode:lighten"/>
<use href="#s134" fill="rgb(0,99,0)" style="mix-blend-mode:lighten"/>
<use href="#s135" fill="rgb(0,113,0)" style="mix-blend-mode:lighten"/>
<use href="#s136" fill="rgb(0,33,0)" style="mix-blend-mode:lighten"/>
<use href="#s137" fill="rgb(0,0,13)" style="mix-blend-mode:lighten"/>
<use href="#s138" fill="rgb(0,0,10)" style="mix-blend-mode:lighten"/>
<use href="#s139" fill="rgb(0,0,5)" style="mix-blend-mode:lighten"/>
</g>
<use href="#s129" fill="none" stroke="#fff" stroke-width="1.3"/>
<use href="#s130" fill="none" stroke="#fff" stroke-width="1.3"/>
<use href="#s131" fill="none" stroke="#fff" stroke-width="1.3"/>
<use href="#s132" fill="none" stroke="#fff" stroke-width="1.3"/>
<use href="#s133" fill="none" stroke="#fff" stroke-width="1.3"/>
<use href="#s134" fill="none" stroke="#fff" stroke-width="1.3"/>
<use href="#s136" fill="none" stroke="#fff" stroke-width="1.3"/>
<use href="#s128" fill="none" stroke="#000" stroke-width="4.0" stroke-linejoin="round"/>
<use href="#s140" fill="#000"/>
<use href="#s141" fill="#000"/>
<use href="#s142" fill="#000"/>
<use href="#s143" fill="#d9d9d9"/>
<use href="#s144" fill="#d9d9d9"/>
<path d="M712.7 1615.8h2v2h-2zM745.3 1603.3h2v2h-2zM704.5 1621.7h2v2h-2zM706.7 1640.4h2v2h-2zM671.6 1633.5h2v2h-2zM690.9 1631.2h2v2h-2zM728.9 1609.5h2v2h-2zM657.4 1619.0h2v2h-2zM655.2 1651.7h2v2h-2zM767.2 1598.1h2v2h-2zM695.5 1643.9h2v2h-2zM695.6 1646.3h2v2h-2zM661.4 1646.7h2v2h-2zM698.1 1647.4h2v2h-2zM764.9 1602.4h2v2h-2zM691.8 1619.5h2v2h-2zM656.4 1644.0h2v2h-2zM690.4 1631.2h2v2h-2zM751.2 1610.3h2v2h-2zM666.3 1638.3h2v2h-2zM683.0 1634.5h2v2h-2zM668.1 1633.8h2v2h-2zM786.9 1591.7h2v2h-2zM691.3 1631.8h2v2h-2zM695.8 1652.6h2v2h-2zM687.1 1622.7h2v2h-2zM700.8 1637.5h2v2h-2zM774.9 1596.3h2v2h-2zM661.9 1646.4h2v2h-2zM721.0 1607.2h2v2h-2zM710.6 1617.8h2v2h-2zM712.1 1637.4h2v2h-2zM664.9 1612.8h2v2h-2zM659.5 1646.1h2v2h-2zM701.1 1636.7h2v2h-2zM680.3 1632.4h2v2h-2zM714.4 1616.8h2v2h-2zM710.4 1622.0h2v2h-2zM697.0 1627.0h2v2h-2zM665.6 1627.0h2v2h-2zM874.5 1609.3h2v2h-2zM863.9 1729.4h2v2h-2zM867.1 1725.0h2v2h-2zM862.9 1700.4h2v2h-2zM866.8 1676.8h2v2h-2zM869.0 1696.6h2v2h-2zM878.9 1668.8h2v2h-2zM862.7 1609.2h2v2h-2zM868.4 1661.2h2v2h-2zM869.6 1640.9h2v2h-2z" fill="#000"/>
</g>
<clipPath id="cC23"><rect x="964.6" y="1521.3" width="329.6" height="328.6"/></clipPath>
<filter id="fC23" filterUnits="userSpaceOnUse" x="964.6" y="1521.3" width="329.6" height="328.6" color-interpolation-filters="sRGB">
<feGaussianBlur in="SourceGraphic" stdDeviation="1.0" result="br"/>
<feGaussianBlur in="SourceGraphic" stdDeviation="2.2" result="bg"/>
<feGaussianBlur in="SourceGraphic" stdDeviation="10.0" result="bb"/>
<feGaussianBlur in="SourceGraphic" stdDeviation="9.0" result="bl"/>
<feColorMatrix in="bg" type="matrix" values="0 1 0 0 0 0 0 0 0 0 0 0 0 0 0 0 0 0 0 1" result="g"/>
<feComponentTransfer in="g" result="tg"><feFuncR type="table" tableValues="0 0.06 0.121 0.181 0.241 0.302 0.362 0.422 0.483 0.543 0.603 0.664 0.724 0.784 0.845 0.905 0.965 0.013 0.043 0.073 0.103 0.133 0.164 0.194 0.224 0.254 0.284 0.314 0.345 0.375 0.405 0.435 0.465 0.495 0.526 0.556 0.586 0.616 0.646 0.676 0.707 0.737 0.767 0.797 0.827 0.857 0.888 0.918 0.948 0.978 0.008 0.038 0.069 0.099 0.129 0.159 0.189 0.219 0.25 0.28 0.31 0.34 0.37 0.4 0.431 0.461 0.491 0.521 0.551 0.581 0.612 0.642 0.672 0.702 0.732 0.762 0.793 0.823 0.853 0.883 0.913 0.943 0.974 0.004 0.034 0.064 0.094 0.124 0.155 0.185 0.215 0.245 0.275 0.305 0.336 0.366 0.396 0.426 0.456 0.486 0.517 0.547 0.577 0.607 0.637 0.667 0.698 0.728 0.758 0.788 0.818 0.848 0.879 0.909 0.939 0.969 0.999 0.029 0.06 0.09 0.12 0.15 0.18 0.21 0.241 0.271 0.301 0.331 0.361 0.391 0.422 0.452 0.482 0.512 0.542 0.572 0.603 0.633 0.663 0.693 0.723 0.753 0.784 0.814 0.844 0.874 0.904 0.934 0.965 0.995 0.025 0.055 0.085 0.115 0.146 0.176 0.206 0.236 0.266 0.296 0.327 0.357 0.387 0.417 0.447 0.477 0.508 0.538 0.568 0.598 0.628 0.658 0.689 0.719 0.749 0.779 0.809 0.839 0.87 0.9 0.93 0.96 0.99 0.02 0.051 0.081 0.111 0.141 0.171 0.201 0.232 0.262 0.292 0.322 0.352 0.382 0.413 0.443 0.473 0.503 0.533 0.563 0.594 0.624 0.654 0.684 0.714 0.744 0.775 0.805 0.835 0.865 0.895 0.925 0.956 0.986 0.016 0.046 0.076 0.106 0.137 0.167 0.197 0.227 0.257 0.287 0.317 0.348 0.378 0.408 0.438 0.468 0.498 0.529 0.559 0.589 0.619 0.649 0.679 0.71 0.74 0.77 0.8 0.83 0.86 0.891 0.921 0.951 0.981 0.011 0.041 0.072 0.102 0.132 0.162 0.192"/></feComponentTransfer>
<feColorMatrix in="bb" type="matrix" values="0 0 8.0 0 0 0 0 0 0 0 0 0 0 0 0 0 0 0 0 1" result="b"/>
<feColorMatrix in="bl" type="matrix" values="0.6000 0 0 0 -0.3000 0 0 0 0 0 0 0 0 0 0 0 0 0 0 1" result="l"/>
<feComposite in="b" in2="l" operator="arithmetic" k2="1" k3="1" result="bl2"/>
<feComponentTransfer in="g" result="ib"><feFuncR type="table" tableValues="1 1 1 1 1 1 1 1 1 1 1 1 1 1 1 1 1 0 0 0 0 0 0 0 0 0 0 0 0 0 0 0 0 0 0 0 0 0 0 0 0 0 0 0 0 0 0 0 0 0 0 0 0 0 0 0 0 0 0 0 0 0 0 0 0 0 0 0 0 0 0 0 0 0 0 0 0 0 0 0 0 0 0 0 0 0 0 0 0 0 0 0 0 0 0 0 0 0 0 0 0 0 0 0 0 0 0 0 0 0 0 0 0 0 0 0 0 0 0 0 0 0 0 0 0 0 0 0 0 0 0 0 0 0 0 0 0 0 0 0 0 0 0 0 0 0 0 0 0 0 0 0 0 0 0 0 0 0 0 0 0 0 0 0 0 0 0 0 0 0 0 0 0 0 0 0 0 0 0 0 0 0 0 0 0 0 0 0 0 0 0 0 0 0 0 0 0 0 0 0 0 0 0 0 0 0 0 0 0 0 0 0 0 0 0 0 0 0 0 0 0 0 0 0 0 0 0 0 0 0 0 0 0 0 0 0 0 0 0 0 0 0 0 0 0 0 0 0 0 0 0 0 0 0 0 0"/></feComponentTransfer>
<feComposite in="bl2" in2="ib" operator="arithmetic" k1="1" result="hb"/>
<feComposite in="tg" in2="hb" operator="arithmetic" k2="1" k3="1" result="t"/>
<feComponentTransfer in="t" result="z1"><feFuncR type="table" tableValues="0.88 0.88 0.88 0.88 0.88 0.88 0.88 0.88 0.88 0.88 0.88 0.88 0.88 0.88 0.88 0.88 0.88 0.88 0.88 0.88 0.88 0.88 0.88 0.88 0.831 0.831 0.831 0.831 0.831 0.831 0.831 0.831 0.831 0.831 0.831 0.831 0.831 0.831 0.831 0.831 0.831 0.831 0.831 0.831 0.831 0.831 0.831 0.77 0.77 0.77 0.77 0.77 0.77 0.77 0.77 0.77 0.77 0.77 0.77 0.77 0.77 0.77 0.77 0.77 0.77 0.77 0.77 0.77 0.77 0.77 0.705 0.705 0.705 0.705 0.705 0.705 0.705 0.705 0.705 0.705 0.705 0.705 0.705 0.705 0.705 0.705 0.705 0.705 0.705 0.705 0.705 0.705 0.705 0.636 0.636 0.636 0.636 0.636 0.636 0.636 0.636 0.636 0.636 0.636 0.636 0.636 0.636 0.636 0.636 0.636 0.636 0.636 0.636 0.636 0.636 0.636 0.565 0.565 0.565 0.565 0.565 0.565 0.565 0.565 0.565 0.565 0.565 0.565 0.565 0.565 0.565 0.565 0.565 0.565 0.565 0.565 0.565 0.565 0.565 0.565 0.492 0.492 0.492 0.492 0.492 0.492 0.492 0.492 0.492 0.492 0.492 0.492 0.492 0.492 0.492 0.492 0.492 0.492 0.492 0.492 0.492 0.492 0.492 0.416 0.416 0.416 0.416 0.416 0.416 0.416 0.416 0.416 0.416 0.416 0.416 0.416 0.416 0.416 0.416 0.416 0.416 0.416 0.416 0.416 0.416 0.416 0.339 0.339 0.339 0.339 0.339 0.339 0.339 0.339 0.339 0.339 0.339 0.339 0.339 0.339 0.339 0.339 0.339 0.339 0.339 0.339 0.339 0.339 0.339 0.261 0.261 0.261 0.261 0.261 0.261 0.261 0.261 0.261 0.261 0.261 0.261 0.261 0.261 0.261 0.261 0.261 0.261 0.261 0.261 0.261 0.261 0.261 0.181 0.181 0.181 0.181 0.181 0.181 0.181 0.181 0.181 0.181 0.181 0.181 0.181 0.181 0.181 0.181 0.181 0.181 0.181 0.181 0.181 0.181 0.181 0.1"/></feComponentTransfer>
<feColorMatrix in="z1" type="matrix" values="1 0 0 0 0 1 0 0 0 0 1 0 0 0 0 0 0 0 0 1" result="z"/>
<feColorMatrix in="br" type="matrix" values="0 0 0 0 0 0 0 0 0 0 0 0 0 0 0 3 0 0 0 -1" result="m"/>
<feComposite in="z" in2="m" operator="in"/>
</filter>
<defs><path id="s145" d="M1006.9 1695.9C1008.2 1690.4 1013.3 1684.4 1015.8 1680.6C1018.3 1676.8 1019.6 1673.4 1022.1 1673C1024.6 1672.6 1026.8 1678.1 1031 1678.1C1035.2 1678.1 1042.4 1674.5 1047.5 1673C1052.6 1671.5 1057.3 1669 1061.5 1669.2C1065.7 1669.4 1068.9 1673 1072.9 1674.3C1076.9 1675.6 1081.1 1677 1085.6 1676.8C1090 1676.6 1096.4 1675.3 1099.6 1673C1102.8 1670.7 1102.2 1664.8 1104.7 1662.9C1107.2 1661 1112 1660.8 1114.8 1661.6C1117.5 1662.4 1119.3 1667.9 1121.2 1667.9C1123.1 1667.9 1124.3 1663.1 1126.2 1661.6C1128.1 1660.1 1130.3 1658.4 1132.6 1659C1134.9 1659.6 1138.1 1662.2 1140.2 1665.4C1142.3 1668.6 1144 1673.9 1145.3 1678.1C1146.6 1682.3 1148.2 1686.6 1147.8 1690.8C1147.4 1695 1144.3 1699.7 1142.8 1703.5C1141.3 1707.3 1137.4 1710.6 1138.9 1713.6C1140.4 1716.6 1148.4 1716.6 1151.6 1721.3C1154.8 1726 1158 1736.1 1158 1741.6C1158 1747.1 1153.7 1750.1 1151.6 1754.3C1149.5 1758.5 1146.6 1763.2 1145.3 1767C1144 1770.8 1146.5 1774.3 1144 1777.1C1141.5 1779.8 1134.5 1781 1130.1 1783.5C1125.7 1786 1121.6 1790.9 1117.4 1792.4C1113.2 1793.9 1107.9 1792.8 1104.7 1792.4C1101.5 1792 1102.5 1789.4 1098.3 1789.8C1094.1 1790.2 1085.2 1793.4 1079.3 1794.9C1073.4 1796.4 1067 1797 1062.8 1798.7C1058.6 1800.4 1058.6 1802.3 1053.9 1805.1C1049.2 1807.8 1041.2 1813.5 1034.8 1815.2C1028.4 1816.9 1021.5 1816.5 1015.8 1815.2C1010.1 1813.9 1004.6 1811.4 1000.6 1807.6C996.6 1803.8 993.5 1797.5 991.7 1792.4C989.9 1787.3 989.4 1782.2 989.8 1777.1C990.2 1772 992.4 1766.8 994.2 1761.9C996 1757 998.7 1753.4 1000.6 1747.9C1002.5 1742.4 1004.3 1734.6 1005.6 1728.9C1006.9 1723.2 1008 1719.1 1008.2 1713.6C1008.4 1708.1 1005.6 1701.4 1006.9 1695.9Z"/><path id="s146" d="M1012 1699.7C1015 1696.5 1023.2 1695.7 1028.5 1694.6C1033.8 1693.5 1038.2 1692.9 1043.7 1693.3C1049.2 1693.7 1055.6 1697.5 1061.5 1697.1C1067.4 1696.7 1073.2 1693.1 1079.3 1690.8C1085.4 1688.5 1091.9 1684.9 1098.3 1683.2C1104.7 1681.5 1111.3 1680.8 1117.4 1680.6C1123.5 1680.4 1131.9 1679.8 1135.1 1681.9C1138.3 1684 1136.4 1688.4 1136.4 1693.3C1136.4 1698.2 1134.2 1705.6 1135.1 1711.1C1135.9 1716.6 1142.3 1722.5 1141.5 1726.3C1140.7 1730.1 1134.1 1732.3 1130.1 1734C1126.1 1735.7 1119.3 1734.6 1117.4 1736.5C1115.5 1738.4 1116.5 1742.9 1118.6 1745.4C1120.7 1747.9 1126.3 1750.2 1130.1 1751.7C1133.9 1753.2 1139.7 1751.9 1141.5 1754.3C1143.3 1756.7 1141.2 1762.7 1141 1766C1140.8 1769.3 1142.7 1771.7 1140.5 1774C1138.3 1776.3 1131.9 1777.6 1128 1780C1124.1 1782.4 1120.9 1787 1117 1788.5C1113.1 1790 1107.8 1789.3 1104.7 1789C1101.6 1788.7 1102.5 1786.1 1098.3 1786.5C1094.1 1786.9 1085.2 1790 1079.3 1791.5C1073.4 1793 1067 1793.7 1062.8 1795.4C1058.6 1797.1 1058.6 1799 1053.9 1801.8C1049.2 1804.5 1041.2 1810.2 1034.8 1811.9C1028.4 1813.6 1021.2 1813.1 1015.8 1811.9C1010.4 1810.8 1006 1808.4 1002.5 1805C999 1801.6 996.1 1796.2 994.5 1791.5C992.9 1786.8 992.4 1781.9 992.8 1777.1C993.2 1772.3 995.3 1767.3 997.1 1762.5C998.9 1757.7 1001.5 1754 1003.4 1748.5C1005.3 1743 1007.2 1735.2 1008.4 1729.5C1009.6 1723.8 1010.2 1719 1010.8 1714C1011.4 1709 1009 1702.9 1012 1699.7Z"/><ellipse id="s147" cx="1026" cy="1782" rx="22.2" ry="23.2"/><ellipse id="s148" cx="1026.8" cy="1785.1" rx="14.3" ry="12.4"/><ellipse id="s149" cx="1026.6" cy="1785.5" rx="9.5" ry="8.3"/><ellipse id="s150" cx="1025" cy="1786" rx="5.5" ry="4.5"/><ellipse id="s151" cx="1040" cy="1755" rx="28" ry="28" transform="rotate(-30 1040 1755)"/><ellipse id="s152" cx="1060" cy="1740" rx="30" ry="30"/><ellipse id="s153" cx="1100" cy="1720" rx="30" ry="25"/><ellipse id="s154" cx="1053.9" cy="1685.7" rx="6.5" ry="6"/><ellipse id="s155" cx="1109.1" cy="1671.7" rx="2.5" ry="3.5"/></defs>
<g clip-path="url(#cC23)">
<use href="#s145" fill="#000"/>
<g filter="url(#fC23)">
<rect x="924.6" y="1481.3" width="409.6" height="408.6" fill="#000"/>
<use href="#s146" fill="#f00" style="mix-blend-mode:lighten"/>
<use href="#s147" fill="rgb(0,33,0)" style="mix-blend-mode:lighten"/>
<use href="#s148" fill="rgb(0,66,0)" style="mix-blend-mode:lighten"/>
<use href="#s149" fill="rgb(0,99,0)" style="mix-blend-mode:lighten"/>
<use href="#s150" fill="rgb(0,113,0)" style="mix-blend-mode:lighten"/>
<use href="#s151" fill="rgb(0,0,14)" style="mix-blend-mode:lighten"/>
<use href="#s152" fill="rgb(0,0,8)" style="mix-blend-mode:lighten"/>
<use href="#s153" fill="rgb(0,0,4)" style="mix-blend-mode:lighten"/>
</g>
<use href="#s147" fill="none" stroke="#fff" stroke-width="1.3"/>
<use href="#s148" fill="none" stroke="#fff" stroke-width="1.3"/>
<use href="#s149" fill="none" stroke="#fff" stroke-width="1.3"/>
<use href="#s145" fill="none" stroke="#000" stroke-width="2.4" stroke-linejoin="round"/>
<use href="#s154" fill="#d6d6d6"/>
<use href="#s155" fill="#d6d6d6"/>
<path d="M1090.3 1665.5h2v2h-2zM1124.0 1652.5h2v2h-2zM1093.3 1658.9h2v2h-2zM1003.9 1689.8h2v2h-2zM1110.4 1654.2h2v2h-2zM1031.8 1673.8h2v2h-2zM1167.1 1679.7h2v2h-2zM1121.8 1660.2h2v2h-2zM1126.3 1658.2h2v2h-2zM1042.8 1645.1h2v2h-2zM1099.0 1667.9h2v2h-2zM1033.1 1664.7h2v2h-2zM1167.1 1684.0h2v2h-2zM1014.6 1676.4h2v2h-2zM1161.0 1660.8h2v2h-2zM1043.4 1661.1h2v2h-2zM1110.8 1648.2h2v2h-2zM1033.1 1655.3h2v2h-2zM1122.8 1651.5h2v2h-2zM1149.0 1682.1h2v2h-2zM1094.4 1658.4h2v2h-2zM1116.8 1660.5h2v2h-2zM1155.3 1670.6h2v2h-2zM1017.4 1674.3h2v2h-2zM1067.0 1667.2h2v2h-2zM1124.7 1653.6h2v2h-2zM1112.8 1649.9h2v2h-2zM1002.0 1667.4h2v2h-2zM1091.3 1661.2h2v2h-2zM1086.3 1672.9h2v2h-2zM1084.3 1664.9h2v2h-2zM1010.4 1675.7h2v2h-2zM1091.2 1656.9h2v2h-2zM1083.0 1648.9h2v2h-2zM1156.0 1684.4h2v2h-2zM1154.4 1760.0h2v2h-2zM1151.7 1770.3h2v2h-2zM1171.8 1717.4h2v2h-2zM1150.5 1707.3h2v2h-2zM1162.9 1762.0h2v2h-2zM1163.5 1727.0h2v2h-2zM1155.8 1704.1h2v2h-2zM1155.6 1703.7h2v2h-2zM1148.8 1700.9h2v2h-2zM1149.4 1694.9h2v2h-2zM1159.8 1778.1h2v2h-2zM1149.9 1769.0h2v2h-2z" fill="#000"/>
</g>
<clipPath id="cC24"><rect x="1314.4" y="1521.3" width="329.6" height="328.6"/></clipPath>
<filter id="fC24" filterUnits="userSpaceOnUse" x="1314.4" y="1521.3" width="329.6" height="328.6" color-interpolation-filters="sRGB">
<feGaussianBlur in="SourceGraphic" stdDeviation="1.0" result="br"/>
<feGaussianBlur in="SourceGraphic" stdDeviation="2.2" result="bg"/>
<feGaussianBlur in="SourceGraphic" stdDeviation="10.0" result="bb"/>
<feGaussianBlur in="SourceGraphic" stdDeviation="9.0" result="bl"/>
<feColorMatrix in="bg" type="matrix" values="0 1 0 0 0 0 0 0 0 0 0 0 0 0 0 0 0 0 0 1" result="g"/>
<feComponentTransfer in="g" result="tg"><feFuncR type="table" tableValues="0 0.06 0.121 0.181 0.241 0.302 0.362 0.422 0.483 0.543 0.603 0.664 0.724 0.784 0.845 0.905 0.965 0.013 0.043 0.073 0.103 0.133 0.164 0.194 0.224 0.254 0.284 0.314 0.345 0.375 0.405 0.435 0.465 0.495 0.526 0.556 0.586 0.616 0.646 0.676 0.707 0.737 0.767 0.797 0.827 0.857 0.888 0.918 0.948 0.978 0.008 0.038 0.069 0.099 0.129 0.159 0.189 0.219 0.25 0.28 0.31 0.34 0.37 0.4 0.431 0.461 0.491 0.521 0.551 0.581 0.612 0.642 0.672 0.702 0.732 0.762 0.793 0.823 0.853 0.883 0.913 0.943 0.974 0.004 0.034 0.064 0.094 0.124 0.155 0.185 0.215 0.245 0.275 0.305 0.336 0.366 0.396 0.426 0.456 0.486 0.517 0.547 0.577 0.607 0.637 0.667 0.698 0.728 0.758 0.788 0.818 0.848 0.879 0.909 0.939 0.969 0.999 0.029 0.06 0.09 0.12 0.15 0.18 0.21 0.241 0.271 0.301 0.331 0.361 0.391 0.422 0.452 0.482 0.512 0.542 0.572 0.603 0.633 0.663 0.693 0.723 0.753 0.784 0.814 0.844 0.874 0.904 0.934 0.965 0.995 0.025 0.055 0.085 0.115 0.146 0.176 0.206 0.236 0.266 0.296 0.327 0.357 0.387 0.417 0.447 0.477 0.508 0.538 0.568 0.598 0.628 0.658 0.689 0.719 0.749 0.779 0.809 0.839 0.87 0.9 0.93 0.96 0.99 0.02 0.051 0.081 0.111 0.141 0.171 0.201 0.232 0.262 0.292 0.322 0.352 0.382 0.413 0.443 0.473 0.503 0.533 0.563 0.594 0.624 0.654 0.684 0.714 0.744 0.775 0.805 0.835 0.865 0.895 0.925 0.956 0.986 0.016 0.046 0.076 0.106 0.137 0.167 0.197 0.227 0.257 0.287 0.317 0.348 0.378 0.408 0.438 0.468 0.498 0.529 0.559 0.589 0.619 0.649 0.679 0.71 0.74 0.77 0.8 0.83 0.86 0.891 0.921 0.951 0.981 0.011 0.041 0.072 0.102 0.132 0.162 0.192"/></feComponentTransfer>
<feColorMatrix in="bb" type="matrix" values="0 0 8.0 0 0 0 0 0 0 0 0 0 0 0 0 0 0 0 0 1" result="b"/>
<feColorMatrix in="bl" type="matrix" values="0.6000 0 0 0 -0.3000 0 0 0 0 0 0 0 0 0 0 0 0 0 0 1" result="l"/>
<feComposite in="b" in2="l" operator="arithmetic" k2="1" k3="1" result="bl2"/>
<feComponentTransfer in="g" result="ib"><feFuncR type="table" tableValues="1 1 1 1 1 1 1 1 1 1 1 1 1 1 1 1 1 0 0 0 0 0 0 0 0 0 0 0 0 0 0 0 0 0 0 0 0 0 0 0 0 0 0 0 0 0 0 0 0 0 0 0 0 0 0 0 0 0 0 0 0 0 0 0 0 0 0 0 0 0 0 0 0 0 0 0 0 0 0 0 0 0 0 0 0 0 0 0 0 0 0 0 0 0 0 0 0 0 0 0 0 0 0 0 0 0 0 0 0 0 0 0 0 0 0 0 0 0 0 0 0 0 0 0 0 0 0 0 0 0 0 0 0 0 0 0 0 0 0 0 0 0 0 0 0 0 0 0 0 0 0 0 0 0 0 0 0 0 0 0 0 0 0 0 0 0 0 0 0 0 0 0 0 0 0 0 0 0 0 0 0 0 0 0 0 0 0 0 0 0 0 0 0 0 0 0 0 0 0 0 0 0 0 0 0 0 0 0 0 0 0 0 0 0 0 0 0 0 0 0 0 0 0 0 0 0 0 0 0 0 0 0 0 0 0 0 0 0 0 0 0 0 0 0 0 0 0 0 0 0 0 0 0 0 0 0"/></feComponentTransfer>
<feComposite in="bl2" in2="ib" operator="arithmetic" k1="1" result="hb"/>
<feComposite in="tg" in2="hb" operator="arithmetic" k2="1" k3="1" result="t"/>
<feComponentTransfer in="t" result="z1"><feFuncR type="table" tableValues="0.88 0.88 0.88 0.88 0.88 0.88 0.88 0.88 0.88 0.88 0.88 0.88 0.88 0.88 0.88 0.88 0.88 0.88 0.88 0.88 0.88 0.88 0.88 0.88 0.831 0.831 0.831 0.831 0.831 0.831 0.831 0.831 0.831 0.831 0.831 0.831 0.831 0.831 0.831 0.831 0.831 0.831 0.831 0.831 0.831 0.831 0.831 0.77 0.77 0.77 0.77 0.77 0.77 0.77 0.77 0.77 0.77 0.77 0.77 0.77 0.77 0.77 0.77 0.77 0.77 0.77 0.77 0.77 0.77 0.77 0.705 0.705 0.705 0.705 0.705 0.705 0.705 0.705 0.705 0.705 0.705 0.705 0.705 0.705 0.705 0.705 0.705 0.705 0.705 0.705 0.705 0.705 0.705 0.636 0.636 0.636 0.636 0.636 0.636 0.636 0.636 0.636 0.636 0.636 0.636 0.636 0.636 0.636 0.636 0.636 0.636 0.636 0.636 0.636 0.636 0.636 0.565 0.565 0.565 0.565 0.565 0.565 0.565 0.565 0.565 0.565 0.565 0.565 0.565 0.565 0.565 0.565 0.565 0.565 0.565 0.565 0.565 0.565 0.565 0.565 0.492 0.492 0.492 0.492 0.492 0.492 0.492 0.492 0.492 0.492 0.492 0.492 0.492 0.492 0.492 0.492 0.492 0.492 0.492 0.492 0.492 0.492 0.492 0.416 0.416 0.416 0.416 0.416 0.416 0.416 0.416 0.416 0.416 0.416 0.416 0.416 0.416 0.416 0.416 0.416 0.416 0.416 0.416 0.416 0.416 0.416 0.339 0.339 0.339 0.339 0.339 0.339 0.339 0.339 0.339 0.339 0.339 0.339 0.339 0.339 0.339 0.339 0.339 0.339 0.339 0.339 0.339 0.339 0.339 0.261 0.261 0.261 0.261 0.261 0.261 0.261 0.261 0.261 0.261 0.261 0.261 0.261 0.261 0.261 0.261 0.261 0.261 0.261 0.261 0.261 0.261 0.261 0.181 0.181 0.181 0.181 0.181 0.181 0.181 0.181 0.181 0.181 0.181 0.181 0.181 0.181 0.181 0.181 0.181 0.181 0.181 0.181 0.181 0.181 0.181 0.1"/></feComponentTransfer>
<feColorMatrix in="z1" type="matrix" values="1 0 0 0 0 1 0 0 0 0 1 0 0 0 0 0 0 0 0 1" result="z"/>
<feColorMatrix in="br" type="matrix" values="0 0 0 0 0 0 0 0 0 0 0 0 0 0 0 3 0 0 0 -1" result="m"/>
<feComposite in="z" in2="m" operator="in"/>
</filter>
<defs><path id="s156" d="M1341.8 1772.6C1343.4 1768.2 1346.2 1761 1350.2 1755.6C1354.2 1750.1 1361.6 1743.1 1366 1739.9C1370.4 1736.7 1373.2 1737.3 1376.8 1736.3C1380.4 1735.3 1385.5 1736.5 1387.7 1733.9C1389.9 1731.3 1388.5 1723.4 1390.1 1720.6C1391.7 1717.8 1395.4 1716.7 1397.4 1716.9C1399.4 1717.1 1401.2 1718.6 1402.2 1721.8C1403.2 1725 1401.8 1733.7 1403.4 1736.3C1405 1738.9 1409.3 1738.3 1411.9 1737.5C1414.5 1736.7 1416.6 1732.2 1419.2 1731.4C1421.8 1730.6 1425.6 1730.8 1427.6 1732.6C1429.6 1734.4 1429.8 1739.7 1431.2 1742.3C1432.6 1744.9 1433.5 1747.8 1436.1 1748.4C1438.7 1749 1443.2 1746.2 1447 1746C1450.8 1745.8 1456.1 1745.2 1459.1 1747.2C1462.1 1749.2 1463.1 1754.8 1465.1 1758C1467.1 1761.2 1467.7 1764.9 1471.1 1766.5C1474.5 1768.1 1482.8 1766.7 1485.7 1767.7C1488.6 1768.7 1489.1 1769.4 1488.7 1772.6C1488.3 1775.8 1486.1 1783.7 1483.2 1787.1C1480.3 1790.5 1476.1 1791.9 1471.1 1793.1C1466.1 1794.3 1458 1793.5 1453 1794.3C1448 1795.1 1445.9 1797.3 1440.9 1797.9C1435.9 1798.5 1427.6 1797.5 1422.8 1797.9C1418 1798.3 1414.9 1798.6 1411.9 1800.4C1408.9 1802.2 1407.8 1806.2 1404.6 1808.8C1401.4 1811.4 1397 1814.6 1392.6 1816.1C1388.2 1817.6 1383 1818.3 1378 1817.9C1373 1817.5 1366.9 1815.8 1362.3 1813.7C1357.7 1811.6 1353.4 1808.8 1350.2 1805.2C1347 1801.6 1344.6 1795.7 1343 1791.9C1341.4 1788.1 1340.8 1785.4 1340.6 1782.2C1340.4 1779 1340.2 1777 1341.8 1772.6Z"/><path id="s157" d="M1351.4 1762.9C1354.9 1759.3 1361.2 1753.8 1366 1750.8C1370.8 1747.8 1375.1 1745.6 1380.5 1744.7C1385.9 1743.8 1393 1744.3 1398.6 1745.3C1404.2 1746.3 1409.3 1748.3 1414.3 1750.8C1419.3 1753.3 1424.4 1758.1 1428.8 1760.5C1433.2 1762.9 1437.7 1765.5 1440.9 1765.3C1444.1 1765.1 1446 1760.1 1448.2 1759.3C1450.4 1758.5 1452.6 1756.7 1454.2 1760.5C1455.8 1764.3 1459.1 1777.4 1457.9 1782.2C1456.7 1787 1451.8 1788.1 1447 1789.5C1442.2 1790.9 1433.8 1790.3 1428.8 1790.7C1423.8 1791.1 1420.3 1790.5 1416.7 1791.9C1413.1 1793.3 1409.9 1796.9 1407.1 1799.2C1404.3 1801.5 1402.7 1803.8 1400 1806C1397.3 1808.2 1394.7 1811.1 1391 1812.5C1387.3 1813.9 1382.7 1814.8 1378 1814.5C1373.3 1814.2 1367.2 1812.5 1363 1810.5C1358.8 1808.5 1355.3 1805.8 1352.5 1802.5C1349.7 1799.2 1347.5 1794.4 1346 1790.9C1344.5 1787.4 1344 1784.5 1343.8 1781.5C1343.6 1778.5 1343.7 1775.7 1345 1772.6C1346.3 1769.5 1347.9 1766.5 1351.4 1762.9Z"/><ellipse id="s158" cx="1376.2" cy="1785.9" rx="17.2" ry="15.1"/><ellipse id="s159" cx="1376.2" cy="1785.9" rx="12" ry="10.3"/><ellipse id="s160" cx="1376.2" cy="1785.9" rx="7.9" ry="6"/><ellipse id="s161" cx="1376.2" cy="1785.9" rx="5" ry="4"/><ellipse id="s162" cx="1378" cy="1783" rx="24" ry="22"/></defs>
<g clip-path="url(#cC24)">
<use href="#s156" fill="#000"/>
<g filter="url(#fC24)">
<rect x="1274.4" y="1481.3" width="409.6" height="408.6" fill="#000"/>
<use href="#s157" fill="#f00" style="mix-blend-mode:lighten"/>
<use href="#s158" fill="rgb(0,33,0)" style="mix-blend-mode:lighten"/>
<use href="#s159" fill="rgb(0,66,0)" style="mix-blend-mode:lighten"/>
<use href="#s160" fill="rgb(0,99,0)" style="mix-blend-mode:lighten"/>
<use href="#s161" fill="rgb(0,113,0)" style="mix-blend-mode:lighten"/>
<use href="#s162" fill="rgb(0,0,14)" style="mix-blend-mode:lighten"/>
</g>
<use href="#s158" fill="none" stroke="#fff" stroke-width="1.3"/>
<use href="#s159" fill="none" stroke="#fff" stroke-width="1.3"/>
<use href="#s160" fill="none" stroke="#fff" stroke-width="1.3"/>
<use href="#s156" fill="none" stroke="#000" stroke-width="2.4" stroke-linejoin="round"/>
<path d="M1460.4 1737.5h2v2h-2zM1484.4 1707.4h2v2h-2zM1503.2 1720.7h2v2h-2zM1500.1 1716.2h2v2h-2zM1485.3 1749.7h2v2h-2zM1488.2 1707.7h2v2h-2zM1495.8 1713.8h2v2h-2zM1456.6 1718.1h2v2h-2zM1485.9 1723.0h2v2h-2zM1476.7 1731.5h2v2h-2zM1469.9 1744.1h2v2h-2zM1473.6 1712.3h2v2h-2zM1488.4 1722.1h2v2h-2zM1455.4 1707.5h2v2h-2zM1506.8 1702.9h2v2h-2zM1517.5 1744.2h2v2h-2zM1498.8 1750.1h2v2h-2zM1464.4 1722.5h2v2h-2zM1483.7 1746.6h2v2h-2zM1448.3 1728.8h2v2h-2zM1448.6 1743.8h2v2h-2zM1477.3 1728.9h2v2h-2zM1454.5 1730.4h2v2h-2zM1513.9 1751.9h2v2h-2zM1476.3 1721.6h2v2h-2zM1497.9 1747.2h2v2h-2zM1482.9 1745.2h2v2h-2zM1503.9 1757.3h2v2h-2zM1481.6 1722.5h2v2h-2zM1517.8 1731.4h2v2h-2zM1461.9 1751.8h2v2h-2zM1467.6 1714.2h2v2h-2zM1460.6 1702.6h2v2h-2zM1518.4 1746.9h2v2h-2zM1468.6 1742.6h2v2h-2zM1486.9 1732.7h2v2h-2zM1461.6 1712.9h2v2h-2zM1450.2 1708.3h2v2h-2zM1496.4 1734.0h2v2h-2zM1463.7 1706.7h2v2h-2zM1493.2 1776.0h2v2h-2zM1519.6 1796.6h2v2h-2zM1500.7 1762.2h2v2h-2zM1492.4 1762.7h2v2h-2zM1502.4 1777.6h2v2h-2zM1513.6 1777.4h2v2h-2zM1510.2 1790.0h2v2h-2zM1497.6 1790.9h2v2h-2zM1483.4 1789.3h2v2h-2zM1510.4 1787.3h2v2h-2zM1383.6 1722.8h2v2h-2zM1424.5 1720.0h2v2h-2zM1407.2 1727.1h2v2h-2zM1410.9 1724.7h2v2h-2zM1378.2 1720.6h2v2h-2zM1360.4 1737.9h2v2h-2z" fill="#000"/>
</g>
<rect x="176.5" y="28.8" width="396.5" height="397" fill="none" stroke="#000" stroke-width="1.6"/>
<path d="M227.9 425.8v10M231 425.8v5.5M224.8 425.8v5.5M234.1 425.8v5.5M221.7 425.8v5.5M237.2 425.8v5.5M218.6 425.8v5.5M240.3 425.8v5.5M215.5 425.8v5.5M243.4 425.8v5.5M212.4 425.8v5.5M246.5 425.8v5.5M209.3 425.8v5.5M249.6 425.8v5.5M206.2 425.8v5.5M252.7 425.8v5.5M203.1 425.8v5.5M255.8 425.8v5.5M200 425.8v5.5M258.9 425.8v10M196.9 425.8v10M287.32 425.8v5.5M303.94 425.8v5.5M315.73 425.8v5.5M324.88 425.8v5.5M332.36 425.8v5.5M338.68 425.8v5.5M344.15 425.8v5.5M348.98 425.8v5.5M353.3 425.8v10M380.54 425.8v5.5M396.48 425.8v5.5M407.79 425.8v5.5M416.56 425.8v5.5M423.72 425.8v5.5M429.78 425.8v5.5M435.03 425.8v5.5M439.66 425.8v5.5M443.8 425.8v10M471.04 425.8v5.5M486.98 425.8v5.5M498.29 425.8v5.5M507.06 425.8v5.5M514.22 425.8v5.5M520.28 425.8v5.5M525.53 425.8v5.5M530.16 425.8v5.5M534.3 425.8v10M561.54 425.8v5.5" stroke="#000" stroke-width="1.7" fill="none"/><rect x="224.7" y="425.8" width="6.4" height="7.5" fill="#000"/>
<path d="M176.5 380.5h-10M176.5 376.15h-5.5M176.5 384.85h-5.5M176.5 371.8h-5.5M176.5 389.2h-5.5M176.5 367.45h-5.5M176.5 393.55h-5.5M176.5 363.1h-5.5M176.5 397.9h-5.5M176.5 358.75h-5.5M176.5 402.25h-5.5M176.5 354.4h-5.5M176.5 406.6h-5.5M176.5 350.05h-5.5M176.5 410.95h-5.5M176.5 345.7h-5.5M176.5 415.3h-5.5M176.5 341.35h-5.5M176.5 419.65h-5.5M176.5 337h-10M176.5 424h-10M176.5 307.62h-5.5M176.5 290.43h-5.5M176.5 278.24h-5.5M176.5 268.78h-5.5M176.5 261.05h-5.5M176.5 254.52h-5.5M176.5 248.86h-5.5M176.5 243.87h-5.5M176.5 239.4h-10M176.5 212.91h-5.5M176.5 197.41h-5.5M176.5 186.42h-5.5M176.5 177.89h-5.5M176.5 170.92h-5.5M176.5 165.03h-5.5M176.5 159.93h-5.5M176.5 155.43h-5.5M176.5 151.4h-10M176.5 124.91h-5.5M176.5 109.41h-5.5M176.5 98.42h-5.5M176.5 89.89h-5.5M176.5 82.92h-5.5M176.5 77.03h-5.5M176.5 71.93h-5.5M176.5 67.43h-5.5M176.5 63.4h-10M176.5 36.91h-5.5" stroke="#000" stroke-width="1.7" fill="none"/><rect x="169" y="377.3" width="7.5" height="6.4" fill="#000"/>
<rect x="789" y="60.5" width="404.3" height="404.2" fill="none" stroke="#000" stroke-width="1.6"/>
<path d="M838.4 464.7v10M842.79 464.7v5.5M834.01 464.7v5.5M847.18 464.7v5.5M829.62 464.7v5.5M851.57 464.7v5.5M825.23 464.7v5.5M855.96 464.7v5.5M820.84 464.7v5.5M860.35 464.7v5.5M816.45 464.7v5.5M864.74 464.7v5.5M812.06 464.7v5.5M869.13 464.7v5.5M807.67 464.7v5.5M873.52 464.7v5.5M803.28 464.7v5.5M877.91 464.7v5.5M798.89 464.7v5.5M882.3 464.7v10M794.5 464.7v10M915.8 464.7v5.5M935.4 464.7v5.5M949.31 464.7v5.5M960.1 464.7v5.5M968.91 464.7v5.5M976.36 464.7v5.5M982.81 464.7v5.5M988.51 464.7v5.5M993.6 464.7v10M1024.91 464.7v5.5M1043.22 464.7v5.5M1056.21 464.7v5.5M1066.29 464.7v5.5M1074.53 464.7v5.5M1081.49 464.7v5.5M1087.52 464.7v5.5M1092.84 464.7v5.5M1097.6 464.7v10M1128.91 464.7v5.5M1147.22 464.7v5.5M1160.21 464.7v5.5M1170.29 464.7v5.5M1178.53 464.7v5.5M1185.49 464.7v5.5M1191.52 464.7v5.5" stroke="#000" stroke-width="1.7" fill="none"/><rect x="835.2" y="464.7" width="6.4" height="7.5" fill="#000"/>
<path d="M789 395h-10M789 388.96h-5.5M789 401.04h-5.5M789 382.92h-5.5M789 407.08h-5.5M789 376.88h-5.5M789 413.12h-5.5M789 370.84h-5.5M789 419.16h-5.5M789 364.8h-5.5M789 425.2h-5.5M789 358.76h-5.5M789 431.24h-5.5M789 352.72h-5.5M789 437.28h-5.5M789 346.68h-5.5M789 443.32h-5.5M789 340.64h-5.5M789 449.36h-5.5M789 334.6h-10M789 455.4h-10M789 290.68h-5.5M789 264.99h-5.5M789 246.76h-5.5M789 232.62h-5.5M789 221.07h-5.5M789 211.3h-5.5M789 202.84h-5.5M789 195.38h-5.5M789 188.7h-10M789 147.01h-5.5M789 122.62h-5.5M789 105.31h-5.5M789 91.89h-5.5M789 80.93h-5.5M789 71.65h-5.5M789 63.62h-5.5" stroke="#000" stroke-width="1.7" fill="none"/><rect x="781.5" y="391.8" width="7.5" height="6.4" fill="#000"/>
<rect x="1221.6" y="60.3" width="405" height="404.4" fill="none" stroke="#000" stroke-width="1.6"/>
<path d="M1271.1 464.7v10M1275.49 464.7v5.5M1266.71 464.7v5.5M1279.88 464.7v5.5M1262.32 464.7v5.5M1284.27 464.7v5.5M1257.93 464.7v5.5M1288.66 464.7v5.5M1253.54 464.7v5.5M1293.05 464.7v5.5M1249.15 464.7v5.5M1297.44 464.7v5.5M1244.76 464.7v5.5M1301.83 464.7v5.5M1240.37 464.7v5.5M1306.22 464.7v5.5M1235.98 464.7v5.5M1310.61 464.7v5.5M1231.59 464.7v5.5M1315 464.7v10M1227.2 464.7v10M1348.5 464.7v5.5M1368.1 464.7v5.5M1382.01 464.7v5.5M1392.8 464.7v5.5M1401.61 464.7v5.5M1409.06 464.7v5.5M1415.51 464.7v5.5M1421.21 464.7v5.5M1426.3 464.7v10M1457.61 464.7v5.5M1475.92 464.7v5.5M1488.91 464.7v5.5M1498.99 464.7v5.5M1507.23 464.7v5.5M1514.19 464.7v5.5M1520.22 464.7v5.5M1525.54 464.7v5.5M1530.3 464.7v10M1561.61 464.7v5.5M1579.92 464.7v5.5M1592.91 464.7v5.5M1602.99 464.7v5.5M1611.23 464.7v5.5M1618.19 464.7v5.5M1624.22 464.7v5.5" stroke="#000" stroke-width="1.7" fill="none"/><rect x="1267.9" y="464.7" width="6.4" height="7.5" fill="#000"/>
<path d="M1221.6 396h-10M1221.6 390.03h-5.5M1221.6 401.97h-5.5M1221.6 384.06h-5.5M1221.6 407.94h-5.5M1221.6 378.09h-5.5M1221.6 413.91h-5.5M1221.6 372.12h-5.5M1221.6 419.88h-5.5M1221.6 366.15h-5.5M1221.6 425.85h-5.5M1221.6 360.18h-5.5M1221.6 431.82h-5.5M1221.6 354.21h-5.5M1221.6 437.79h-5.5M1221.6 348.24h-5.5M1221.6 443.76h-5.5M1221.6 342.27h-5.5M1221.6 449.73h-5.5M1221.6 336.3h-10M1221.6 455.7h-10M1221.6 292.08h-5.5M1221.6 266.21h-5.5M1221.6 247.86h-5.5M1221.6 233.62h-5.5M1221.6 221.99h-5.5M1221.6 212.16h-5.5M1221.6 203.64h-5.5M1221.6 196.12h-5.5M1221.6 189.4h-10M1221.6 147.71h-5.5M1221.6 123.32h-5.5M1221.6 106.01h-5.5M1221.6 92.59h-5.5M1221.6 81.63h-5.5M1221.6 72.35h-5.5M1221.6 64.32h-5.5" stroke="#000" stroke-width="1.7" fill="none"/><rect x="1214.1" y="392.8" width="7.5" height="6.4" fill="#000"/>
<rect x="792.6" y="536.5" width="404" height="403.3" fill="none" stroke="#000" stroke-width="1.6"/>
<path d="M842 939.8v10M846.48 939.8v5.5M837.52 939.8v5.5M850.96 939.8v5.5M833.04 939.8v5.5M855.44 939.8v5.5M828.56 939.8v5.5M859.92 939.8v5.5M824.08 939.8v5.5M864.4 939.8v5.5M819.6 939.8v5.5M868.88 939.8v5.5M815.12 939.8v5.5M873.36 939.8v5.5M810.64 939.8v5.5M877.84 939.8v5.5M806.16 939.8v5.5M882.32 939.8v5.5M801.68 939.8v5.5M886.8 939.8v10M797.2 939.8v10M920.12 939.8v5.5M939.62 939.8v5.5M953.45 939.8v5.5M964.18 939.8v5.5M972.94 939.8v5.5M980.35 939.8v5.5M986.77 939.8v5.5M992.43 939.8v5.5M997.5 939.8v10M1028.51 939.8v5.5M1046.64 939.8v5.5M1059.51 939.8v5.5M1069.49 939.8v5.5M1077.65 939.8v5.5M1084.55 939.8v5.5M1090.52 939.8v5.5M1095.79 939.8v5.5M1100.5 939.8v10M1131.51 939.8v5.5M1149.64 939.8v5.5M1162.51 939.8v5.5M1172.49 939.8v5.5M1180.65 939.8v5.5M1187.55 939.8v5.5M1193.52 939.8v5.5" stroke="#000" stroke-width="1.7" fill="none"/><rect x="838.8" y="939.8" width="6.4" height="7.5" fill="#000"/>
<path d="M792.6 869.3h-10M792.6 863.44h-5.5M792.6 875.16h-5.5M792.6 857.58h-5.5M792.6 881.02h-5.5M792.6 851.72h-5.5M792.6 886.88h-5.5M792.6 845.86h-5.5M792.6 892.74h-5.5M792.6 840h-5.5M792.6 898.6h-5.5M792.6 834.14h-5.5M792.6 904.46h-5.5M792.6 828.28h-5.5M792.6 910.32h-5.5M792.6 822.42h-5.5M792.6 916.18h-5.5M792.6 816.56h-5.5M792.6 922.04h-5.5M792.6 810.7h-10M792.6 927.9h-10M792.6 766.78h-5.5M792.6 741.09h-5.5M792.6 722.86h-5.5M792.6 708.72h-5.5M792.6 697.17h-5.5M792.6 687.4h-5.5M792.6 678.94h-5.5M792.6 671.48h-5.5M792.6 664.8h-10M792.6 623.11h-5.5M792.6 598.72h-5.5M792.6 581.41h-5.5M792.6 567.99h-5.5M792.6 557.03h-5.5M792.6 547.75h-5.5M792.6 539.72h-5.5" stroke="#000" stroke-width="1.7" fill="none"/><rect x="785.1" y="866.1" width="7.5" height="6.4" fill="#000"/>
<rect x="1225.8" y="536.2" width="404.4" height="403.8" fill="none" stroke="#000" stroke-width="1.6"/>
<path d="M1274.6 940v10M1279.17 940v5.5M1270.03 940v5.5M1283.74 940v5.5M1265.46 940v5.5M1288.31 940v5.5M1260.89 940v5.5M1292.88 940v5.5M1256.32 940v5.5M1297.45 940v5.5M1251.75 940v5.5M1302.02 940v5.5M1247.18 940v5.5M1306.59 940v5.5M1242.61 940v5.5M1311.16 940v5.5M1238.04 940v5.5M1315.73 940v5.5M1233.47 940v5.5M1320.3 940v10M1228.9 940v10M1353.47 940v5.5M1372.88 940v5.5M1386.65 940v5.5M1397.33 940v5.5M1406.05 940v5.5M1413.43 940v5.5M1419.82 940v5.5M1425.46 940v5.5M1430.5 940v10M1461.57 940v5.5M1479.74 940v5.5M1492.63 940v5.5M1502.63 940v5.5M1510.81 940v5.5M1517.71 940v5.5M1523.7 940v5.5M1528.98 940v5.5M1533.7 940v10M1564.77 940v5.5M1582.94 940v5.5M1595.83 940v5.5M1605.83 940v5.5M1614.01 940v5.5M1620.91 940v5.5M1626.9 940v5.5" stroke="#000" stroke-width="1.7" fill="none"/><rect x="1271.4" y="940" width="6.4" height="7.5" fill="#000"/>
<path d="M1225.8 870.5h-10M1225.8 864.56h-5.5M1225.8 876.44h-5.5M1225.8 858.62h-5.5M1225.8 882.38h-5.5M1225.8 852.68h-5.5M1225.8 888.32h-5.5M1225.8 846.74h-5.5M1225.8 894.26h-5.5M1225.8 840.8h-5.5M1225.8 900.2h-5.5M1225.8 834.86h-5.5M1225.8 906.14h-5.5M1225.8 828.92h-5.5M1225.8 912.08h-5.5M1225.8 822.98h-5.5M1225.8 918.02h-5.5M1225.8 817.04h-5.5M1225.8 923.96h-5.5M1225.8 811.1h-10M1225.8 929.9h-10M1225.8 767.24h-5.5M1225.8 741.58h-5.5M1225.8 723.38h-5.5M1225.8 709.26h-5.5M1225.8 697.72h-5.5M1225.8 687.97h-5.5M1225.8 679.52h-5.5M1225.8 672.07h-5.5M1225.8 665.4h-10M1225.8 623.71h-5.5M1225.8 599.32h-5.5M1225.8 582.01h-5.5M1225.8 568.59h-5.5M1225.8 557.63h-5.5M1225.8 548.35h-5.5M1225.8 540.32h-5.5" stroke="#000" stroke-width="1.7" fill="none"/><rect x="1218.3" y="867.3" width="7.5" height="6.4" fill="#000"/>
<rect x="200.5" y="1170.2" width="329.6" height="328.6" fill="none" stroke="#000" stroke-width="1.6"/>
<path d="M250 1498.8v10M252.45 1498.8v5.5M247.55 1498.8v5.5M254.9 1498.8v5.5M245.1 1498.8v5.5M257.35 1498.8v5.5M242.65 1498.8v5.5M259.8 1498.8v5.5M240.2 1498.8v5.5M262.25 1498.8v5.5M237.75 1498.8v5.5M264.7 1498.8v5.5M235.3 1498.8v5.5M267.15 1498.8v5.5M232.85 1498.8v5.5M269.6 1498.8v5.5M230.4 1498.8v5.5M272.05 1498.8v5.5M227.95 1498.8v5.5M274.5 1498.8v10M225.5 1498.8v10M300.75 1498.8v5.5M316.1 1498.8v5.5M327 1498.8v5.5M335.45 1498.8v5.5M342.35 1498.8v5.5M348.19 1498.8v5.5M353.25 1498.8v5.5M357.71 1498.8v5.5M361.7 1498.8v10M388.43 1498.8v5.5M404.07 1498.8v5.5M415.16 1498.8v5.5M423.77 1498.8v5.5M430.8 1498.8v5.5M436.74 1498.8v5.5M441.89 1498.8v5.5M446.44 1498.8v5.5M450.5 1498.8v10M477.23 1498.8v5.5M492.87 1498.8v5.5M503.96 1498.8v5.5M512.57 1498.8v5.5M519.6 1498.8v5.5M525.54 1498.8v5.5" stroke="#000" stroke-width="1.7" fill="none"/><rect x="246.8" y="1498.8" width="6.4" height="7.5" fill="#000"/>
<path d="M200.5 1435.8h-10M200.5 1433.24h-5.5M200.5 1438.36h-5.5M200.5 1430.68h-5.5M200.5 1440.92h-5.5M200.5 1428.12h-5.5M200.5 1443.48h-5.5M200.5 1425.56h-5.5M200.5 1446.04h-5.5M200.5 1423h-5.5M200.5 1448.6h-5.5M200.5 1420.44h-5.5M200.5 1451.16h-5.5M200.5 1417.88h-5.5M200.5 1453.72h-5.5M200.5 1415.32h-5.5M200.5 1456.28h-5.5M200.5 1412.76h-5.5M200.5 1458.84h-5.5M200.5 1410.2h-10M200.5 1461.4h-10M200.5 1380.7h-5.5M200.5 1490.9h-5.5M200.5 1363.44h-5.5M200.5 1351.2h-5.5M200.5 1341.7h-5.5M200.5 1333.94h-5.5M200.5 1327.38h-5.5M200.5 1321.7h-5.5M200.5 1316.68h-5.5M200.5 1312.2h-10M200.5 1281.37h-5.5M200.5 1263.34h-5.5M200.5 1250.55h-5.5M200.5 1240.63h-5.5M200.5 1232.52h-5.5M200.5 1225.66h-5.5M200.5 1219.72h-5.5M200.5 1214.49h-5.5M200.5 1209.8h-10M200.5 1178.97h-5.5" stroke="#000" stroke-width="1.7" fill="none"/><rect x="193" y="1432.6" width="7.5" height="6.4" fill="#000"/>
<rect x="614.6" y="1170.2" width="329.6" height="328.6" fill="none" stroke="#000" stroke-width="1.6"/>
<path d="M664.1 1498.8v10M666.55 1498.8v5.5M661.65 1498.8v5.5M669 1498.8v5.5M659.2 1498.8v5.5M671.45 1498.8v5.5M656.75 1498.8v5.5M673.9 1498.8v5.5M654.3 1498.8v5.5M676.35 1498.8v5.5M651.85 1498.8v5.5M678.8 1498.8v5.5M649.4 1498.8v5.5M681.25 1498.8v5.5M646.95 1498.8v5.5M683.7 1498.8v5.5M644.5 1498.8v5.5M686.15 1498.8v5.5M642.05 1498.8v5.5M688.6 1498.8v10M639.6 1498.8v10M714.85 1498.8v5.5M730.2 1498.8v5.5M741.1 1498.8v5.5M749.55 1498.8v5.5M756.45 1498.8v5.5M762.29 1498.8v5.5M767.35 1498.8v5.5M771.81 1498.8v5.5M775.8 1498.8v10M802.53 1498.8v5.5M818.17 1498.8v5.5M829.26 1498.8v5.5M837.87 1498.8v5.5M844.9 1498.8v5.5M850.84 1498.8v5.5M855.99 1498.8v5.5M860.54 1498.8v5.5M864.6 1498.8v10M891.33 1498.8v5.5M906.97 1498.8v5.5M918.06 1498.8v5.5M926.67 1498.8v5.5M933.7 1498.8v5.5M939.64 1498.8v5.5" stroke="#000" stroke-width="1.7" fill="none"/><rect x="660.9" y="1498.8" width="6.4" height="7.5" fill="#000"/>
<path d="M614.6 1435.8h-10M614.6 1433.24h-5.5M614.6 1438.36h-5.5M614.6 1430.68h-5.5M614.6 1440.92h-5.5M614.6 1428.12h-5.5M614.6 1443.48h-5.5M614.6 1425.56h-5.5M614.6 1446.04h-5.5M614.6 1423h-5.5M614.6 1448.6h-5.5M614.6 1420.44h-5.5M614.6 1451.16h-5.5M614.6 1417.88h-5.5M614.6 1453.72h-5.5M614.6 1415.32h-5.5M614.6 1456.28h-5.5M614.6 1412.76h-5.5M614.6 1458.84h-5.5M614.6 1410.2h-10M614.6 1461.4h-10M614.6 1380.7h-5.5M614.6 1490.9h-5.5M614.6 1363.44h-5.5M614.6 1351.2h-5.5M614.6 1341.7h-5.5M614.6 1333.94h-5.5M614.6 1327.38h-5.5M614.6 1321.7h-5.5M614.6 1316.68h-5.5M614.6 1312.2h-10M614.6 1281.37h-5.5M614.6 1263.34h-5.5M614.6 1250.55h-5.5M614.6 1240.63h-5.5M614.6 1232.52h-5.5M614.6 1225.66h-5.5M614.6 1219.72h-5.5M614.6 1214.49h-5.5M614.6 1209.8h-10M614.6 1178.97h-5.5" stroke="#000" stroke-width="1.7" fill="none"/><rect x="607.1" y="1432.6" width="7.5" height="6.4" fill="#000"/>
<rect x="964.6" y="1170.2" width="329.6" height="328.6" fill="none" stroke="#000" stroke-width="1.6"/>
<path d="M1014.1 1498.8v10M1016.55 1498.8v5.5M1011.65 1498.8v5.5M1019 1498.8v5.5M1009.2 1498.8v5.5M1021.45 1498.8v5.5M1006.75 1498.8v5.5M1023.9 1498.8v5.5M1004.3 1498.8v5.5M1026.35 1498.8v5.5M1001.85 1498.8v5.5M1028.8 1498.8v5.5M999.4 1498.8v5.5M1031.25 1498.8v5.5M996.95 1498.8v5.5M1033.7 1498.8v5.5M994.5 1498.8v5.5M1036.15 1498.8v5.5M992.05 1498.8v5.5M1038.6 1498.8v10M989.6 1498.8v10M1064.85 1498.8v5.5M1080.2 1498.8v5.5M1091.1 1498.8v5.5M1099.55 1498.8v5.5M1106.45 1498.8v5.5M1112.29 1498.8v5.5M1117.35 1498.8v5.5M1121.81 1498.8v5.5M1125.8 1498.8v10M1152.53 1498.8v5.5M1168.17 1498.8v5.5M1179.26 1498.8v5.5M1187.87 1498.8v5.5M1194.9 1498.8v5.5M1200.84 1498.8v5.5M1205.99 1498.8v5.5M1210.54 1498.8v5.5M1214.6 1498.8v10M1241.33 1498.8v5.5M1256.97 1498.8v5.5M1268.06 1498.8v5.5M1276.67 1498.8v5.5M1283.7 1498.8v5.5M1289.64 1498.8v5.5" stroke="#000" stroke-width="1.7" fill="none"/><rect x="1010.9" y="1498.8" width="6.4" height="7.5" fill="#000"/>
<path d="M964.6 1435.8h-10M964.6 1433.24h-5.5M964.6 1438.36h-5.5M964.6 1430.68h-5.5M964.6 1440.92h-5.5M964.6 1428.12h-5.5M964.6 1443.48h-5.5M964.6 1425.56h-5.5M964.6 1446.04h-5.5M964.6 1423h-5.5M964.6 1448.6h-5.5M964.6 1420.44h-5.5M964.6 1451.16h-5.5M964.6 1417.88h-5.5M964.6 1453.72h-5.5M964.6 1415.32h-5.5M964.6 1456.28h-5.5M964.6 1412.76h-5.5M964.6 1458.84h-5.5M964.6 1410.2h-10M964.6 1461.4h-10M964.6 1380.7h-5.5M964.6 1490.9h-5.5M964.6 1363.44h-5.5M964.6 1351.2h-5.5M964.6 1341.7h-5.5M964.6 1333.94h-5.5M964.6 1327.38h-5.5M964.6 1321.7h-5.5M964.6 1316.68h-5.5M964.6 1312.2h-10M964.6 1281.37h-5.5M964.6 1263.34h-5.5M964.6 1250.55h-5.5M964.6 1240.63h-5.5M964.6 1232.52h-5.5M964.6 1225.66h-5.5M964.6 1219.72h-5.5M964.6 1214.49h-5.5M964.6 1209.8h-10M964.6 1178.97h-5.5" stroke="#000" stroke-width="1.7" fill="none"/><rect x="957.1" y="1432.6" width="7.5" height="6.4" fill="#000"/>
<rect x="1314.4" y="1170.2" width="329.6" height="328.6" fill="none" stroke="#000" stroke-width="1.6"/>
<path d="M1363.9 1498.8v10M1366.35 1498.8v5.5M1361.45 1498.8v5.5M1368.8 1498.8v5.5M1359 1498.8v5.5M1371.25 1498.8v5.5M1356.55 1498.8v5.5M1373.7 1498.8v5.5M1354.1 1498.8v5.5M1376.15 1498.8v5.5M1351.65 1498.8v5.5M1378.6 1498.8v5.5M1349.2 1498.8v5.5M1381.05 1498.8v5.5M1346.75 1498.8v5.5M1383.5 1498.8v5.5M1344.3 1498.8v5.5M1385.95 1498.8v5.5M1341.85 1498.8v5.5M1388.4 1498.8v10M1339.4 1498.8v10M1414.65 1498.8v5.5M1430 1498.8v5.5M1440.9 1498.8v5.5M1449.35 1498.8v5.5M1456.25 1498.8v5.5M1462.09 1498.8v5.5M1467.15 1498.8v5.5M1471.61 1498.8v5.5M1475.6 1498.8v10M1502.33 1498.8v5.5M1517.97 1498.8v5.5M1529.06 1498.8v5.5M1537.67 1498.8v5.5M1544.7 1498.8v5.5M1550.64 1498.8v5.5M1555.79 1498.8v5.5M1560.34 1498.8v5.5M1564.4 1498.8v10M1591.13 1498.8v5.5M1606.77 1498.8v5.5M1617.86 1498.8v5.5M1626.47 1498.8v5.5M1633.5 1498.8v5.5M1639.44 1498.8v5.5" stroke="#000" stroke-width="1.7" fill="none"/><rect x="1360.7" y="1498.8" width="6.4" height="7.5" fill="#000"/>
<path d="M1314.4 1435.8h-10M1314.4 1433.24h-5.5M1314.4 1438.36h-5.5M1314.4 1430.68h-5.5M1314.4 1440.92h-5.5M1314.4 1428.12h-5.5M1314.4 1443.48h-5.5M1314.4 1425.56h-5.5M1314.4 1446.04h-5.5M1314.4 1423h-5.5M1314.4 1448.6h-5.5M1314.4 1420.44h-5.5M1314.4 1451.16h-5.5M1314.4 1417.88h-5.5M1314.4 1453.72h-5.5M1314.4 1415.32h-5.5M1314.4 1456.28h-5.5M1314.4 1412.76h-5.5M1314.4 1458.84h-5.5M1314.4 1410.2h-10M1314.4 1461.4h-10M1314.4 1380.7h-5.5M1314.4 1490.9h-5.5M1314.4 1363.44h-5.5M1314.4 1351.2h-5.5M1314.4 1341.7h-5.5M1314.4 1333.94h-5.5M1314.4 1327.38h-5.5M1314.4 1321.7h-5.5M1314.4 1316.68h-5.5M1314.4 1312.2h-10M1314.4 1281.37h-5.5M1314.4 1263.34h-5.5M1314.4 1250.55h-5.5M1314.4 1240.63h-5.5M1314.4 1232.52h-5.5M1314.4 1225.66h-5.5M1314.4 1219.72h-5.5M1314.4 1214.49h-5.5M1314.4 1209.8h-10M1314.4 1178.97h-5.5" stroke="#000" stroke-width="1.7" fill="none"/><rect x="1306.9" y="1432.6" width="7.5" height="6.4" fill="#000"/>
<rect x="200.5" y="1521.3" width="329.6" height="328.6" fill="none" stroke="#000" stroke-width="1.6"/>
<path d="M250 1849.9v10M252.45 1849.9v5.5M247.55 1849.9v5.5M254.9 1849.9v5.5M245.1 1849.9v5.5M257.35 1849.9v5.5M242.65 1849.9v5.5M259.8 1849.9v5.5M240.2 1849.9v5.5M262.25 1849.9v5.5M237.75 1849.9v5.5M264.7 1849.9v5.5M235.3 1849.9v5.5M267.15 1849.9v5.5M232.85 1849.9v5.5M269.6 1849.9v5.5M230.4 1849.9v5.5M272.05 1849.9v5.5M227.95 1849.9v5.5M274.5 1849.9v10M225.5 1849.9v10M300.75 1849.9v5.5M316.1 1849.9v5.5M327 1849.9v5.5M335.45 1849.9v5.5M342.35 1849.9v5.5M348.19 1849.9v5.5M353.25 1849.9v5.5M357.71 1849.9v5.5M361.7 1849.9v10M388.43 1849.9v5.5M404.07 1849.9v5.5M415.16 1849.9v5.5M423.77 1849.9v5.5M430.8 1849.9v5.5M436.74 1849.9v5.5M441.89 1849.9v5.5M446.44 1849.9v5.5M450.5 1849.9v10M477.23 1849.9v5.5M492.87 1849.9v5.5M503.96 1849.9v5.5M512.57 1849.9v5.5M519.6 1849.9v5.5M525.54 1849.9v5.5" stroke="#000" stroke-width="1.7" fill="none"/><rect x="246.8" y="1849.9" width="6.4" height="7.5" fill="#000"/>
<path d="M200.5 1786.9h-10M200.5 1784.34h-5.5M200.5 1789.46h-5.5M200.5 1781.78h-5.5M200.5 1792.02h-5.5M200.5 1779.22h-5.5M200.5 1794.58h-5.5M200.5 1776.66h-5.5M200.5 1797.14h-5.5M200.5 1774.1h-5.5M200.5 1799.7h-5.5M200.5 1771.54h-5.5M200.5 1802.26h-5.5M200.5 1768.98h-5.5M200.5 1804.82h-5.5M200.5 1766.42h-5.5M200.5 1807.38h-5.5M200.5 1763.86h-5.5M200.5 1809.94h-5.5M200.5 1761.3h-10M200.5 1812.5h-10M200.5 1731.8h-5.5M200.5 1842h-5.5M200.5 1714.54h-5.5M200.5 1702.3h-5.5M200.5 1692.8h-5.5M200.5 1685.04h-5.5M200.5 1678.48h-5.5M200.5 1672.8h-5.5M200.5 1667.78h-5.5M200.5 1663.3h-10M200.5 1632.47h-5.5M200.5 1614.44h-5.5M200.5 1601.65h-5.5M200.5 1591.73h-5.5M200.5 1583.62h-5.5M200.5 1576.76h-5.5M200.5 1570.82h-5.5M200.5 1565.59h-5.5M200.5 1560.9h-10M200.5 1530.07h-5.5" stroke="#000" stroke-width="1.7" fill="none"/><rect x="193" y="1783.7" width="7.5" height="6.4" fill="#000"/>
<rect x="614.6" y="1521.3" width="329.6" height="328.6" fill="none" stroke="#000" stroke-width="1.6"/>
<path d="M664.1 1849.9v10M666.55 1849.9v5.5M661.65 1849.9v5.5M669 1849.9v5.5M659.2 1849.9v5.5M671.45 1849.9v5.5M656.75 1849.9v5.5M673.9 1849.9v5.5M654.3 1849.9v5.5M676.35 1849.9v5.5M651.85 1849.9v5.5M678.8 1849.9v5.5M649.4 1849.9v5.5M681.25 1849.9v5.5M646.95 1849.9v5.5M683.7 1849.9v5.5M644.5 1849.9v5.5M686.15 1849.9v5.5M642.05 1849.9v5.5M688.6 1849.9v10M639.6 1849.9v10M714.85 1849.9v5.5M730.2 1849.9v5.5M741.1 1849.9v5.5M749.55 1849.9v5.5M756.45 1849.9v5.5M762.29 1849.9v5.5M767.35 1849.9v5.5M771.81 1849.9v5.5M775.8 1849.9v10M802.53 1849.9v5.5M818.17 1849.9v5.5M829.26 1849.9v5.5M837.87 1849.9v5.5M844.9 1849.9v5.5M850.84 1849.9v5.5M855.99 1849.9v5.5M860.54 1849.9v5.5M864.6 1849.9v10M891.33 1849.9v5.5M906.97 1849.9v5.5M918.06 1849.9v5.5M926.67 1849.9v5.5M933.7 1849.9v5.5M939.64 1849.9v5.5" stroke="#000" stroke-width="1.7" fill="none"/><rect x="660.9" y="1849.9" width="6.4" height="7.5" fill="#000"/>
<path d="M614.6 1786.9h-10M614.6 1784.34h-5.5M614.6 1789.46h-5.5M614.6 1781.78h-5.5M614.6 1792.02h-5.5M614.6 1779.22h-5.5M614.6 1794.58h-5.5M614.6 1776.66h-5.5M614.6 1797.14h-5.5M614.6 1774.1h-5.5M614.6 1799.7h-5.5M614.6 1771.54h-5.5M614.6 1802.26h-5.5M614.6 1768.98h-5.5M614.6 1804.82h-5.5M614.6 1766.42h-5.5M614.6 1807.38h-5.5M614.6 1763.86h-5.5M614.6 1809.94h-5.5M614.6 1761.3h-10M614.6 1812.5h-10M614.6 1731.8h-5.5M614.6 1842h-5.5M614.6 1714.54h-5.5M614.6 1702.3h-5.5M614.6 1692.8h-5.5M614.6 1685.04h-5.5M614.6 1678.48h-5.5M614.6 1672.8h-5.5M614.6 1667.78h-5.5M614.6 1663.3h-10M614.6 1632.47h-5.5M614.6 1614.44h-5.5M614.6 1601.65h-5.5M614.6 1591.73h-5.5M614.6 1583.62h-5.5M614.6 1576.76h-5.5M614.6 1570.82h-5.5M614.6 1565.59h-5.5M614.6 1560.9h-10M614.6 1530.07h-5.5" stroke="#000" stroke-width="1.7" fill="none"/><rect x="607.1" y="1783.7" width="7.5" height="6.4" fill="#000"/>
<rect x="964.6" y="1521.3" width="329.6" height="328.6" fill="none" stroke="#000" stroke-width="1.6"/>
<path d="M1014.1 1849.9v10M1016.55 1849.9v5.5M1011.65 1849.9v5.5M1019 1849.9v5.5M1009.2 1849.9v5.5M1021.45 1849.9v5.5M1006.75 1849.9v5.5M1023.9 1849.9v5.5M1004.3 1849.9v5.5M1026.35 1849.9v5.5M1001.85 1849.9v5.5M1028.8 1849.9v5.5M999.4 1849.9v5.5M1031.25 1849.9v5.5M996.95 1849.9v5.5M1033.7 1849.9v5.5M994.5 1849.9v5.5M1036.15 1849.9v5.5M992.05 1849.9v5.5M1038.6 1849.9v10M989.6 1849.9v10M1064.85 1849.9v5.5M1080.2 1849.9v5.5M1091.1 1849.9v5.5M1099.55 1849.9v5.5M1106.45 1849.9v5.5M1112.29 1849.9v5.5M1117.35 1849.9v5.5M1121.81 1849.9v5.5M1125.8 1849.9v10M1152.53 1849.9v5.5M1168.17 1849.9v5.5M1179.26 1849.9v5.5M1187.87 1849.9v5.5M1194.9 1849.9v5.5M1200.84 1849.9v5.5M1205.99 1849.9v5.5M1210.54 1849.9v5.5M1214.6 1849.9v10M1241.33 1849.9v5.5M1256.97 1849.9v5.5M1268.06 1849.9v5.5M1276.67 1849.9v5.5M1283.7 1849.9v5.5M1289.64 1849.9v5.5" stroke="#000" stroke-width="1.7" fill="none"/><rect x="1010.9" y="1849.9" width="6.4" height="7.5" fill="#000"/>
<path d="M964.6 1786.9h-10M964.6 1784.34h-5.5M964.6 1789.46h-5.5M964.6 1781.78h-5.5M964.6 1792.02h-5.5M964.6 1779.22h-5.5M964.6 1794.58h-5.5M964.6 1776.66h-5.5M964.6 1797.14h-5.5M964.6 1774.1h-5.5M964.6 1799.7h-5.5M964.6 1771.54h-5.5M964.6 1802.26h-5.5M964.6 1768.98h-5.5M964.6 1804.82h-5.5M964.6 1766.42h-5.5M964.6 1807.38h-5.5M964.6 1763.86h-5.5M964.6 1809.94h-5.5M964.6 1761.3h-10M964.6 1812.5h-10M964.6 1731.8h-5.5M964.6 1842h-5.5M964.6 1714.54h-5.5M964.6 1702.3h-5.5M964.6 1692.8h-5.5M964.6 1685.04h-5.5M964.6 1678.48h-5.5M964.6 1672.8h-5.5M964.6 1667.78h-5.5M964.6 1663.3h-10M964.6 1632.47h-5.5M964.6 1614.44h-5.5M964.6 1601.65h-5.5M964.6 1591.73h-5.5M964.6 1583.62h-5.5M964.6 1576.76h-5.5M964.6 1570.82h-5.5M964.6 1565.59h-5.5M964.6 1560.9h-10M964.6 1530.07h-5.5" stroke="#000" stroke-width="1.7" fill="none"/><rect x="957.1" y="1783.7" width="7.5" height="6.4" fill="#000"/>
<rect x="1314.4" y="1521.3" width="329.6" height="328.6" fill="none" stroke="#000" stroke-width="1.6"/>
<path d="M1363.9 1849.9v10M1366.35 1849.9v5.5M1361.45 1849.9v5.5M1368.8 1849.9v5.5M1359 1849.9v5.5M1371.25 1849.9v5.5M1356.55 1849.9v5.5M1373.7 1849.9v5.5M1354.1 1849.9v5.5M1376.15 1849.9v5.5M1351.65 1849.9v5.5M1378.6 1849.9v5.5M1349.2 1849.9v5.5M1381.05 1849.9v5.5M1346.75 1849.9v5.5M1383.5 1849.9v5.5M1344.3 1849.9v5.5M1385.95 1849.9v5.5M1341.85 1849.9v5.5M1388.4 1849.9v10M1339.4 1849.9v10M1414.65 1849.9v5.5M1430 1849.9v5.5M1440.9 1849.9v5.5M1449.35 1849.9v5.5M1456.25 1849.9v5.5M1462.09 1849.9v5.5M1467.15 1849.9v5.5M1471.61 1849.9v5.5M1475.6 1849.9v10M1502.33 1849.9v5.5M1517.97 1849.9v5.5M1529.06 1849.9v5.5M1537.67 1849.9v5.5M1544.7 1849.9v5.5M1550.64 1849.9v5.5M1555.79 1849.9v5.5M1560.34 1849.9v5.5M1564.4 1849.9v10M1591.13 1849.9v5.5M1606.77 1849.9v5.5M1617.86 1849.9v5.5M1626.47 1849.9v5.5M1633.5 1849.9v5.5M1639.44 1849.9v5.5" stroke="#000" stroke-width="1.7" fill="none"/><rect x="1360.7" y="1849.9" width="6.4" height="7.5" fill="#000"/>
<path d="M1314.4 1786.9h-10M1314.4 1784.34h-5.5M1314.4 1789.46h-5.5M1314.4 1781.78h-5.5M1314.4 1792.02h-5.5M1314.4 1779.22h-5.5M1314.4 1794.58h-5.5M1314.4 1776.66h-5.5M1314.4 1797.14h-5.5M1314.4 1774.1h-5.5M1314.4 1799.7h-5.5M1314.4 1771.54h-5.5M1314.4 1802.26h-5.5M1314.4 1768.98h-5.5M1314.4 1804.82h-5.5M1314.4 1766.42h-5.5M1314.4 1807.38h-5.5M1314.4 1763.86h-5.5M1314.4 1809.94h-5.5M1314.4 1761.3h-10M1314.4 1812.5h-10M1314.4 1731.8h-5.5M1314.4 1842h-5.5M1314.4 1714.54h-5.5M1314.4 1702.3h-5.5M1314.4 1692.8h-5.5M1314.4 1685.04h-5.5M1314.4 1678.48h-5.5M1314.4 1672.8h-5.5M1314.4 1667.78h-5.5M1314.4 1663.3h-10M1314.4 1632.47h-5.5M1314.4 1614.44h-5.5M1314.4 1601.65h-5.5M1314.4 1591.73h-5.5M1314.4 1583.62h-5.5M1314.4 1576.76h-5.5M1314.4 1570.82h-5.5M1314.4 1565.59h-5.5M1314.4 1560.9h-10M1314.4 1530.07h-5.5" stroke="#000" stroke-width="1.7" fill="none"/><rect x="1306.9" y="1783.7" width="7.5" height="6.4" fill="#000"/>
<rect x="332.9" y="96.1" width="183.6" height="195.9" fill="none" stroke="#000" stroke-width="5.2"/>
<path d="M485.7 292V538" stroke="#000" stroke-width="5.5"/><path d="M474 535.5H497.4L485.7 557Z" fill="#000"/>
<path d="M1184 69.6H916.7V324.2H1184" fill="none" stroke="#000" stroke-width="2"/>
<path d="M1184 68.6V325.2" fill="none" stroke="#000" stroke-width="3.2"/>
<path d="M1617.5 70.3H1350.3V324.4H1617.5" fill="none" stroke="#000" stroke-width="2"/>
<path d="M1617.5 69.3V325.4" fill="none" stroke="#000" stroke-width="3.2"/>
<path d="M1188.2 546.2H920.8V799.6H1188.2" fill="none" stroke="#000" stroke-width="2"/>
<path d="M1188.2 545.2V800.6" fill="none" stroke="#000" stroke-width="3.2"/>
<path d="M1621.4 546.2H1353.3V800.2H1621.4" fill="none" stroke="#000" stroke-width="2"/>
<path d="M1621.4 545.2V801.2" fill="none" stroke="#000" stroke-width="3.2"/>
<path d="M209.7 1178.7 L522.1 1177.2 L522.1 1490.5 L326 1488.2 L339.2 1438.8 L335.5 1393.8 L310.3 1365.7 L266.6 1360.4 L211.2 1375.2Z" fill="none" stroke="#222" stroke-width="1.7" stroke-linejoin="round"/>
<path d="M623.8 1178.7 L936.2 1177.2 L936.2 1490.5 L740.1 1488.2 L753.3 1438.8 L749.6 1393.8 L724.4 1365.7 L680.7 1360.4 L625.3 1375.2Z" fill="none" stroke="#222" stroke-width="1.7" stroke-linejoin="round"/>
<path d="M973.8 1178.7 L1286.2 1177.2 L1286.2 1490.5 L1090.1 1488.2 L1103.3 1438.8 L1099.6 1393.8 L1074.4 1365.7 L1030.7 1360.4 L975.3 1375.2Z" fill="none" stroke="#222" stroke-width="1.7" stroke-linejoin="round"/>
<path d="M1323.6 1178.7 L1636 1177.2 L1636 1490.5 L1439.9 1488.2 L1453.1 1438.8 L1449.4 1393.8 L1424.2 1365.7 L1380.5 1360.4 L1325.1 1375.2Z" fill="none" stroke="#222" stroke-width="1.7" stroke-linejoin="round"/>
<path d="M209.7 1529.8 L522.1 1528.3 L522.1 1841.6 L326 1839.3 L339.2 1789.9 L335.5 1744.9 L310.3 1716.8 L266.6 1711.5 L211.2 1726.3Z" fill="none" stroke="#222" stroke-width="1.7" stroke-linejoin="round"/>
<path d="M623.8 1529.8 L936.2 1528.3 L936.2 1841.6 L740.1 1839.3 L753.3 1789.9 L749.6 1744.9 L724.4 1716.8 L680.7 1711.5 L625.3 1726.3Z" fill="none" stroke="#222" stroke-width="1.7" stroke-linejoin="round"/>
<path d="M973.8 1529.8 L1286.2 1528.3 L1286.2 1841.6 L1090.1 1839.3 L1103.3 1789.9 L1099.6 1744.9 L1074.4 1716.8 L1030.7 1711.5 L975.3 1726.3Z" fill="none" stroke="#222" stroke-width="1.7" stroke-linejoin="round"/>
<path d="M1323.6 1529.8 L1636 1528.3 L1636 1841.6 L1439.9 1839.3 L1453.1 1789.9 L1449.4 1744.9 L1424.2 1716.8 L1380.5 1711.5 L1325.1 1726.3Z" fill="none" stroke="#222" stroke-width="1.7" stroke-linejoin="round"/>
<path d="M324.2 654.8L324.2 645.1L326.2 645.5L328.2 645.3L330.2 643.2L332.2 641.7L334.2 640.5L336.2 635.2L338.2 630.0L340.2 621.2L342.2 615.1L344.2 611.5L346.2 605.3L348.2 600.5L350.2 593.3L352.2 585.3L354.2 578.4L356.2 579.8L358.2 574.4L360.2 572.2L362.2 571.7L364.2 573.2L366.2 574.3L368.2 576.4L370.2 579.3L372.2 587.1L374.2 598.7L376.2 605.3L378.2 608.3L380.2 609.9L382.2 616.8L384.2 619.3L386.2 625.8L388.2 629.2L390.2 635.7L392.2 638.3L394.2 642.9L396.2 648.5L398.2 648.7L400.2 650.3L402.2 650.9L404.2 652.5L406.2 653.1L408.2 653.4L410.2 653.6L412.2 653.9L414.2 654.2L416.2 654.4L416.2 654.8Z" fill="#a7a7a7" stroke="#222" stroke-width="1.4" stroke-linejoin="round"/>
<path d="M322.7 654.8H567.5" stroke="#8a8a8a" stroke-width="1.4"/>
<path d="M356.1 754.1L356.1 754.1L358.1 753.6L360.1 753.1L362.1 752.6L364.1 751.8L366.1 751.6L368.1 751.0L370.1 750.4L372.1 750.3L374.1 749.5L376.1 748.5L378.1 748.6L380.1 746.3L382.1 744.8L384.1 743.6L386.1 743.2L388.1 742.8L390.1 741.7L392.1 740.7L394.1 740.2L396.1 738.7L398.1 736.0L400.1 735.4L402.1 733.2L404.1 730.4L406.1 730.1L408.1 727.0L410.1 724.5L412.1 724.9L414.1 721.2L416.1 717.5L418.1 715.8L420.1 716.5L422.1 711.2L424.1 710.3L426.1 708.1L428.1 706.0L430.1 704.1L432.1 700.9L434.1 698.9L436.1 696.0L438.1 691.7L440.1 689.1L442.1 686.0L444.1 680.6L446.1 680.1L448.1 676.5L450.1 679.7L452.1 683.2L454.1 686.9L456.1 690.3L458.1 691.7L460.1 696.9L462.1 691.6L464.1 687.8L466.1 687.3L468.1 684.1L470.1 681.5L472.1 685.5L474.1 687.7L476.1 688.5L478.1 692.5L480.1 693.9L482.1 694.1L484.1 699.6L486.1 699.7L488.1 702.8L490.1 713.9L492.1 719.8L494.1 724.8L496.1 726.0L498.1 732.9L500.1 735.8L502.1 738.1L504.1 740.7L506.1 743.9L508.1 745.8L510.1 747.6L512.1 747.9L514.1 749.5L516.1 750.1L518.1 750.5L520.1 751.2L522.1 752.0L524.1 752.5L526.1 753.2L528.1 754.0L528.1 754.1Z" fill="#a7a7a7" stroke="#222" stroke-width="1.4" stroke-linejoin="round"/>
<path d="M322.7 754.1H567.5" stroke="#8a8a8a" stroke-width="1.4"/>
<path d="M352.3 853.1L352.3 853.1L354.3 852.2L356.3 851.4L358.3 850.5L360.3 850.1L362.3 848.6L364.3 847.3L366.3 847.3L368.3 846.2L370.3 844.3L372.3 842.6L374.3 840.2L376.3 837.8L378.3 835.8L380.3 834.6L382.3 832.6L384.3 832.4L386.3 830.2L388.3 826.1L390.3 826.5L392.3 823.3L394.3 822.3L396.3 820.5L398.3 817.0L400.3 811.9L402.3 812.5L404.3 807.5L406.3 808.9L408.3 803.9L410.3 802.1L412.3 802.2L414.3 795.4L416.3 795.1L418.3 791.2L420.3 789.4L422.3 786.5L424.3 785.8L426.3 782.1L428.3 780.9L430.3 779.6L432.3 775.2L434.3 777.3L436.3 773.8L438.3 772.0L440.3 773.7L442.3 775.9L444.3 776.5L446.3 775.0L448.3 777.6L450.3 779.4L452.3 781.9L454.3 782.1L456.3 785.1L458.3 784.5L460.3 786.4L462.3 789.7L464.3 791.5L466.3 792.2L468.3 794.8L470.3 796.1L472.3 798.5L474.3 800.8L476.3 801.8L478.3 803.9L480.3 804.2L482.3 805.8L484.3 805.7L486.3 811.5L488.3 813.6L490.3 816.7L492.3 816.2L494.3 820.4L496.3 822.8L498.3 823.8L500.3 830.4L502.3 834.1L504.3 834.4L506.3 839.8L508.3 844.1L510.3 844.4L512.3 846.9L514.3 848.1L516.3 849.2L518.3 849.2L520.3 850.5L522.3 851.8L524.3 852.9L524.3 853.1Z" fill="#a7a7a7" stroke="#222" stroke-width="1.4" stroke-linejoin="round"/>
<path d="M322.7 853.1H567.5" stroke="#8a8a8a" stroke-width="1.4"/>
<path d="M354.2 953.5L354.2 953.5L356.2 953.0L358.2 952.4L360.2 951.9L362.2 951.5L364.2 951.0L366.2 949.9L368.2 949.1L370.2 949.1L372.2 948.9L374.2 948.0L376.2 946.0L378.2 944.8L380.2 944.7L382.2 940.7L384.2 941.5L386.2 939.4L388.2 937.7L390.2 936.5L392.2 933.3L394.2 931.9L396.2 931.6L398.2 926.4L400.2 923.7L402.2 920.0L404.2 918.5L406.2 917.4L408.2 915.4L410.2 912.1L412.2 909.5L414.2 907.4L416.2 905.1L418.2 903.9L420.2 900.5L422.2 900.0L424.2 896.6L426.2 892.8L428.2 891.3L430.2 890.9L432.2 888.9L434.2 886.4L436.2 885.2L438.2 884.7L440.2 884.1L442.2 884.0L444.2 881.3L446.2 882.1L448.2 882.2L450.2 880.6L452.2 881.3L454.2 877.7L456.2 877.2L458.2 877.3L460.2 877.4L462.2 878.6L464.2 879.7L466.2 880.2L468.2 881.4L470.2 883.5L472.2 885.9L474.2 886.2L476.2 890.4L478.2 892.2L480.2 896.5L482.2 898.8L484.2 903.6L486.2 906.3L488.2 909.8L490.2 912.5L492.2 916.7L494.2 921.7L496.2 921.0L498.2 927.0L500.2 929.9L502.2 932.4L504.2 933.6L506.2 939.2L508.2 939.7L510.2 942.7L512.2 943.7L514.2 945.7L516.2 948.8L518.2 950.8L520.2 952.3L520.2 953.5Z" fill="#a7a7a7" stroke="#222" stroke-width="1.4" stroke-linejoin="round"/>
<path d="M322.7 953.5H567.5" stroke="#8a8a8a" stroke-width="1.4"/>
<rect x="320" y="558" width="249.8" height="400" fill="none" stroke="#000" stroke-width="5.6"/>
<path d="M324.5 961v6M354.4 961v6M380.7 961v6" stroke="#000" stroke-width="1.5"/>
<text transform="translate(5.86,33.7) scale(0.9988,1)" font-family='"Liberation Sans", Arial, sans-serif' font-size="33.62" font-weight="bold" fill="#000">A</text>
<text transform="translate(707.74,33.3) scale(1.0292,1)" font-family='"Liberation Sans", Arial, sans-serif' font-size="33.77" font-weight="bold" fill="#000">B</text>
<text transform="translate(6.72,1134) scale(1.1221,1)" font-family='"Liberation Sans", Arial, sans-serif' font-size="28.57" font-weight="bold" fill="#000">C</text>
<text transform="translate(114.75,69.8) scale(0.9459,1)" font-family='"Liberation Sans", Arial, sans-serif' font-size="34.57" fill="#000">10</text><text transform="translate(149.65,58) scale(1.3625,1)" font-family='"Liberation Sans", Arial, sans-serif' font-size="21.01" fill="#000">5</text>
<text transform="translate(114.75,154.2) scale(0.9459,1)" font-family='"Liberation Sans", Arial, sans-serif' font-size="34.57" fill="#000">10</text><text transform="translate(150.26,143.3) scale(1.2066,1)" font-family='"Liberation Sans", Arial, sans-serif' font-size="22.32" fill="#000">4</text>
<text transform="translate(112.56,254.8) scale(0.9806,1)" font-family='"Liberation Sans", Arial, sans-serif' font-size="34.57" fill="#000">10</text><text transform="translate(150.56,243.6) scale(0.9569,1)" font-family='"Liberation Sans", Arial, sans-serif' font-size="22" fill="#000">3</text>
<text transform="translate(143.48,388) scale(0.9601,1)" font-family='"Liberation Sans", Arial, sans-serif' font-size="34.29" fill="#000">0</text>
<text transform="translate(220.62,463) scale(0.9921,1)" font-family='"Liberation Sans", Arial, sans-serif' font-size="34.86" fill="#000">0</text>
<text transform="translate(330.44,463) scale(0.9811,1)" font-family='"Liberation Sans", Arial, sans-serif' font-size="34.86" fill="#000">10</text><text transform="translate(368.76,451.5) scale(0.9327,1)" font-family='"Liberation Sans", Arial, sans-serif' font-size="22.57" fill="#000">3</text>
<text transform="translate(419.5,463) scale(1.0328,1)" font-family='"Liberation Sans", Arial, sans-serif' font-size="34.86" fill="#000">10</text><text transform="translate(459.1,451.5) scale(0.8734,1)" font-family='"Liberation Sans", Arial, sans-serif' font-size="22.9" fill="#000">4</text>
<text transform="translate(511.44,463) scale(1.0184,1)" font-family='"Liberation Sans", Arial, sans-serif' font-size="34.86" fill="#000">10</text><text transform="translate(550.15,451.5) scale(0.8183,1)" font-family='"Liberation Sans", Arial, sans-serif' font-size="22.9" fill="#000">5</text>
<text transform="translate(88.6,428.6) rotate(-90) translate(-2.34,0) scale(0.8525,1)" font-family='"Liberation Sans", Arial, sans-serif' font-size="42.29" fill="#000">rCD2 FITC</text>
<text transform="translate(149.77,513.9) scale(0.9410,1)" font-family='"Liberation Sans", Arial, sans-serif' font-size="38.86" fill="#000">CD8 APC</text>
<path d="M79.5 464.5V506.8H121.2" fill="none" stroke="#000" stroke-width="2.8"/><path d="M79.5 445L90 465.5H69Z M140.7 506.8L120.2 496.3V517.3Z" fill="#000"/>
<text transform="translate(97.41,599.5) scale(0.9960,1)" font-family='"Liberation Sans", Arial, sans-serif' font-size="48.97" fill="#000">Irrelevant</text>
<text transform="translate(258.62,639.8) scale(1.0099,1)" font-family='"Liberation Sans", Arial, sans-serif' font-size="38.57" fill="#000">43</text>
<text transform="translate(50.92,699.6) scale(1.14,1)" text-anchor="middle" font-family='"Liberation Mono", "Courier New", monospace' font-size="45.22" stroke="#fff" stroke-width="1.4" fill="#a8001e">S</text>
<text transform="translate(80.97,699.6) scale(1.14,1)" text-anchor="middle" font-family='"Liberation Mono", "Courier New", monospace' font-size="45.22" stroke="#fff" stroke-width="1.4" fill="#a8001e">L</text>
<text transform="translate(111.01,699.6) scale(1.14,1)" text-anchor="middle" font-family='"Liberation Mono", "Courier New", monospace' font-size="45.22" stroke="#fff" stroke-width="1.4" fill="#a8001e">Y</text>
<text transform="translate(141.06,699.6) scale(1.14,1)" text-anchor="middle" font-family='"Liberation Mono", "Courier New", monospace' font-size="45.22" stroke="#fff" stroke-width="1.4" fill="#a8001e">N</text>
<text transform="translate(171.1,699.6) scale(1.14,1)" text-anchor="middle" font-family='"Liberation Mono", "Courier New", monospace' font-size="45.22" stroke="#fff" stroke-width="1.4" fill="#a8001e">T</text>
<text transform="translate(201.14,699.6) scale(1.14,1)" text-anchor="middle" font-family='"Liberation Mono", "Courier New", monospace' font-size="45.22" stroke="#fff" stroke-width="1.4" fill="#a8001e">V</text>
<text transform="translate(231.19,699.6) scale(1.14,1)" text-anchor="middle" font-family='"Liberation Mono", "Courier New", monospace' font-size="45.22" stroke="#fff" stroke-width="1.4" fill="#a8001e">A</text>
<text transform="translate(261.23,699.6) scale(1.14,1)" text-anchor="middle" font-family='"Liberation Mono", "Courier New", monospace' font-size="45.22" stroke="#fff" stroke-width="1.4" fill="#a8001e">T</text>
<text transform="translate(291.28,699.6) scale(1.14,1)" text-anchor="middle" font-family='"Liberation Mono", "Courier New", monospace' font-size="45.22" stroke="#fff" stroke-width="1.4" fill="#a8001e">L</text>
<text transform="translate(213.48,740.5) scale(1.0107,1)" font-family='"Liberation Sans", Arial, sans-serif' font-size="39.86" fill="#000">1999</text>
<text transform="translate(50.92,797.4) scale(1.14,1)" text-anchor="middle" font-family='"Liberation Mono", "Courier New", monospace' font-size="44.63" stroke="#fff" stroke-width="1.4" fill="#2f62f5">S</text>
<text transform="translate(80.97,797.4) scale(1.14,1)" text-anchor="middle" font-family='"Liberation Mono", "Courier New", monospace' font-size="44.63" stroke="#fff" stroke-width="1.4" fill="#2f62f5">L</text>
<text transform="translate(111.01,797.4) scale(1.14,1)" text-anchor="middle" font-family='"Liberation Mono", "Courier New", monospace' font-size="44.63" stroke="#fff" stroke-width="1.4" fill="#2f62f5">Y</text>
<text transform="translate(141.06,797.4) scale(1.14,1)" text-anchor="middle" font-family='"Liberation Mono", "Courier New", monospace' font-size="44.63" stroke="#fff" stroke-width="1.4" fill="#2f62f5">N</text>
<text transform="translate(171.1,797.4) scale(1.14,1)" text-anchor="middle" font-family='"Liberation Mono", "Courier New", monospace' font-size="44.63" stroke="#fff" stroke-width="1.4" fill="#2f62f5">T</text>
<text transform="translate(201.14,797.4) scale(1.14,1)" text-anchor="middle" font-family='"Liberation Mono", "Courier New", monospace' font-size="44.63" font-weight="bold" fill="#2f62f5">I</text>
<text transform="translate(231.19,797.4) scale(1.14,1)" text-anchor="middle" font-family='"Liberation Mono", "Courier New", monospace' font-size="44.63" stroke="#fff" stroke-width="1.4" fill="#2f62f5">A</text>
<text transform="translate(261.23,797.4) scale(1.14,1)" text-anchor="middle" font-family='"Liberation Mono", "Courier New", monospace' font-size="44.63" stroke="#fff" stroke-width="1.4" fill="#2f62f5">T</text>
<text transform="translate(291.28,797.4) scale(1.14,1)" text-anchor="middle" font-family='"Liberation Mono", "Courier New", monospace' font-size="44.63" stroke="#fff" stroke-width="1.4" fill="#2f62f5">L</text>
<rect x="186.5" y="808.9" width="29" height="3.4" fill="#2f62f5"/>
<text transform="translate(213.49,839.9) scale(1.0395,1)" font-family='"Liberation Sans", Arial, sans-serif' font-size="38.57" fill="#000">1930</text>
<text transform="translate(51.07,899.7) scale(1.14,1)" text-anchor="middle" font-family='"Liberation Mono", "Courier New", monospace' font-size="46.12" stroke="#fff" stroke-width="1.4" fill="#4f8a2e">S</text>
<text transform="translate(81.4,899.7) scale(1.14,1)" text-anchor="middle" font-family='"Liberation Mono", "Courier New", monospace' font-size="46.12" stroke="#fff" stroke-width="1.4" fill="#4f8a2e">L</text>
<text transform="translate(111.73,899.7) scale(1.14,1)" text-anchor="middle" font-family='"Liberation Mono", "Courier New", monospace' font-size="46.12" font-weight="bold" fill="#4f8a2e">F</text>
<text transform="translate(142.07,899.7) scale(1.14,1)" text-anchor="middle" font-family='"Liberation Mono", "Courier New", monospace' font-size="46.12" stroke="#fff" stroke-width="1.4" fill="#4f8a2e">N</text>
<text transform="translate(172.4,899.7) scale(1.14,1)" text-anchor="middle" font-family='"Liberation Mono", "Courier New", monospace' font-size="46.12" stroke="#fff" stroke-width="1.4" fill="#4f8a2e">T</text>
<text transform="translate(202.73,899.7) scale(1.14,1)" text-anchor="middle" font-family='"Liberation Mono", "Courier New", monospace' font-size="46.12" font-weight="bold" fill="#4f8a2e">I</text>
<text transform="translate(233.07,899.7) scale(1.14,1)" text-anchor="middle" font-family='"Liberation Mono", "Courier New", monospace' font-size="46.12" stroke="#fff" stroke-width="1.4" fill="#4f8a2e">A</text>
<text transform="translate(263.4,899.7) scale(1.14,1)" text-anchor="middle" font-family='"Liberation Mono", "Courier New", monospace' font-size="46.12" stroke="#fff" stroke-width="1.4" fill="#4f8a2e">T</text>
<text transform="translate(293.73,899.7) scale(1.14,1)" text-anchor="middle" font-family='"Liberation Mono", "Courier New", monospace' font-size="46.12" font-weight="bold" fill="#4f8a2e">V</text>
<rect x="93.4" y="910.7" width="31.3" height="3.4" fill="#4f8a2e"/>
<rect x="186.5" y="910.7" width="29" height="3.4" fill="#4f8a2e"/>
<rect x="277.3" y="910.7" width="31" height="3.4" fill="#4f8a2e"/>
<text transform="translate(213.48,943.6) scale(1.0107,1)" font-family='"Liberation Sans", Arial, sans-serif' font-size="39.86" fill="#000">1939</text>
<text transform="translate(343.61,987.1) scale(1.0105,1)" font-family='"Liberation Sans", Arial, sans-serif' font-size="34.43" fill="#000">0</text>
<text transform="translate(425.39,987.1) scale(0.9730,1)" font-family='"Liberation Sans", Arial, sans-serif' font-size="34.43" fill="#000">10</text><text transform="translate(461.38,975.3) scale(1.0927,1)" font-family='"Liberation Sans", Arial, sans-serif' font-size="21" fill="#000">3</text>
<text transform="translate(487.09,987.1) scale(0.9730,1)" font-family='"Liberation Sans", Arial, sans-serif' font-size="34.43" fill="#000">10</text><text transform="translate(523.53,975.3) scale(1.0968,1)" font-family='"Liberation Sans", Arial, sans-serif' font-size="21.3" fill="#000">4</text>
<text transform="translate(331.82,1030.7) scale(0.9527,1)" font-family='"Liberation Sans", Arial, sans-serif' font-size="40.72" fill="#000">Tetramer PE</text>
<text transform="translate(891.02,48.4) scale(0.9921,1)" font-family='"Liberation Sans", Arial, sans-serif' font-size="55.72" fill="#000">Irrelevant</text>
<text transform="translate(1316.73,44.5) scale(1.14,1)" text-anchor="middle" font-family='"Liberation Mono", "Courier New", monospace' font-size="45.97" stroke="#fff" stroke-width="1.4" fill="#a8001e">S</text>
<text transform="translate(1346.98,44.5) scale(1.14,1)" text-anchor="middle" font-family='"Liberation Mono", "Courier New", monospace' font-size="45.97" stroke="#fff" stroke-width="1.4" fill="#a8001e">L</text>
<text transform="translate(1377.24,44.5) scale(1.14,1)" text-anchor="middle" font-family='"Liberation Mono", "Courier New", monospace' font-size="45.97" stroke="#fff" stroke-width="1.4" fill="#a8001e">Y</text>
<text transform="translate(1407.49,44.5) scale(1.14,1)" text-anchor="middle" font-family='"Liberation Mono", "Courier New", monospace' font-size="45.97" stroke="#fff" stroke-width="1.4" fill="#a8001e">N</text>
<text transform="translate(1437.75,44.5) scale(1.14,1)" text-anchor="middle" font-family='"Liberation Mono", "Courier New", monospace' font-size="45.97" stroke="#fff" stroke-width="1.4" fill="#a8001e">T</text>
<text transform="translate(1468.01,44.5) scale(1.14,1)" text-anchor="middle" font-family='"Liberation Mono", "Courier New", monospace' font-size="45.97" stroke="#fff" stroke-width="1.4" fill="#a8001e">V</text>
<text transform="translate(1498.26,44.5) scale(1.14,1)" text-anchor="middle" font-family='"Liberation Mono", "Courier New", monospace' font-size="45.97" stroke="#fff" stroke-width="1.4" fill="#a8001e">A</text>
<text transform="translate(1528.52,44.5) scale(1.14,1)" text-anchor="middle" font-family='"Liberation Mono", "Courier New", monospace' font-size="45.97" stroke="#fff" stroke-width="1.4" fill="#a8001e">T</text>
<text transform="translate(1558.77,44.5) scale(1.14,1)" text-anchor="middle" font-family='"Liberation Mono", "Courier New", monospace' font-size="45.97" stroke="#fff" stroke-width="1.4" fill="#a8001e">L</text>
<text transform="translate(897.66,516) scale(1.14,1)" text-anchor="middle" font-family='"Liberation Mono", "Courier New", monospace' font-size="45.22" stroke="#fff" stroke-width="1.4" fill="#2f62f5">S</text>
<text transform="translate(927.77,516) scale(1.14,1)" text-anchor="middle" font-family='"Liberation Mono", "Courier New", monospace' font-size="45.22" stroke="#fff" stroke-width="1.4" fill="#2f62f5">L</text>
<text transform="translate(957.88,516) scale(1.14,1)" text-anchor="middle" font-family='"Liberation Mono", "Courier New", monospace' font-size="45.22" stroke="#fff" stroke-width="1.4" fill="#2f62f5">Y</text>
<text transform="translate(987.99,516) scale(1.14,1)" text-anchor="middle" font-family='"Liberation Mono", "Courier New", monospace' font-size="45.22" stroke="#fff" stroke-width="1.4" fill="#2f62f5">N</text>
<text transform="translate(1018.1,516) scale(1.14,1)" text-anchor="middle" font-family='"Liberation Mono", "Courier New", monospace' font-size="45.22" stroke="#fff" stroke-width="1.4" fill="#2f62f5">T</text>
<text transform="translate(1048.21,516) scale(1.14,1)" text-anchor="middle" font-family='"Liberation Mono", "Courier New", monospace' font-size="45.22" font-weight="bold" fill="#2f62f5">I</text>
<text transform="translate(1078.32,516) scale(1.14,1)" text-anchor="middle" font-family='"Liberation Mono", "Courier New", monospace' font-size="45.22" stroke="#fff" stroke-width="1.4" fill="#2f62f5">A</text>
<text transform="translate(1108.43,516) scale(1.14,1)" text-anchor="middle" font-family='"Liberation Mono", "Courier New", monospace' font-size="45.22" stroke="#fff" stroke-width="1.4" fill="#2f62f5">T</text>
<text transform="translate(1138.54,516) scale(1.14,1)" text-anchor="middle" font-family='"Liberation Mono", "Courier New", monospace' font-size="45.22" stroke="#fff" stroke-width="1.4" fill="#2f62f5">L</text>
<rect x="1033.8" y="528" width="29.2" height="2.9" fill="#2f62f5"/>
<text transform="translate(1311.94,517.4) scale(1.14,1)" text-anchor="middle" font-family='"Liberation Mono", "Courier New", monospace' font-size="45.37" stroke="#fff" stroke-width="1.4" fill="#4f8a2e">S</text>
<text transform="translate(1341.83,517.4) scale(1.14,1)" text-anchor="middle" font-family='"Liberation Mono", "Courier New", monospace' font-size="45.37" stroke="#fff" stroke-width="1.4" fill="#4f8a2e">L</text>
<text transform="translate(1371.72,517.4) scale(1.14,1)" text-anchor="middle" font-family='"Liberation Mono", "Courier New", monospace' font-size="45.37" font-weight="bold" fill="#4f8a2e">F</text>
<text transform="translate(1401.61,517.4) scale(1.14,1)" text-anchor="middle" font-family='"Liberation Mono", "Courier New", monospace' font-size="45.37" stroke="#fff" stroke-width="1.4" fill="#4f8a2e">N</text>
<text transform="translate(1431.5,517.4) scale(1.14,1)" text-anchor="middle" font-family='"Liberation Mono", "Courier New", monospace' font-size="45.37" stroke="#fff" stroke-width="1.4" fill="#4f8a2e">T</text>
<text transform="translate(1461.39,517.4) scale(1.14,1)" text-anchor="middle" font-family='"Liberation Mono", "Courier New", monospace' font-size="45.37" font-weight="bold" fill="#4f8a2e">I</text>
<text transform="translate(1491.28,517.4) scale(1.14,1)" text-anchor="middle" font-family='"Liberation Mono", "Courier New", monospace' font-size="45.37" stroke="#fff" stroke-width="1.4" fill="#4f8a2e">A</text>
<text transform="translate(1521.17,517.4) scale(1.14,1)" text-anchor="middle" font-family='"Liberation Mono", "Courier New", monospace' font-size="45.37" font-weight="bold" fill="#4f8a2e">V</text>
<text transform="translate(1551.06,517.4) scale(1.14,1)" text-anchor="middle" font-family='"Liberation Mono", "Courier New", monospace' font-size="45.37" stroke="#fff" stroke-width="1.4" fill="#4f8a2e">L</text>
<rect x="1354.1" y="528.4" width="31.3" height="3.1" fill="#4f8a2e"/>
<rect x="1446.8" y="528.4" width="29.2" height="3.1" fill="#4f8a2e"/>
<rect x="1507.9" y="528.4" width="29.4" height="3.1" fill="#4f8a2e"/>
<text transform="translate(721.49,199.5) scale(1.0422,1)" font-family='"Liberation Sans", Arial, sans-serif' font-size="32.14" fill="#000">10</text><text transform="translate(757.95,187.7) scale(1.2531,1)" font-family='"Liberation Sans", Arial, sans-serif' font-size="21" fill="#000">3</text>
<text transform="translate(750.62,402.4) scale(1.0742,1)" font-family='"Liberation Sans", Arial, sans-serif' font-size="32" fill="#000">0</text>
<text transform="translate(724.5,674.5) scale(1.0391,1)" font-family='"Liberation Sans", Arial, sans-serif' font-size="32.14" fill="#000">10</text><text transform="translate(760.54,662.5) scale(1.3455,1)" font-family='"Liberation Sans", Arial, sans-serif' font-size="19.71" fill="#000">3</text>
<text transform="translate(755.08,877) scale(1.1269,1)" font-family='"Liberation Sans", Arial, sans-serif' font-size="31.43" fill="#000">0</text>
<text transform="translate(831.38,978) scale(1.1019,1)" font-family='"Liberation Sans", Arial, sans-serif' font-size="32.14" fill="#000">0</text>
<text transform="translate(971.5,978) scale(1.0391,1)" font-family='"Liberation Sans", Arial, sans-serif' font-size="32.14" fill="#000">10</text><text transform="translate(1008.07,966) scale(1.1180,1)" font-family='"Liberation Sans", Arial, sans-serif' font-size="20.71" fill="#000">3</text>
<text transform="translate(1074.49,978) scale(1.0391,1)" font-family='"Liberation Sans", Arial, sans-serif' font-size="32.14" fill="#000">10</text><text transform="translate(1111.5,966) scale(1.1779,1)" font-family='"Liberation Sans", Arial, sans-serif' font-size="21.01" fill="#000">4</text>
<text transform="translate(1265.78,978) scale(1.1019,1)" font-family='"Liberation Sans", Arial, sans-serif' font-size="32.14" fill="#000">0</text>
<text transform="translate(1406.79,978) scale(1.0391,1)" font-family='"Liberation Sans", Arial, sans-serif' font-size="32.14" fill="#000">10</text><text transform="translate(1443.37,966) scale(1.1180,1)" font-family='"Liberation Sans", Arial, sans-serif' font-size="20.71" fill="#000">3</text>
<text transform="translate(1510.79,978) scale(1.0391,1)" font-family='"Liberation Sans", Arial, sans-serif' font-size="32.14" fill="#000">10</text><text transform="translate(1547.8,966) scale(1.1779,1)" font-family='"Liberation Sans", Arial, sans-serif' font-size="21.01" fill="#000">4</text>
<text transform="translate(1519.61,387.3) scale(0.9176,1)" font-family='"Liberation Sans", Arial, sans-serif' font-size="48.63" fill="#000">45%</text>
<text transform="translate(1504.46,442) scale(0.9735,1)" font-family='"Liberation Sans", Arial, sans-serif' font-size="48" fill="#000">2210</text>
<text transform="translate(1094.8,859.4) scale(0.9191,1)" font-family='"Liberation Sans", Arial, sans-serif' font-size="48.78" fill="#000">45%</text>
<text transform="translate(1078.44,915) scale(0.9765,1)" font-family='"Liberation Sans", Arial, sans-serif' font-size="48.29" fill="#000">2552</text>
<text transform="translate(1523.52,859.4) scale(0.9066,1)" font-family='"Liberation Sans", Arial, sans-serif' font-size="48.43" fill="#000">46%</text>
<text transform="translate(1507.25,915) scale(0.9742,1)" font-family='"Liberation Sans", Arial, sans-serif' font-size="48.29" fill="#000">2669</text>
<text transform="translate(713.3,943.9) rotate(-90) translate(-2.35,0) scale(0.8469,1)" font-family='"Liberation Sans", Arial, sans-serif' font-size="42.71" fill="#000">rCD2 FITC</text>
<text transform="translate(774.52,1030) scale(0.9758,1)" font-family='"Liberation Sans", Arial, sans-serif' font-size="39.86" fill="#000">Tetramer PE</text>
<path d="M704.8 979.5V1020.9H746.6" fill="none" stroke="#000" stroke-width="2.8"/><path d="M704.8 960L715.3 980.5H694.3Z M766.1 1020.9L745.6 1010.4V1031.4Z" fill="#000"/>
<text transform="translate(267.89,1157.5) scale(0.9944,1)" font-family='"Liberation Sans", Arial, sans-serif' font-size="54.48" fill="#000">Controls</text>
<text transform="translate(715.19,1155.9) scale(0.9775,1)" font-family='"Liberation Serif", "Times New Roman", serif' font-size="53.08" fill="#000">10</text>
<text transform="translate(765.96,1139.3) scale(1.0148,1)" font-family='"Liberation Serif", "Times New Roman", serif' font-size="32.12" fill="#000">-6</text>
<text transform="translate(801.18,1155.9) scale(1.0015,1)" font-family='"Liberation Serif", "Times New Roman", serif' font-size="53.89" fill="#000">M</text>
<text transform="translate(1064.39,1155.9) scale(0.9775,1)" font-family='"Liberation Serif", "Times New Roman", serif' font-size="53.08" fill="#000">10</text>
<text transform="translate(1115.16,1139.3) scale(1.0071,1)" font-family='"Liberation Serif", "Times New Roman", serif' font-size="32.37" fill="#000">-7</text>
<text transform="translate(1150.38,1155.9) scale(1.0015,1)" font-family='"Liberation Serif", "Times New Roman", serif' font-size="53.89" fill="#000">M</text>
<text transform="translate(1390.09,1155.9) scale(0.9775,1)" font-family='"Liberation Serif", "Times New Roman", serif' font-size="53.08" fill="#000">10</text>
<text transform="translate(1440.84,1139.3) scale(1.0360,1)" font-family='"Liberation Serif", "Times New Roman", serif' font-size="31.88" fill="#000">-8</text>
<text transform="translate(1478.18,1155.9) scale(1.0015,1)" font-family='"Liberation Serif", "Times New Roman", serif' font-size="53.89" fill="#000">M</text>
<text transform="translate(44.4,1476.3) rotate(-90) translate(-0.99,0) scale(0.8739,1)" font-family='"Liberation Sans", Arial, sans-serif' font-size="56.41" fill="#000">T-cells alone</text>
<text transform="translate(44.4,1854.5) rotate(-90) translate(-0.98,0) scale(0.9525,1)" font-family='"Liberation Sans", Arial, sans-serif' font-size="51.59" fill="#000">T-cells + APC</text>
<text transform="translate(576.9,1465.88) rotate(-90) scale(1.14,1)" text-anchor="middle" font-family='"Liberation Mono", "Courier New", monospace' font-size="45.07" stroke="#fff" stroke-width="1.4" fill="#a8001e">S</text>
<text transform="translate(576.9,1436.03) rotate(-90) scale(1.14,1)" text-anchor="middle" font-family='"Liberation Mono", "Courier New", monospace' font-size="45.07" stroke="#fff" stroke-width="1.4" fill="#a8001e">L</text>
<text transform="translate(576.9,1406.19) rotate(-90) scale(1.14,1)" text-anchor="middle" font-family='"Liberation Mono", "Courier New", monospace' font-size="45.07" stroke="#fff" stroke-width="1.4" fill="#a8001e">Y</text>
<text transform="translate(576.9,1376.34) rotate(-90) scale(1.14,1)" text-anchor="middle" font-family='"Liberation Mono", "Courier New", monospace' font-size="45.07" stroke="#fff" stroke-width="1.4" fill="#a8001e">N</text>
<text transform="translate(576.9,1346.5) rotate(-90) scale(1.14,1)" text-anchor="middle" font-family='"Liberation Mono", "Courier New", monospace' font-size="45.07" stroke="#fff" stroke-width="1.4" fill="#a8001e">T</text>
<text transform="translate(576.9,1316.66) rotate(-90) scale(1.14,1)" text-anchor="middle" font-family='"Liberation Mono", "Courier New", monospace' font-size="45.07" stroke="#fff" stroke-width="1.4" fill="#a8001e">V</text>
<text transform="translate(576.9,1286.81) rotate(-90) scale(1.14,1)" text-anchor="middle" font-family='"Liberation Mono", "Courier New", monospace' font-size="45.07" stroke="#fff" stroke-width="1.4" fill="#a8001e">A</text>
<text transform="translate(576.9,1256.97) rotate(-90) scale(1.14,1)" text-anchor="middle" font-family='"Liberation Mono", "Courier New", monospace' font-size="45.07" stroke="#fff" stroke-width="1.4" fill="#a8001e">T</text>
<text transform="translate(576.9,1227.12) rotate(-90) scale(1.14,1)" text-anchor="middle" font-family='"Liberation Mono", "Courier New", monospace' font-size="45.07" stroke="#fff" stroke-width="1.4" fill="#a8001e">L</text>
<text transform="translate(572.1,1799.81) rotate(-90) scale(1.14,1)" text-anchor="middle" font-family='"Liberation Mono", "Courier New", monospace' font-size="44.33" stroke="#fff" stroke-width="1.4" fill="#4f8a2e">S</text>
<text transform="translate(572.1,1770.22) rotate(-90) scale(1.14,1)" text-anchor="middle" font-family='"Liberation Mono", "Courier New", monospace' font-size="44.33" stroke="#fff" stroke-width="1.4" fill="#4f8a2e">L</text>
<text transform="translate(572.1,1740.63) rotate(-90) scale(1.14,1)" text-anchor="middle" font-family='"Liberation Mono", "Courier New", monospace' font-size="44.33" font-weight="bold" fill="#4f8a2e">F</text>
<text transform="translate(572.1,1711.04) rotate(-90) scale(1.14,1)" text-anchor="middle" font-family='"Liberation Mono", "Courier New", monospace' font-size="44.33" stroke="#fff" stroke-width="1.4" fill="#4f8a2e">N</text>
<text transform="translate(572.1,1681.45) rotate(-90) scale(1.14,1)" text-anchor="middle" font-family='"Liberation Mono", "Courier New", monospace' font-size="44.33" stroke="#fff" stroke-width="1.4" fill="#4f8a2e">T</text>
<text transform="translate(572.1,1651.86) rotate(-90) scale(1.14,1)" text-anchor="middle" font-family='"Liberation Mono", "Courier New", monospace' font-size="44.33" font-weight="bold" fill="#4f8a2e">I</text>
<text transform="translate(572.1,1622.27) rotate(-90) scale(1.14,1)" text-anchor="middle" font-family='"Liberation Mono", "Courier New", monospace' font-size="44.33" stroke="#fff" stroke-width="1.4" fill="#4f8a2e">A</text>
<text transform="translate(572.1,1592.68) rotate(-90) scale(1.14,1)" text-anchor="middle" font-family='"Liberation Mono", "Courier New", monospace' font-size="44.33" font-weight="bold" fill="#4f8a2e">V</text>
<text transform="translate(572.1,1563.09) rotate(-90) scale(1.14,1)" text-anchor="middle" font-family='"Liberation Mono", "Courier New", monospace' font-size="44.33" stroke="#fff" stroke-width="1.4" fill="#4f8a2e">L</text>
<rect x="584" y="1729.5" width="3.6" height="30.2" fill="#4f8a2e"/>
<rect x="584" y="1638.1" width="3.6" height="28.6" fill="#4f8a2e"/>
<rect x="584" y="1576.1" width="3.6" height="28.6" fill="#4f8a2e"/>
<text transform="translate(138.57,1221) scale(0.9776,1)" font-family='"Liberation Sans", Arial, sans-serif' font-size="33.14" fill="#000">10</text><text transform="translate(173.76,1209.8) scale(1.3564,1)" font-family='"Liberation Sans", Arial, sans-serif' font-size="20" fill="#000">4</text>
<text transform="translate(138.57,1323.3) scale(0.9818,1)" font-family='"Liberation Sans", Arial, sans-serif' font-size="33" fill="#000">10</text><text transform="translate(173.15,1310) scale(1.6825,1)" font-family='"Liberation Sans", Arial, sans-serif' font-size="17.14" fill="#000">3</text>
<text transform="translate(168.39,1439.6) scale(0.9702,1)" font-family='"Liberation Sans", Arial, sans-serif' font-size="33.71" fill="#000">0</text>
<text transform="translate(138.57,1572.1) scale(0.9776,1)" font-family='"Liberation Sans", Arial, sans-serif' font-size="33.14" fill="#000">10</text><text transform="translate(173.76,1560.9) scale(1.3564,1)" font-family='"Liberation Sans", Arial, sans-serif' font-size="20" fill="#000">4</text>
<text transform="translate(138.57,1674.4) scale(0.9818,1)" font-family='"Liberation Sans", Arial, sans-serif' font-size="33" fill="#000">10</text><text transform="translate(173.15,1661.1) scale(1.6825,1)" font-family='"Liberation Sans", Arial, sans-serif' font-size="17.14" fill="#000">3</text>
<text transform="translate(168.39,1790.7) scale(0.9702,1)" font-family='"Liberation Sans", Arial, sans-serif' font-size="33.71" fill="#000">0</text>
<text transform="translate(242.35,1887) scale(0.9511,1)" font-family='"Liberation Sans", Arial, sans-serif' font-size="32.86" fill="#000">0</text>
<text transform="translate(341.6,1887) scale(0.9739,1)" font-family='"Liberation Sans", Arial, sans-serif' font-size="32.86" fill="#000">10</text><text transform="translate(376.3,1875) scale(1.4947,1)" font-family='"Liberation Sans", Arial, sans-serif' font-size="20" fill="#000">3</text>
<text transform="translate(432.4,1887) scale(0.9739,1)" font-family='"Liberation Sans", Arial, sans-serif' font-size="32.86" fill="#000">10</text><text transform="translate(467.7,1875) scale(1.4835,1)" font-family='"Liberation Sans", Arial, sans-serif' font-size="20.29" fill="#000">4</text>
<text transform="translate(656.45,1887) scale(0.9511,1)" font-family='"Liberation Sans", Arial, sans-serif' font-size="32.86" fill="#000">0</text>
<text transform="translate(755.7,1887) scale(0.9739,1)" font-family='"Liberation Sans", Arial, sans-serif' font-size="32.86" fill="#000">10</text><text transform="translate(790.4,1875) scale(1.4947,1)" font-family='"Liberation Sans", Arial, sans-serif' font-size="20" fill="#000">3</text>
<text transform="translate(846.5,1887) scale(0.9739,1)" font-family='"Liberation Sans", Arial, sans-serif' font-size="32.86" fill="#000">10</text><text transform="translate(881.8,1875) scale(1.4835,1)" font-family='"Liberation Sans", Arial, sans-serif' font-size="20.29" fill="#000">4</text>
<text transform="translate(1006.45,1887) scale(0.9511,1)" font-family='"Liberation Sans", Arial, sans-serif' font-size="32.86" fill="#000">0</text>
<text transform="translate(1105.7,1887) scale(0.9739,1)" font-family='"Liberation Sans", Arial, sans-serif' font-size="32.86" fill="#000">10</text><text transform="translate(1140.4,1875) scale(1.4947,1)" font-family='"Liberation Sans", Arial, sans-serif' font-size="20" fill="#000">3</text>
<text transform="translate(1196.5,1887) scale(0.9739,1)" font-family='"Liberation Sans", Arial, sans-serif' font-size="32.86" fill="#000">10</text><text transform="translate(1231.8,1875) scale(1.4835,1)" font-family='"Liberation Sans", Arial, sans-serif' font-size="20.29" fill="#000">4</text>
<text transform="translate(1356.25,1887) scale(0.9511,1)" font-family='"Liberation Sans", Arial, sans-serif' font-size="32.86" fill="#000">0</text>
<text transform="translate(1455.5,1887) scale(0.9739,1)" font-family='"Liberation Sans", Arial, sans-serif' font-size="32.86" fill="#000">10</text><text transform="translate(1490.2,1875) scale(1.4947,1)" font-family='"Liberation Sans", Arial, sans-serif' font-size="20" fill="#000">3</text>
<text transform="translate(1546.3,1887) scale(0.9739,1)" font-family='"Liberation Sans", Arial, sans-serif' font-size="32.86" fill="#000">10</text><text transform="translate(1581.6,1875) scale(1.4835,1)" font-family='"Liberation Sans", Arial, sans-serif' font-size="20.29" fill="#000">4</text>
<text transform="translate(443.97,1226.8) scale(0.9769,1)" font-family='"Liberation Sans", Arial, sans-serif' font-size="51.86" fill="#000">0%</text>
<text transform="translate(823.14,1225) scale(1.0111,1)" font-family='"Liberation Sans", Arial, sans-serif' font-size="50.71" fill="#000">62%</text>
<text transform="translate(1171.09,1225) scale(1.0026,1)" font-family='"Liberation Sans", Arial, sans-serif' font-size="50.71" fill="#000">13%</text>
<text transform="translate(1508.13,1225.2) scale(0.9788,1)" font-family='"Liberation Sans", Arial, sans-serif' font-size="51.37" fill="#000">1.4%</text>
<text transform="translate(441.51,1581.2) scale(0.9774,1)" font-family='"Liberation Sans", Arial, sans-serif' font-size="50.86" fill="#000">2%</text>
<text transform="translate(822.96,1576.1) scale(0.9957,1)" font-family='"Liberation Sans", Arial, sans-serif' font-size="51.08" fill="#000">74%</text>
<text transform="translate(1173.33,1576.1) scale(1.0617,1)" font-family='"Liberation Sans", Arial, sans-serif' font-size="51.08" fill="#000">11%</text>
<text transform="translate(1506.01,1576.1) scale(1.0205,1)" font-family='"Liberation Sans", Arial, sans-serif' font-size="50.71" fill="#000">2.4%</text>
<text transform="translate(109.4,1867.5) rotate(-90) translate(-0.73,0) scale(1.0156,1)" font-family='"Liberation Sans", Arial, sans-serif' font-size="36" fill="#000">TNFα PE-Vio770</text>
<text transform="translate(164.98,1941) scale(1.0458,1)" font-family='"Liberation Sans", Arial, sans-serif' font-size="34.86" fill="#000">CD107a PE</text>
<path d="M98.2 1891.2V1933.5H137.9" fill="none" stroke="#000" stroke-width="2.8"/><path d="M98.2 1871.7L108.7 1892.2H87.7Z M157.4 1933.5L136.9 1923V1944Z" fill="#000"/>
</svg></body></html>
